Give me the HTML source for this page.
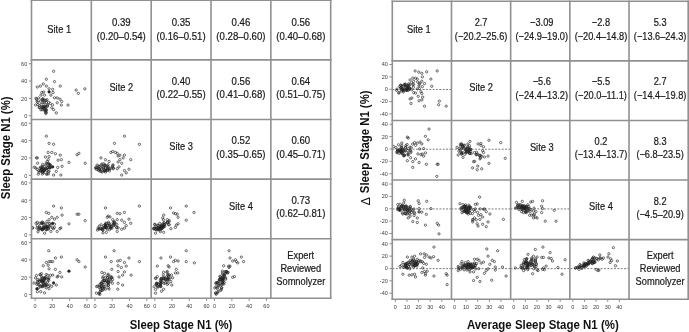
<!DOCTYPE html>
<html><head><meta charset="utf-8"><style>
html,body{margin:0;padding:0;background:#fff;}
svg{display:block;font-family:"Liberation Sans", sans-serif;filter:grayscale(1);}
</style></head><body>
<svg width="689" height="332" viewBox="0 0 689 332">
<rect x="0" y="0" width="689" height="332" fill="#fff"/>
<line x1="28.80" y1="115.70" x2="31.50" y2="115.70" stroke="#3a3a3a" stroke-width="0.6"/>
<text transform="translate(27.20,118.10) scale(1.000,1)" font-size="5.5" text-anchor="end" font-weight="normal" fill="#3a3a3a">0</text>
<line x1="28.80" y1="98.37" x2="31.50" y2="98.37" stroke="#3a3a3a" stroke-width="0.6"/>
<text transform="translate(27.20,100.77) scale(1.000,1)" font-size="5.5" text-anchor="end" font-weight="normal" fill="#3a3a3a">20</text>
<line x1="28.80" y1="81.03" x2="31.50" y2="81.03" stroke="#3a3a3a" stroke-width="0.6"/>
<text transform="translate(27.20,83.43) scale(1.000,1)" font-size="5.5" text-anchor="end" font-weight="normal" fill="#3a3a3a">40</text>
<line x1="28.80" y1="63.70" x2="31.50" y2="63.70" stroke="#3a3a3a" stroke-width="0.6"/>
<text transform="translate(27.20,66.10) scale(1.000,1)" font-size="5.5" text-anchor="end" font-weight="normal" fill="#3a3a3a">60</text>
<line x1="28.80" y1="175.30" x2="31.50" y2="175.30" stroke="#3a3a3a" stroke-width="0.6"/>
<text transform="translate(27.20,177.70) scale(1.000,1)" font-size="5.5" text-anchor="end" font-weight="normal" fill="#3a3a3a">0</text>
<line x1="28.80" y1="157.97" x2="31.50" y2="157.97" stroke="#3a3a3a" stroke-width="0.6"/>
<text transform="translate(27.20,160.37) scale(1.000,1)" font-size="5.5" text-anchor="end" font-weight="normal" fill="#3a3a3a">20</text>
<line x1="28.80" y1="140.63" x2="31.50" y2="140.63" stroke="#3a3a3a" stroke-width="0.6"/>
<text transform="translate(27.20,143.03) scale(1.000,1)" font-size="5.5" text-anchor="end" font-weight="normal" fill="#3a3a3a">40</text>
<line x1="28.80" y1="123.30" x2="31.50" y2="123.30" stroke="#3a3a3a" stroke-width="0.6"/>
<text transform="translate(27.20,125.70) scale(1.000,1)" font-size="5.5" text-anchor="end" font-weight="normal" fill="#3a3a3a">60</text>
<line x1="28.80" y1="234.90" x2="31.50" y2="234.90" stroke="#3a3a3a" stroke-width="0.6"/>
<text transform="translate(27.20,237.30) scale(1.000,1)" font-size="5.5" text-anchor="end" font-weight="normal" fill="#3a3a3a">0</text>
<line x1="28.80" y1="217.57" x2="31.50" y2="217.57" stroke="#3a3a3a" stroke-width="0.6"/>
<text transform="translate(27.20,219.97) scale(1.000,1)" font-size="5.5" text-anchor="end" font-weight="normal" fill="#3a3a3a">20</text>
<line x1="28.80" y1="200.23" x2="31.50" y2="200.23" stroke="#3a3a3a" stroke-width="0.6"/>
<text transform="translate(27.20,202.63) scale(1.000,1)" font-size="5.5" text-anchor="end" font-weight="normal" fill="#3a3a3a">40</text>
<line x1="28.80" y1="182.90" x2="31.50" y2="182.90" stroke="#3a3a3a" stroke-width="0.6"/>
<text transform="translate(27.20,185.30) scale(1.000,1)" font-size="5.5" text-anchor="end" font-weight="normal" fill="#3a3a3a">60</text>
<line x1="28.80" y1="294.50" x2="31.50" y2="294.50" stroke="#3a3a3a" stroke-width="0.6"/>
<text transform="translate(27.20,296.90) scale(1.000,1)" font-size="5.5" text-anchor="end" font-weight="normal" fill="#3a3a3a">0</text>
<line x1="28.80" y1="277.17" x2="31.50" y2="277.17" stroke="#3a3a3a" stroke-width="0.6"/>
<text transform="translate(27.20,279.57) scale(1.000,1)" font-size="5.5" text-anchor="end" font-weight="normal" fill="#3a3a3a">20</text>
<line x1="28.80" y1="259.83" x2="31.50" y2="259.83" stroke="#3a3a3a" stroke-width="0.6"/>
<text transform="translate(27.20,262.23) scale(1.000,1)" font-size="5.5" text-anchor="end" font-weight="normal" fill="#3a3a3a">40</text>
<line x1="28.80" y1="242.50" x2="31.50" y2="242.50" stroke="#3a3a3a" stroke-width="0.6"/>
<text transform="translate(27.20,244.90) scale(1.000,1)" font-size="5.5" text-anchor="end" font-weight="normal" fill="#3a3a3a">60</text>
<line x1="35.10" y1="298.30" x2="35.10" y2="300.90" stroke="#3a3a3a" stroke-width="0.6"/>
<text transform="translate(35.10,308.10) scale(1.000,1)" font-size="5.5" text-anchor="middle" font-weight="normal" fill="#3a3a3a">0</text>
<line x1="52.37" y1="298.30" x2="52.37" y2="300.90" stroke="#3a3a3a" stroke-width="0.6"/>
<text transform="translate(52.37,308.10) scale(1.000,1)" font-size="5.5" text-anchor="middle" font-weight="normal" fill="#3a3a3a">20</text>
<line x1="69.64" y1="298.30" x2="69.64" y2="300.90" stroke="#3a3a3a" stroke-width="0.6"/>
<text transform="translate(69.64,308.10) scale(1.000,1)" font-size="5.5" text-anchor="middle" font-weight="normal" fill="#3a3a3a">40</text>
<line x1="86.91" y1="298.30" x2="86.91" y2="300.90" stroke="#3a3a3a" stroke-width="0.6"/>
<text transform="translate(86.91,308.10) scale(1.000,1)" font-size="5.5" text-anchor="middle" font-weight="normal" fill="#3a3a3a">60</text>
<line x1="94.94" y1="298.30" x2="94.94" y2="300.90" stroke="#3a3a3a" stroke-width="0.6"/>
<text transform="translate(94.94,308.10) scale(1.000,1)" font-size="5.5" text-anchor="middle" font-weight="normal" fill="#3a3a3a">0</text>
<line x1="112.21" y1="298.30" x2="112.21" y2="300.90" stroke="#3a3a3a" stroke-width="0.6"/>
<text transform="translate(112.21,308.10) scale(1.000,1)" font-size="5.5" text-anchor="middle" font-weight="normal" fill="#3a3a3a">20</text>
<line x1="129.48" y1="298.30" x2="129.48" y2="300.90" stroke="#3a3a3a" stroke-width="0.6"/>
<text transform="translate(129.48,308.10) scale(1.000,1)" font-size="5.5" text-anchor="middle" font-weight="normal" fill="#3a3a3a">40</text>
<line x1="146.75" y1="298.30" x2="146.75" y2="300.90" stroke="#3a3a3a" stroke-width="0.6"/>
<text transform="translate(146.75,308.10) scale(1.000,1)" font-size="5.5" text-anchor="middle" font-weight="normal" fill="#3a3a3a">60</text>
<line x1="154.78" y1="298.30" x2="154.78" y2="300.90" stroke="#3a3a3a" stroke-width="0.6"/>
<text transform="translate(154.78,308.10) scale(1.000,1)" font-size="5.5" text-anchor="middle" font-weight="normal" fill="#3a3a3a">0</text>
<line x1="172.05" y1="298.30" x2="172.05" y2="300.90" stroke="#3a3a3a" stroke-width="0.6"/>
<text transform="translate(172.05,308.10) scale(1.000,1)" font-size="5.5" text-anchor="middle" font-weight="normal" fill="#3a3a3a">20</text>
<line x1="189.32" y1="298.30" x2="189.32" y2="300.90" stroke="#3a3a3a" stroke-width="0.6"/>
<text transform="translate(189.32,308.10) scale(1.000,1)" font-size="5.5" text-anchor="middle" font-weight="normal" fill="#3a3a3a">40</text>
<line x1="206.59" y1="298.30" x2="206.59" y2="300.90" stroke="#3a3a3a" stroke-width="0.6"/>
<text transform="translate(206.59,308.10) scale(1.000,1)" font-size="5.5" text-anchor="middle" font-weight="normal" fill="#3a3a3a">60</text>
<line x1="214.62" y1="298.30" x2="214.62" y2="300.90" stroke="#3a3a3a" stroke-width="0.6"/>
<text transform="translate(214.62,308.10) scale(1.000,1)" font-size="5.5" text-anchor="middle" font-weight="normal" fill="#3a3a3a">0</text>
<line x1="231.89" y1="298.30" x2="231.89" y2="300.90" stroke="#3a3a3a" stroke-width="0.6"/>
<text transform="translate(231.89,308.10) scale(1.000,1)" font-size="5.5" text-anchor="middle" font-weight="normal" fill="#3a3a3a">20</text>
<line x1="249.16" y1="298.30" x2="249.16" y2="300.90" stroke="#3a3a3a" stroke-width="0.6"/>
<text transform="translate(249.16,308.10) scale(1.000,1)" font-size="5.5" text-anchor="middle" font-weight="normal" fill="#3a3a3a">40</text>
<line x1="266.43" y1="298.30" x2="266.43" y2="300.90" stroke="#3a3a3a" stroke-width="0.6"/>
<text transform="translate(266.43,308.10) scale(1.000,1)" font-size="5.5" text-anchor="middle" font-weight="normal" fill="#3a3a3a">60</text>
<line x1="389.40" y1="64.53" x2="392.30" y2="64.53" stroke="#3a3a3a" stroke-width="0.6"/>
<text transform="translate(387.80,66.43) scale(1.000,1)" font-size="5.5" text-anchor="end" font-weight="normal" fill="#3a3a3a">40</text>
<line x1="389.40" y1="76.88" x2="392.30" y2="76.88" stroke="#3a3a3a" stroke-width="0.6"/>
<text transform="translate(387.80,78.78) scale(1.000,1)" font-size="5.5" text-anchor="end" font-weight="normal" fill="#3a3a3a">20</text>
<line x1="389.40" y1="89.23" x2="392.30" y2="89.23" stroke="#3a3a3a" stroke-width="0.6"/>
<text transform="translate(387.80,91.13) scale(1.000,1)" font-size="5.5" text-anchor="end" font-weight="normal" fill="#3a3a3a">0</text>
<line x1="389.40" y1="101.58" x2="392.30" y2="101.58" stroke="#3a3a3a" stroke-width="0.6"/>
<text transform="translate(387.80,103.48) scale(1.000,1)" font-size="5.5" text-anchor="end" font-weight="normal" fill="#3a3a3a">-20</text>
<line x1="389.40" y1="113.93" x2="392.30" y2="113.93" stroke="#3a3a3a" stroke-width="0.6"/>
<text transform="translate(387.80,115.83) scale(1.000,1)" font-size="5.5" text-anchor="end" font-weight="normal" fill="#3a3a3a">-40</text>
<line x1="389.40" y1="124.28" x2="392.30" y2="124.28" stroke="#3a3a3a" stroke-width="0.6"/>
<text transform="translate(387.80,126.18) scale(1.000,1)" font-size="5.5" text-anchor="end" font-weight="normal" fill="#3a3a3a">40</text>
<line x1="389.40" y1="136.63" x2="392.30" y2="136.63" stroke="#3a3a3a" stroke-width="0.6"/>
<text transform="translate(387.80,138.53) scale(1.000,1)" font-size="5.5" text-anchor="end" font-weight="normal" fill="#3a3a3a">20</text>
<line x1="389.40" y1="148.98" x2="392.30" y2="148.98" stroke="#3a3a3a" stroke-width="0.6"/>
<text transform="translate(387.80,150.88) scale(1.000,1)" font-size="5.5" text-anchor="end" font-weight="normal" fill="#3a3a3a">0</text>
<line x1="389.40" y1="161.33" x2="392.30" y2="161.33" stroke="#3a3a3a" stroke-width="0.6"/>
<text transform="translate(387.80,163.23) scale(1.000,1)" font-size="5.5" text-anchor="end" font-weight="normal" fill="#3a3a3a">-20</text>
<line x1="389.40" y1="173.68" x2="392.30" y2="173.68" stroke="#3a3a3a" stroke-width="0.6"/>
<text transform="translate(387.80,175.58) scale(1.000,1)" font-size="5.5" text-anchor="end" font-weight="normal" fill="#3a3a3a">-40</text>
<line x1="389.40" y1="184.03" x2="392.30" y2="184.03" stroke="#3a3a3a" stroke-width="0.6"/>
<text transform="translate(387.80,185.93) scale(1.000,1)" font-size="5.5" text-anchor="end" font-weight="normal" fill="#3a3a3a">40</text>
<line x1="389.40" y1="196.38" x2="392.30" y2="196.38" stroke="#3a3a3a" stroke-width="0.6"/>
<text transform="translate(387.80,198.28) scale(1.000,1)" font-size="5.5" text-anchor="end" font-weight="normal" fill="#3a3a3a">20</text>
<line x1="389.40" y1="208.73" x2="392.30" y2="208.73" stroke="#3a3a3a" stroke-width="0.6"/>
<text transform="translate(387.80,210.63) scale(1.000,1)" font-size="5.5" text-anchor="end" font-weight="normal" fill="#3a3a3a">0</text>
<line x1="389.40" y1="221.08" x2="392.30" y2="221.08" stroke="#3a3a3a" stroke-width="0.6"/>
<text transform="translate(387.80,222.98) scale(1.000,1)" font-size="5.5" text-anchor="end" font-weight="normal" fill="#3a3a3a">-20</text>
<line x1="389.40" y1="233.43" x2="392.30" y2="233.43" stroke="#3a3a3a" stroke-width="0.6"/>
<text transform="translate(387.80,235.33) scale(1.000,1)" font-size="5.5" text-anchor="end" font-weight="normal" fill="#3a3a3a">-40</text>
<line x1="389.40" y1="243.78" x2="392.30" y2="243.78" stroke="#3a3a3a" stroke-width="0.6"/>
<text transform="translate(387.80,245.68) scale(1.000,1)" font-size="5.5" text-anchor="end" font-weight="normal" fill="#3a3a3a">40</text>
<line x1="389.40" y1="256.13" x2="392.30" y2="256.13" stroke="#3a3a3a" stroke-width="0.6"/>
<text transform="translate(387.80,258.03) scale(1.000,1)" font-size="5.5" text-anchor="end" font-weight="normal" fill="#3a3a3a">20</text>
<line x1="389.40" y1="268.48" x2="392.30" y2="268.48" stroke="#3a3a3a" stroke-width="0.6"/>
<text transform="translate(387.80,270.38) scale(1.000,1)" font-size="5.5" text-anchor="end" font-weight="normal" fill="#3a3a3a">0</text>
<line x1="389.40" y1="280.83" x2="392.30" y2="280.83" stroke="#3a3a3a" stroke-width="0.6"/>
<text transform="translate(387.80,282.73) scale(1.000,1)" font-size="5.5" text-anchor="end" font-weight="normal" fill="#3a3a3a">-20</text>
<line x1="389.40" y1="293.18" x2="392.30" y2="293.18" stroke="#3a3a3a" stroke-width="0.6"/>
<text transform="translate(387.80,295.08) scale(1.000,1)" font-size="5.5" text-anchor="end" font-weight="normal" fill="#3a3a3a">-40</text>
<line x1="395.30" y1="299.20" x2="395.30" y2="301.80" stroke="#3a3a3a" stroke-width="0.6"/>
<text transform="translate(395.30,308.80) scale(1.000,1)" font-size="5.5" text-anchor="middle" font-weight="normal" fill="#3a3a3a">0</text>
<line x1="406.93" y1="299.20" x2="406.93" y2="301.80" stroke="#3a3a3a" stroke-width="0.6"/>
<text transform="translate(406.93,308.80) scale(1.000,1)" font-size="5.5" text-anchor="middle" font-weight="normal" fill="#3a3a3a">10</text>
<line x1="418.56" y1="299.20" x2="418.56" y2="301.80" stroke="#3a3a3a" stroke-width="0.6"/>
<text transform="translate(418.56,308.80) scale(1.000,1)" font-size="5.5" text-anchor="middle" font-weight="normal" fill="#3a3a3a">20</text>
<line x1="430.19" y1="299.20" x2="430.19" y2="301.80" stroke="#3a3a3a" stroke-width="0.6"/>
<text transform="translate(430.19,308.80) scale(1.000,1)" font-size="5.5" text-anchor="middle" font-weight="normal" fill="#3a3a3a">30</text>
<line x1="441.82" y1="299.20" x2="441.82" y2="301.80" stroke="#3a3a3a" stroke-width="0.6"/>
<text transform="translate(441.82,308.80) scale(1.000,1)" font-size="5.5" text-anchor="middle" font-weight="normal" fill="#3a3a3a">40</text>
<line x1="454.48" y1="299.20" x2="454.48" y2="301.80" stroke="#3a3a3a" stroke-width="0.6"/>
<text transform="translate(454.48,308.80) scale(1.000,1)" font-size="5.5" text-anchor="middle" font-weight="normal" fill="#3a3a3a">0</text>
<line x1="466.11" y1="299.20" x2="466.11" y2="301.80" stroke="#3a3a3a" stroke-width="0.6"/>
<text transform="translate(466.11,308.80) scale(1.000,1)" font-size="5.5" text-anchor="middle" font-weight="normal" fill="#3a3a3a">10</text>
<line x1="477.74" y1="299.20" x2="477.74" y2="301.80" stroke="#3a3a3a" stroke-width="0.6"/>
<text transform="translate(477.74,308.80) scale(1.000,1)" font-size="5.5" text-anchor="middle" font-weight="normal" fill="#3a3a3a">20</text>
<line x1="489.37" y1="299.20" x2="489.37" y2="301.80" stroke="#3a3a3a" stroke-width="0.6"/>
<text transform="translate(489.37,308.80) scale(1.000,1)" font-size="5.5" text-anchor="middle" font-weight="normal" fill="#3a3a3a">30</text>
<line x1="501.00" y1="299.20" x2="501.00" y2="301.80" stroke="#3a3a3a" stroke-width="0.6"/>
<text transform="translate(501.00,308.80) scale(1.000,1)" font-size="5.5" text-anchor="middle" font-weight="normal" fill="#3a3a3a">40</text>
<line x1="513.66" y1="299.20" x2="513.66" y2="301.80" stroke="#3a3a3a" stroke-width="0.6"/>
<text transform="translate(513.66,308.80) scale(1.000,1)" font-size="5.5" text-anchor="middle" font-weight="normal" fill="#3a3a3a">0</text>
<line x1="525.29" y1="299.20" x2="525.29" y2="301.80" stroke="#3a3a3a" stroke-width="0.6"/>
<text transform="translate(525.29,308.80) scale(1.000,1)" font-size="5.5" text-anchor="middle" font-weight="normal" fill="#3a3a3a">10</text>
<line x1="536.92" y1="299.20" x2="536.92" y2="301.80" stroke="#3a3a3a" stroke-width="0.6"/>
<text transform="translate(536.92,308.80) scale(1.000,1)" font-size="5.5" text-anchor="middle" font-weight="normal" fill="#3a3a3a">20</text>
<line x1="548.55" y1="299.20" x2="548.55" y2="301.80" stroke="#3a3a3a" stroke-width="0.6"/>
<text transform="translate(548.55,308.80) scale(1.000,1)" font-size="5.5" text-anchor="middle" font-weight="normal" fill="#3a3a3a">30</text>
<line x1="560.18" y1="299.20" x2="560.18" y2="301.80" stroke="#3a3a3a" stroke-width="0.6"/>
<text transform="translate(560.18,308.80) scale(1.000,1)" font-size="5.5" text-anchor="middle" font-weight="normal" fill="#3a3a3a">40</text>
<line x1="572.84" y1="299.20" x2="572.84" y2="301.80" stroke="#3a3a3a" stroke-width="0.6"/>
<text transform="translate(572.84,308.80) scale(1.000,1)" font-size="5.5" text-anchor="middle" font-weight="normal" fill="#3a3a3a">0</text>
<line x1="584.47" y1="299.20" x2="584.47" y2="301.80" stroke="#3a3a3a" stroke-width="0.6"/>
<text transform="translate(584.47,308.80) scale(1.000,1)" font-size="5.5" text-anchor="middle" font-weight="normal" fill="#3a3a3a">10</text>
<line x1="596.10" y1="299.20" x2="596.10" y2="301.80" stroke="#3a3a3a" stroke-width="0.6"/>
<text transform="translate(596.10,308.80) scale(1.000,1)" font-size="5.5" text-anchor="middle" font-weight="normal" fill="#3a3a3a">20</text>
<line x1="607.73" y1="299.20" x2="607.73" y2="301.80" stroke="#3a3a3a" stroke-width="0.6"/>
<text transform="translate(607.73,308.80) scale(1.000,1)" font-size="5.5" text-anchor="middle" font-weight="normal" fill="#3a3a3a">30</text>
<line x1="619.36" y1="299.20" x2="619.36" y2="301.80" stroke="#3a3a3a" stroke-width="0.6"/>
<text transform="translate(619.36,308.80) scale(1.000,1)" font-size="5.5" text-anchor="middle" font-weight="normal" fill="#3a3a3a">40</text>
<circle cx="53.59" cy="71.29" r="1.15" fill="none" stroke="#222" stroke-width="0.65"/>
<circle cx="46.36" cy="79.24" r="1.15" fill="none" stroke="#222" stroke-width="0.65"/>
<circle cx="54.50" cy="81.59" r="1.15" fill="none" stroke="#222" stroke-width="0.65"/>
<circle cx="60.28" cy="86.11" r="1.15" fill="none" stroke="#222" stroke-width="0.65"/>
<circle cx="43.29" cy="83.94" r="1.15" fill="none" stroke="#222" stroke-width="0.65"/>
<circle cx="40.40" cy="86.11" r="1.15" fill="none" stroke="#222" stroke-width="0.65"/>
<circle cx="37.33" cy="87.01" r="1.15" fill="none" stroke="#222" stroke-width="0.65"/>
<circle cx="46.36" cy="86.11" r="1.15" fill="none" stroke="#222" stroke-width="0.65"/>
<circle cx="76.18" cy="90.09" r="1.15" fill="none" stroke="#222" stroke-width="0.65"/>
<circle cx="84.86" cy="88.82" r="1.15" fill="none" stroke="#222" stroke-width="0.65"/>
<circle cx="78.35" cy="93.34" r="1.15" fill="none" stroke="#222" stroke-width="0.65"/>
<circle cx="56.30" cy="112.86" r="1.15" fill="none" stroke="#222" stroke-width="0.65"/>
<circle cx="68.05" cy="105.09" r="1.15" fill="none" stroke="#222" stroke-width="0.65"/>
<circle cx="61.36" cy="105.09" r="1.15" fill="none" stroke="#222" stroke-width="0.65"/>
<circle cx="61.72" cy="101.47" r="1.15" fill="none" stroke="#222" stroke-width="0.65"/>
<circle cx="59.92" cy="99.12" r="1.15" fill="none" stroke="#222" stroke-width="0.65"/>
<circle cx="57.21" cy="102.74" r="1.15" fill="none" stroke="#222" stroke-width="0.65"/>
<circle cx="57.21" cy="97.86" r="1.15" fill="none" stroke="#222" stroke-width="0.65"/>
<circle cx="54.50" cy="97.86" r="1.15" fill="none" stroke="#222" stroke-width="0.65"/>
<circle cx="52.69" cy="89.36" r="1.15" fill="none" stroke="#222" stroke-width="0.65"/>
<circle cx="53.05" cy="92.44" r="1.15" fill="none" stroke="#222" stroke-width="0.65"/>
<circle cx="49.07" cy="91.89" r="1.15" fill="none" stroke="#222" stroke-width="0.65"/>
<circle cx="49.07" cy="88.82" r="1.15" fill="none" stroke="#222" stroke-width="0.65"/>
<circle cx="43.65" cy="92.07" r="1.15" fill="none" stroke="#222" stroke-width="0.65"/>
<circle cx="41.84" cy="92.44" r="1.15" fill="none" stroke="#222" stroke-width="0.65"/>
<circle cx="40.94" cy="95.15" r="1.15" fill="none" stroke="#222" stroke-width="0.65"/>
<circle cx="44.56" cy="95.15" r="1.15" fill="none" stroke="#222" stroke-width="0.65"/>
<circle cx="50.88" cy="95.15" r="1.15" fill="none" stroke="#222" stroke-width="0.65"/>
<circle cx="53.59" cy="109.61" r="1.15" fill="none" stroke="#222" stroke-width="0.65"/>
<circle cx="51.78" cy="107.80" r="1.15" fill="none" stroke="#222" stroke-width="0.65"/>
<circle cx="41.09" cy="104.38" r="1.15" fill="none" stroke="#222" stroke-width="0.65"/>
<circle cx="44.16" cy="102.80" r="1.15" fill="none" stroke="#222" stroke-width="0.65"/>
<circle cx="41.84" cy="99.62" r="1.15" fill="none" stroke="#222" stroke-width="0.65"/>
<circle cx="45.21" cy="110.78" r="1.15" fill="none" stroke="#222" stroke-width="0.65"/>
<circle cx="45.64" cy="110.06" r="1.15" fill="none" stroke="#222" stroke-width="0.65"/>
<circle cx="44.08" cy="106.83" r="1.15" fill="none" stroke="#222" stroke-width="0.65"/>
<circle cx="35.93" cy="98.30" r="1.15" fill="none" stroke="#222" stroke-width="0.65"/>
<circle cx="43.26" cy="108.02" r="1.15" fill="none" stroke="#222" stroke-width="0.65"/>
<circle cx="42.87" cy="99.28" r="1.15" fill="none" stroke="#222" stroke-width="0.65"/>
<circle cx="44.67" cy="105.92" r="1.15" fill="none" stroke="#222" stroke-width="0.65"/>
<circle cx="47.42" cy="105.71" r="1.15" fill="none" stroke="#222" stroke-width="0.65"/>
<circle cx="43.09" cy="106.85" r="1.15" fill="none" stroke="#222" stroke-width="0.65"/>
<circle cx="35.61" cy="104.94" r="1.15" fill="none" stroke="#222" stroke-width="0.65"/>
<circle cx="40.88" cy="109.72" r="1.15" fill="none" stroke="#222" stroke-width="0.65"/>
<circle cx="44.60" cy="100.02" r="1.15" fill="none" stroke="#222" stroke-width="0.65"/>
<circle cx="43.08" cy="102.67" r="1.15" fill="none" stroke="#222" stroke-width="0.65"/>
<circle cx="44.51" cy="108.11" r="1.15" fill="none" stroke="#222" stroke-width="0.65"/>
<circle cx="45.86" cy="100.39" r="1.15" fill="none" stroke="#222" stroke-width="0.65"/>
<circle cx="37.79" cy="104.58" r="1.15" fill="none" stroke="#222" stroke-width="0.65"/>
<circle cx="40.52" cy="101.16" r="1.15" fill="none" stroke="#222" stroke-width="0.65"/>
<circle cx="50.22" cy="103.49" r="1.15" fill="none" stroke="#222" stroke-width="0.65"/>
<circle cx="39.07" cy="107.50" r="1.15" fill="none" stroke="#222" stroke-width="0.65"/>
<circle cx="46.31" cy="102.33" r="1.15" fill="none" stroke="#222" stroke-width="0.65"/>
<circle cx="45.26" cy="106.81" r="1.15" fill="none" stroke="#222" stroke-width="0.65"/>
<circle cx="36.59" cy="99.22" r="1.15" fill="none" stroke="#222" stroke-width="0.65"/>
<circle cx="42.10" cy="109.74" r="1.15" fill="none" stroke="#222" stroke-width="0.65"/>
<circle cx="46.35" cy="112.24" r="1.15" fill="none" stroke="#222" stroke-width="0.65"/>
<circle cx="48.68" cy="102.41" r="1.15" fill="none" stroke="#222" stroke-width="0.65"/>
<circle cx="47.57" cy="106.23" r="1.15" fill="none" stroke="#222" stroke-width="0.65"/>
<circle cx="46.96" cy="99.73" r="1.15" fill="none" stroke="#222" stroke-width="0.65"/>
<circle cx="42.88" cy="98.78" r="1.15" fill="none" stroke="#222" stroke-width="0.65"/>
<circle cx="38.73" cy="98.02" r="1.15" fill="none" stroke="#222" stroke-width="0.65"/>
<circle cx="45.58" cy="112.70" r="1.15" fill="none" stroke="#222" stroke-width="0.65"/>
<circle cx="47.30" cy="104.73" r="1.15" fill="none" stroke="#222" stroke-width="0.65"/>
<circle cx="37.01" cy="101.19" r="1.15" fill="none" stroke="#222" stroke-width="0.65"/>
<circle cx="46.15" cy="110.18" r="1.15" fill="none" stroke="#222" stroke-width="0.65"/>
<circle cx="42.77" cy="106.63" r="1.15" fill="none" stroke="#222" stroke-width="0.65"/>
<circle cx="45.85" cy="113.51" r="1.15" fill="none" stroke="#222" stroke-width="0.65"/>
<circle cx="43.12" cy="108.18" r="1.15" fill="none" stroke="#222" stroke-width="0.65"/>
<circle cx="44.39" cy="110.25" r="1.15" fill="none" stroke="#222" stroke-width="0.65"/>
<circle cx="52.54" cy="104.82" r="1.15" fill="none" stroke="#222" stroke-width="0.65"/>
<circle cx="39.46" cy="105.78" r="1.15" fill="none" stroke="#222" stroke-width="0.65"/>
<circle cx="45.73" cy="106.89" r="1.15" fill="none" stroke="#222" stroke-width="0.65"/>
<circle cx="42.21" cy="107.46" r="1.15" fill="none" stroke="#222" stroke-width="0.65"/>
<circle cx="39.85" cy="107.51" r="1.15" fill="none" stroke="#222" stroke-width="0.65"/>
<circle cx="43.31" cy="100.49" r="1.15" fill="none" stroke="#222" stroke-width="0.65"/>
<circle cx="46.45" cy="109.62" r="1.15" fill="none" stroke="#222" stroke-width="0.65"/>
<circle cx="37.78" cy="102.28" r="1.15" fill="none" stroke="#222" stroke-width="0.65"/>
<circle cx="49.07" cy="91.89" r="1.3499999999999999" fill="#222"/>
<circle cx="46.36" cy="136.17" r="1.15" fill="none" stroke="#222" stroke-width="0.65"/>
<circle cx="49.07" cy="143.40" r="1.15" fill="none" stroke="#222" stroke-width="0.65"/>
<circle cx="53.59" cy="144.30" r="1.15" fill="none" stroke="#222" stroke-width="0.65"/>
<circle cx="48.17" cy="152.44" r="1.15" fill="none" stroke="#222" stroke-width="0.65"/>
<circle cx="51.78" cy="152.44" r="1.15" fill="none" stroke="#222" stroke-width="0.65"/>
<circle cx="55.40" cy="153.70" r="1.15" fill="none" stroke="#222" stroke-width="0.65"/>
<circle cx="60.28" cy="155.15" r="1.15" fill="none" stroke="#222" stroke-width="0.65"/>
<circle cx="45.46" cy="156.95" r="1.15" fill="none" stroke="#222" stroke-width="0.65"/>
<circle cx="49.07" cy="156.59" r="1.15" fill="none" stroke="#222" stroke-width="0.65"/>
<circle cx="58.11" cy="160.21" r="1.15" fill="none" stroke="#222" stroke-width="0.65"/>
<circle cx="61.36" cy="159.67" r="1.15" fill="none" stroke="#222" stroke-width="0.65"/>
<circle cx="68.95" cy="162.38" r="1.15" fill="none" stroke="#222" stroke-width="0.65"/>
<circle cx="77.09" cy="154.79" r="1.15" fill="none" stroke="#222" stroke-width="0.65"/>
<circle cx="78.89" cy="153.34" r="1.15" fill="none" stroke="#222" stroke-width="0.65"/>
<circle cx="85.22" cy="163.28" r="1.15" fill="none" stroke="#222" stroke-width="0.65"/>
<circle cx="36.42" cy="157.86" r="1.15" fill="none" stroke="#222" stroke-width="0.65"/>
<circle cx="37.33" cy="157.86" r="1.15" fill="none" stroke="#222" stroke-width="0.65"/>
<circle cx="62.09" cy="166.35" r="1.15" fill="none" stroke="#222" stroke-width="0.65"/>
<circle cx="57.75" cy="167.44" r="1.15" fill="none" stroke="#222" stroke-width="0.65"/>
<circle cx="60.82" cy="175.03" r="1.15" fill="none" stroke="#222" stroke-width="0.65"/>
<circle cx="53.59" cy="175.03" r="1.15" fill="none" stroke="#222" stroke-width="0.65"/>
<circle cx="56.30" cy="171.41" r="1.15" fill="none" stroke="#222" stroke-width="0.65"/>
<circle cx="52.69" cy="166.89" r="1.15" fill="none" stroke="#222" stroke-width="0.65"/>
<circle cx="49.98" cy="167.80" r="1.15" fill="none" stroke="#222" stroke-width="0.65"/>
<circle cx="47.27" cy="161.47" r="1.15" fill="none" stroke="#222" stroke-width="0.65"/>
<circle cx="48.17" cy="159.67" r="1.15" fill="none" stroke="#222" stroke-width="0.65"/>
<circle cx="50.08" cy="166.91" r="1.15" fill="none" stroke="#222" stroke-width="0.65"/>
<circle cx="35.84" cy="168.03" r="1.15" fill="none" stroke="#222" stroke-width="0.65"/>
<circle cx="42.00" cy="167.44" r="1.15" fill="none" stroke="#222" stroke-width="0.65"/>
<circle cx="49.78" cy="164.81" r="1.15" fill="none" stroke="#222" stroke-width="0.65"/>
<circle cx="49.06" cy="163.94" r="1.15" fill="none" stroke="#222" stroke-width="0.65"/>
<circle cx="38.81" cy="170.80" r="1.15" fill="none" stroke="#222" stroke-width="0.65"/>
<circle cx="48.40" cy="171.63" r="1.15" fill="none" stroke="#222" stroke-width="0.65"/>
<circle cx="44.48" cy="169.04" r="1.15" fill="none" stroke="#222" stroke-width="0.65"/>
<circle cx="43.51" cy="170.60" r="1.15" fill="none" stroke="#222" stroke-width="0.65"/>
<circle cx="41.87" cy="169.52" r="1.15" fill="none" stroke="#222" stroke-width="0.65"/>
<circle cx="45.61" cy="168.52" r="1.15" fill="none" stroke="#222" stroke-width="0.65"/>
<circle cx="46.57" cy="170.57" r="1.15" fill="none" stroke="#222" stroke-width="0.65"/>
<circle cx="40.61" cy="167.17" r="1.15" fill="none" stroke="#222" stroke-width="0.65"/>
<circle cx="42.68" cy="171.86" r="1.15" fill="none" stroke="#222" stroke-width="0.65"/>
<circle cx="41.06" cy="169.92" r="1.15" fill="none" stroke="#222" stroke-width="0.65"/>
<circle cx="37.12" cy="169.40" r="1.15" fill="none" stroke="#222" stroke-width="0.65"/>
<circle cx="44.74" cy="169.38" r="1.15" fill="none" stroke="#222" stroke-width="0.65"/>
<circle cx="40.59" cy="170.89" r="1.15" fill="none" stroke="#222" stroke-width="0.65"/>
<circle cx="44.16" cy="166.63" r="1.15" fill="none" stroke="#222" stroke-width="0.65"/>
<circle cx="39.97" cy="168.16" r="1.15" fill="none" stroke="#222" stroke-width="0.65"/>
<circle cx="41.62" cy="168.29" r="1.15" fill="none" stroke="#222" stroke-width="0.65"/>
<circle cx="47.80" cy="164.30" r="1.15" fill="none" stroke="#222" stroke-width="0.65"/>
<circle cx="42.41" cy="171.97" r="1.15" fill="none" stroke="#222" stroke-width="0.65"/>
<circle cx="47.03" cy="173.91" r="1.15" fill="none" stroke="#222" stroke-width="0.65"/>
<circle cx="34.23" cy="167.24" r="1.15" fill="none" stroke="#222" stroke-width="0.65"/>
<circle cx="41.04" cy="170.77" r="1.15" fill="none" stroke="#222" stroke-width="0.65"/>
<circle cx="48.20" cy="163.29" r="1.15" fill="none" stroke="#222" stroke-width="0.65"/>
<circle cx="46.17" cy="163.13" r="1.15" fill="none" stroke="#222" stroke-width="0.65"/>
<circle cx="43.63" cy="172.84" r="1.15" fill="none" stroke="#222" stroke-width="0.65"/>
<circle cx="42.00" cy="169.21" r="1.15" fill="none" stroke="#222" stroke-width="0.65"/>
<circle cx="46.74" cy="169.03" r="1.15" fill="none" stroke="#222" stroke-width="0.65"/>
<circle cx="42.30" cy="174.06" r="1.15" fill="none" stroke="#222" stroke-width="0.65"/>
<circle cx="48.00" cy="167.46" r="1.15" fill="none" stroke="#222" stroke-width="0.65"/>
<circle cx="47.33" cy="167.56" r="1.15" fill="none" stroke="#222" stroke-width="0.65"/>
<circle cx="43.41" cy="171.07" r="1.15" fill="none" stroke="#222" stroke-width="0.65"/>
<circle cx="43.86" cy="170.83" r="1.15" fill="none" stroke="#222" stroke-width="0.65"/>
<circle cx="45.83" cy="165.04" r="1.15" fill="none" stroke="#222" stroke-width="0.65"/>
<circle cx="37.61" cy="163.21" r="1.15" fill="none" stroke="#222" stroke-width="0.65"/>
<circle cx="49.09" cy="171.22" r="1.15" fill="none" stroke="#222" stroke-width="0.65"/>
<circle cx="50.12" cy="165.13" r="1.15" fill="none" stroke="#222" stroke-width="0.65"/>
<circle cx="42.75" cy="164.40" r="1.15" fill="none" stroke="#222" stroke-width="0.65"/>
<circle cx="46.58" cy="174.27" r="1.15" fill="none" stroke="#222" stroke-width="0.65"/>
<circle cx="38.29" cy="174.16" r="1.15" fill="none" stroke="#222" stroke-width="0.65"/>
<circle cx="47.69" cy="167.88" r="1.15" fill="none" stroke="#222" stroke-width="0.65"/>
<circle cx="42.27" cy="166.34" r="1.15" fill="none" stroke="#222" stroke-width="0.65"/>
<circle cx="44.75" cy="170.00" r="1.15" fill="none" stroke="#222" stroke-width="0.65"/>
<circle cx="50.25" cy="164.83" r="1.15" fill="none" stroke="#222" stroke-width="0.65"/>
<circle cx="48.43" cy="173.90" r="1.15" fill="none" stroke="#222" stroke-width="0.65"/>
<circle cx="50.02" cy="167.87" r="1.15" fill="none" stroke="#222" stroke-width="0.65"/>
<circle cx="39.02" cy="172.20" r="1.15" fill="none" stroke="#222" stroke-width="0.65"/>
<circle cx="43.32" cy="168.97" r="1.15" fill="none" stroke="#222" stroke-width="0.65"/>
<circle cx="49.88" cy="167.57" r="1.15" fill="none" stroke="#222" stroke-width="0.65"/>
<circle cx="52.69" cy="166.89" r="1.3499999999999999" fill="#222"/>
<circle cx="124.44" cy="136.17" r="1.15" fill="none" stroke="#222" stroke-width="0.65"/>
<circle cx="114.50" cy="143.40" r="1.15" fill="none" stroke="#222" stroke-width="0.65"/>
<circle cx="139.44" cy="144.30" r="1.15" fill="none" stroke="#222" stroke-width="0.65"/>
<circle cx="110.88" cy="152.44" r="1.15" fill="none" stroke="#222" stroke-width="0.65"/>
<circle cx="112.69" cy="151.53" r="1.15" fill="none" stroke="#222" stroke-width="0.65"/>
<circle cx="115.40" cy="152.44" r="1.15" fill="none" stroke="#222" stroke-width="0.65"/>
<circle cx="117.21" cy="153.34" r="1.15" fill="none" stroke="#222" stroke-width="0.65"/>
<circle cx="118.11" cy="156.05" r="1.15" fill="none" stroke="#222" stroke-width="0.65"/>
<circle cx="119.92" cy="155.15" r="1.15" fill="none" stroke="#222" stroke-width="0.65"/>
<circle cx="124.44" cy="155.15" r="1.15" fill="none" stroke="#222" stroke-width="0.65"/>
<circle cx="123.17" cy="157.86" r="1.15" fill="none" stroke="#222" stroke-width="0.65"/>
<circle cx="130.76" cy="159.67" r="1.15" fill="none" stroke="#222" stroke-width="0.65"/>
<circle cx="119.92" cy="159.67" r="1.15" fill="none" stroke="#222" stroke-width="0.65"/>
<circle cx="121.72" cy="163.28" r="1.15" fill="none" stroke="#222" stroke-width="0.65"/>
<circle cx="118.11" cy="162.01" r="1.15" fill="none" stroke="#222" stroke-width="0.65"/>
<circle cx="119.01" cy="166.89" r="1.15" fill="none" stroke="#222" stroke-width="0.65"/>
<circle cx="117.21" cy="168.70" r="1.15" fill="none" stroke="#222" stroke-width="0.65"/>
<circle cx="124.44" cy="170.51" r="1.15" fill="none" stroke="#222" stroke-width="0.65"/>
<circle cx="128.95" cy="169.24" r="1.15" fill="none" stroke="#222" stroke-width="0.65"/>
<circle cx="126.24" cy="172.86" r="1.15" fill="none" stroke="#222" stroke-width="0.65"/>
<circle cx="121.72" cy="175.03" r="1.15" fill="none" stroke="#222" stroke-width="0.65"/>
<circle cx="100.94" cy="157.86" r="1.15" fill="none" stroke="#222" stroke-width="0.65"/>
<circle cx="105.46" cy="159.67" r="1.15" fill="none" stroke="#222" stroke-width="0.65"/>
<circle cx="109.07" cy="161.47" r="1.15" fill="none" stroke="#222" stroke-width="0.65"/>
<circle cx="105.02" cy="165.42" r="1.15" fill="none" stroke="#222" stroke-width="0.65"/>
<circle cx="104.69" cy="170.49" r="1.15" fill="none" stroke="#222" stroke-width="0.65"/>
<circle cx="105.54" cy="171.97" r="1.15" fill="none" stroke="#222" stroke-width="0.65"/>
<circle cx="104.61" cy="171.23" r="1.15" fill="none" stroke="#222" stroke-width="0.65"/>
<circle cx="101.52" cy="171.50" r="1.15" fill="none" stroke="#222" stroke-width="0.65"/>
<circle cx="98.05" cy="169.35" r="1.15" fill="none" stroke="#222" stroke-width="0.65"/>
<circle cx="103.06" cy="167.95" r="1.15" fill="none" stroke="#222" stroke-width="0.65"/>
<circle cx="101.35" cy="169.32" r="1.15" fill="none" stroke="#222" stroke-width="0.65"/>
<circle cx="112.71" cy="165.62" r="1.15" fill="none" stroke="#222" stroke-width="0.65"/>
<circle cx="107.44" cy="170.33" r="1.15" fill="none" stroke="#222" stroke-width="0.65"/>
<circle cx="101.97" cy="163.99" r="1.15" fill="none" stroke="#222" stroke-width="0.65"/>
<circle cx="102.25" cy="171.98" r="1.15" fill="none" stroke="#222" stroke-width="0.65"/>
<circle cx="95.54" cy="168.00" r="1.15" fill="none" stroke="#222" stroke-width="0.65"/>
<circle cx="109.57" cy="169.05" r="1.15" fill="none" stroke="#222" stroke-width="0.65"/>
<circle cx="104.75" cy="170.38" r="1.15" fill="none" stroke="#222" stroke-width="0.65"/>
<circle cx="103.80" cy="163.78" r="1.15" fill="none" stroke="#222" stroke-width="0.65"/>
<circle cx="95.90" cy="167.76" r="1.15" fill="none" stroke="#222" stroke-width="0.65"/>
<circle cx="107.99" cy="164.78" r="1.15" fill="none" stroke="#222" stroke-width="0.65"/>
<circle cx="98.98" cy="166.48" r="1.15" fill="none" stroke="#222" stroke-width="0.65"/>
<circle cx="96.51" cy="169.40" r="1.15" fill="none" stroke="#222" stroke-width="0.65"/>
<circle cx="98.62" cy="170.50" r="1.15" fill="none" stroke="#222" stroke-width="0.65"/>
<circle cx="107.28" cy="165.97" r="1.15" fill="none" stroke="#222" stroke-width="0.65"/>
<circle cx="105.02" cy="165.94" r="1.15" fill="none" stroke="#222" stroke-width="0.65"/>
<circle cx="108.43" cy="169.20" r="1.15" fill="none" stroke="#222" stroke-width="0.65"/>
<circle cx="107.52" cy="167.99" r="1.15" fill="none" stroke="#222" stroke-width="0.65"/>
<circle cx="111.03" cy="168.20" r="1.15" fill="none" stroke="#222" stroke-width="0.65"/>
<circle cx="109.48" cy="170.86" r="1.15" fill="none" stroke="#222" stroke-width="0.65"/>
<circle cx="102.17" cy="166.67" r="1.15" fill="none" stroke="#222" stroke-width="0.65"/>
<circle cx="100.12" cy="171.22" r="1.15" fill="none" stroke="#222" stroke-width="0.65"/>
<circle cx="113.03" cy="164.97" r="1.15" fill="none" stroke="#222" stroke-width="0.65"/>
<circle cx="107.51" cy="169.98" r="1.15" fill="none" stroke="#222" stroke-width="0.65"/>
<circle cx="99.56" cy="168.68" r="1.15" fill="none" stroke="#222" stroke-width="0.65"/>
<circle cx="106.14" cy="170.08" r="1.15" fill="none" stroke="#222" stroke-width="0.65"/>
<circle cx="103.68" cy="167.21" r="1.15" fill="none" stroke="#222" stroke-width="0.65"/>
<circle cx="98.79" cy="167.96" r="1.15" fill="none" stroke="#222" stroke-width="0.65"/>
<circle cx="108.41" cy="166.97" r="1.15" fill="none" stroke="#222" stroke-width="0.65"/>
<circle cx="99.16" cy="166.19" r="1.15" fill="none" stroke="#222" stroke-width="0.65"/>
<circle cx="107.43" cy="168.54" r="1.15" fill="none" stroke="#222" stroke-width="0.65"/>
<circle cx="112.52" cy="167.00" r="1.15" fill="none" stroke="#222" stroke-width="0.65"/>
<circle cx="104.14" cy="169.57" r="1.15" fill="none" stroke="#222" stroke-width="0.65"/>
<circle cx="104.98" cy="165.11" r="1.15" fill="none" stroke="#222" stroke-width="0.65"/>
<circle cx="96.66" cy="167.47" r="1.15" fill="none" stroke="#222" stroke-width="0.65"/>
<circle cx="105.58" cy="168.01" r="1.15" fill="none" stroke="#222" stroke-width="0.65"/>
<circle cx="101.25" cy="165.17" r="1.15" fill="none" stroke="#222" stroke-width="0.65"/>
<circle cx="97.08" cy="165.01" r="1.15" fill="none" stroke="#222" stroke-width="0.65"/>
<circle cx="113.10" cy="168.78" r="1.15" fill="none" stroke="#222" stroke-width="0.65"/>
<circle cx="113.52" cy="168.05" r="1.15" fill="none" stroke="#222" stroke-width="0.65"/>
<circle cx="100.02" cy="169.77" r="1.15" fill="none" stroke="#222" stroke-width="0.65"/>
<circle cx="53.59" cy="206.11" r="1.15" fill="none" stroke="#222" stroke-width="0.65"/>
<circle cx="61.36" cy="207.92" r="1.15" fill="none" stroke="#222" stroke-width="0.65"/>
<circle cx="46.36" cy="212.44" r="1.15" fill="none" stroke="#222" stroke-width="0.65"/>
<circle cx="48.71" cy="213.34" r="1.15" fill="none" stroke="#222" stroke-width="0.65"/>
<circle cx="62.09" cy="215.15" r="1.15" fill="none" stroke="#222" stroke-width="0.65"/>
<circle cx="57.21" cy="217.32" r="1.15" fill="none" stroke="#222" stroke-width="0.65"/>
<circle cx="54.50" cy="219.12" r="1.15" fill="none" stroke="#222" stroke-width="0.65"/>
<circle cx="51.78" cy="217.32" r="1.15" fill="none" stroke="#222" stroke-width="0.65"/>
<circle cx="77.09" cy="214.24" r="1.15" fill="none" stroke="#222" stroke-width="0.65"/>
<circle cx="78.89" cy="214.24" r="1.15" fill="none" stroke="#222" stroke-width="0.65"/>
<circle cx="85.22" cy="220.57" r="1.15" fill="none" stroke="#222" stroke-width="0.65"/>
<circle cx="68.95" cy="223.82" r="1.15" fill="none" stroke="#222" stroke-width="0.65"/>
<circle cx="60.82" cy="227.80" r="1.15" fill="none" stroke="#222" stroke-width="0.65"/>
<circle cx="59.92" cy="228.70" r="1.15" fill="none" stroke="#222" stroke-width="0.65"/>
<circle cx="57.21" cy="231.41" r="1.15" fill="none" stroke="#222" stroke-width="0.65"/>
<circle cx="50.88" cy="231.41" r="1.15" fill="none" stroke="#222" stroke-width="0.65"/>
<circle cx="44.56" cy="233.22" r="1.15" fill="none" stroke="#222" stroke-width="0.65"/>
<circle cx="49.07" cy="219.67" r="1.15" fill="none" stroke="#222" stroke-width="0.65"/>
<circle cx="37.33" cy="222.38" r="1.15" fill="none" stroke="#222" stroke-width="0.65"/>
<circle cx="36.06" cy="223.28" r="1.15" fill="none" stroke="#222" stroke-width="0.65"/>
<circle cx="52.69" cy="223.28" r="1.15" fill="none" stroke="#222" stroke-width="0.65"/>
<circle cx="54.50" cy="224.18" r="1.15" fill="none" stroke="#222" stroke-width="0.65"/>
<circle cx="43.44" cy="228.37" r="1.15" fill="none" stroke="#222" stroke-width="0.65"/>
<circle cx="39.39" cy="226.92" r="1.15" fill="none" stroke="#222" stroke-width="0.65"/>
<circle cx="46.41" cy="227.70" r="1.15" fill="none" stroke="#222" stroke-width="0.65"/>
<circle cx="47.41" cy="227.15" r="1.15" fill="none" stroke="#222" stroke-width="0.65"/>
<circle cx="41.96" cy="229.25" r="1.15" fill="none" stroke="#222" stroke-width="0.65"/>
<circle cx="43.74" cy="224.58" r="1.15" fill="none" stroke="#222" stroke-width="0.65"/>
<circle cx="40.01" cy="227.21" r="1.15" fill="none" stroke="#222" stroke-width="0.65"/>
<circle cx="43.05" cy="227.39" r="1.15" fill="none" stroke="#222" stroke-width="0.65"/>
<circle cx="43.69" cy="227.38" r="1.15" fill="none" stroke="#222" stroke-width="0.65"/>
<circle cx="42.57" cy="223.48" r="1.15" fill="none" stroke="#222" stroke-width="0.65"/>
<circle cx="46.36" cy="229.60" r="1.15" fill="none" stroke="#222" stroke-width="0.65"/>
<circle cx="46.13" cy="226.15" r="1.15" fill="none" stroke="#222" stroke-width="0.65"/>
<circle cx="46.01" cy="223.99" r="1.15" fill="none" stroke="#222" stroke-width="0.65"/>
<circle cx="32.64" cy="228.02" r="1.15" fill="none" stroke="#222" stroke-width="0.65"/>
<circle cx="38.42" cy="229.42" r="1.15" fill="none" stroke="#222" stroke-width="0.65"/>
<circle cx="37.99" cy="231.79" r="1.15" fill="none" stroke="#222" stroke-width="0.65"/>
<circle cx="41.10" cy="223.30" r="1.15" fill="none" stroke="#222" stroke-width="0.65"/>
<circle cx="39.34" cy="228.73" r="1.15" fill="none" stroke="#222" stroke-width="0.65"/>
<circle cx="46.58" cy="227.13" r="1.15" fill="none" stroke="#222" stroke-width="0.65"/>
<circle cx="52.45" cy="228.10" r="1.15" fill="none" stroke="#222" stroke-width="0.65"/>
<circle cx="43.67" cy="228.56" r="1.15" fill="none" stroke="#222" stroke-width="0.65"/>
<circle cx="53.51" cy="228.74" r="1.15" fill="none" stroke="#222" stroke-width="0.65"/>
<circle cx="49.34" cy="223.37" r="1.15" fill="none" stroke="#222" stroke-width="0.65"/>
<circle cx="42.96" cy="228.99" r="1.15" fill="none" stroke="#222" stroke-width="0.65"/>
<circle cx="42.19" cy="230.01" r="1.15" fill="none" stroke="#222" stroke-width="0.65"/>
<circle cx="47.34" cy="229.11" r="1.15" fill="none" stroke="#222" stroke-width="0.65"/>
<circle cx="50.81" cy="225.67" r="1.15" fill="none" stroke="#222" stroke-width="0.65"/>
<circle cx="41.87" cy="229.49" r="1.15" fill="none" stroke="#222" stroke-width="0.65"/>
<circle cx="49.36" cy="226.41" r="1.15" fill="none" stroke="#222" stroke-width="0.65"/>
<circle cx="36.91" cy="228.01" r="1.15" fill="none" stroke="#222" stroke-width="0.65"/>
<circle cx="46.02" cy="229.84" r="1.15" fill="none" stroke="#222" stroke-width="0.65"/>
<circle cx="48.21" cy="226.56" r="1.15" fill="none" stroke="#222" stroke-width="0.65"/>
<circle cx="48.75" cy="227.96" r="1.15" fill="none" stroke="#222" stroke-width="0.65"/>
<circle cx="44.86" cy="226.94" r="1.15" fill="none" stroke="#222" stroke-width="0.65"/>
<circle cx="42.40" cy="228.92" r="1.15" fill="none" stroke="#222" stroke-width="0.65"/>
<circle cx="37.37" cy="225.69" r="1.15" fill="none" stroke="#222" stroke-width="0.65"/>
<circle cx="43.33" cy="222.84" r="1.15" fill="none" stroke="#222" stroke-width="0.65"/>
<circle cx="39.82" cy="228.82" r="1.15" fill="none" stroke="#222" stroke-width="0.65"/>
<circle cx="46.93" cy="226.46" r="1.15" fill="none" stroke="#222" stroke-width="0.65"/>
<circle cx="41.96" cy="223.09" r="1.15" fill="none" stroke="#222" stroke-width="0.65"/>
<circle cx="54.41" cy="227.39" r="1.15" fill="none" stroke="#222" stroke-width="0.65"/>
<circle cx="49.80" cy="223.89" r="1.15" fill="none" stroke="#222" stroke-width="0.65"/>
<circle cx="42.13" cy="221.95" r="1.15" fill="none" stroke="#222" stroke-width="0.65"/>
<circle cx="48.42" cy="229.09" r="1.15" fill="none" stroke="#222" stroke-width="0.65"/>
<circle cx="32.60" cy="227.72" r="1.15" fill="none" stroke="#222" stroke-width="0.65"/>
<circle cx="46.89" cy="221.69" r="1.15" fill="none" stroke="#222" stroke-width="0.65"/>
<circle cx="39.65" cy="223.33" r="1.15" fill="none" stroke="#222" stroke-width="0.65"/>
<circle cx="43.90" cy="227.57" r="1.15" fill="none" stroke="#222" stroke-width="0.65"/>
<circle cx="52.69" cy="223.28" r="1.3499999999999999" fill="#222"/>
<circle cx="105.46" cy="207.92" r="1.15" fill="none" stroke="#222" stroke-width="0.65"/>
<circle cx="139.44" cy="206.11" r="1.15" fill="none" stroke="#222" stroke-width="0.65"/>
<circle cx="124.44" cy="212.44" r="1.15" fill="none" stroke="#222" stroke-width="0.65"/>
<circle cx="117.21" cy="213.34" r="1.15" fill="none" stroke="#222" stroke-width="0.65"/>
<circle cx="119.92" cy="213.70" r="1.15" fill="none" stroke="#222" stroke-width="0.65"/>
<circle cx="108.17" cy="216.05" r="1.15" fill="none" stroke="#222" stroke-width="0.65"/>
<circle cx="109.98" cy="216.95" r="1.15" fill="none" stroke="#222" stroke-width="0.65"/>
<circle cx="107.27" cy="217.32" r="1.15" fill="none" stroke="#222" stroke-width="0.65"/>
<circle cx="117.21" cy="219.67" r="1.15" fill="none" stroke="#222" stroke-width="0.65"/>
<circle cx="121.72" cy="220.21" r="1.15" fill="none" stroke="#222" stroke-width="0.65"/>
<circle cx="128.95" cy="219.12" r="1.15" fill="none" stroke="#222" stroke-width="0.65"/>
<circle cx="130.76" cy="223.28" r="1.15" fill="none" stroke="#222" stroke-width="0.65"/>
<circle cx="124.44" cy="222.38" r="1.15" fill="none" stroke="#222" stroke-width="0.65"/>
<circle cx="126.24" cy="225.63" r="1.15" fill="none" stroke="#222" stroke-width="0.65"/>
<circle cx="124.44" cy="228.16" r="1.15" fill="none" stroke="#222" stroke-width="0.65"/>
<circle cx="121.72" cy="229.24" r="1.15" fill="none" stroke="#222" stroke-width="0.65"/>
<circle cx="118.11" cy="227.80" r="1.15" fill="none" stroke="#222" stroke-width="0.65"/>
<circle cx="117.21" cy="231.41" r="1.15" fill="none" stroke="#222" stroke-width="0.65"/>
<circle cx="106.36" cy="232.32" r="1.15" fill="none" stroke="#222" stroke-width="0.65"/>
<circle cx="112.69" cy="219.67" r="1.15" fill="none" stroke="#222" stroke-width="0.65"/>
<circle cx="114.50" cy="222.38" r="1.15" fill="none" stroke="#222" stroke-width="0.65"/>
<circle cx="110.94" cy="227.82" r="1.15" fill="none" stroke="#222" stroke-width="0.65"/>
<circle cx="116.62" cy="227.56" r="1.15" fill="none" stroke="#222" stroke-width="0.65"/>
<circle cx="98.09" cy="227.96" r="1.15" fill="none" stroke="#222" stroke-width="0.65"/>
<circle cx="99.26" cy="226.08" r="1.15" fill="none" stroke="#222" stroke-width="0.65"/>
<circle cx="106.04" cy="227.22" r="1.15" fill="none" stroke="#222" stroke-width="0.65"/>
<circle cx="108.49" cy="222.21" r="1.15" fill="none" stroke="#222" stroke-width="0.65"/>
<circle cx="98.88" cy="229.06" r="1.15" fill="none" stroke="#222" stroke-width="0.65"/>
<circle cx="105.10" cy="226.61" r="1.15" fill="none" stroke="#222" stroke-width="0.65"/>
<circle cx="105.63" cy="225.24" r="1.15" fill="none" stroke="#222" stroke-width="0.65"/>
<circle cx="111.12" cy="226.82" r="1.15" fill="none" stroke="#222" stroke-width="0.65"/>
<circle cx="105.54" cy="225.51" r="1.15" fill="none" stroke="#222" stroke-width="0.65"/>
<circle cx="100.51" cy="228.79" r="1.15" fill="none" stroke="#222" stroke-width="0.65"/>
<circle cx="97.39" cy="230.07" r="1.15" fill="none" stroke="#222" stroke-width="0.65"/>
<circle cx="106.51" cy="223.32" r="1.15" fill="none" stroke="#222" stroke-width="0.65"/>
<circle cx="104.78" cy="226.69" r="1.15" fill="none" stroke="#222" stroke-width="0.65"/>
<circle cx="109.80" cy="227.88" r="1.15" fill="none" stroke="#222" stroke-width="0.65"/>
<circle cx="105.74" cy="224.96" r="1.15" fill="none" stroke="#222" stroke-width="0.65"/>
<circle cx="105.61" cy="227.15" r="1.15" fill="none" stroke="#222" stroke-width="0.65"/>
<circle cx="111.28" cy="226.61" r="1.15" fill="none" stroke="#222" stroke-width="0.65"/>
<circle cx="101.15" cy="224.82" r="1.15" fill="none" stroke="#222" stroke-width="0.65"/>
<circle cx="103.73" cy="225.80" r="1.15" fill="none" stroke="#222" stroke-width="0.65"/>
<circle cx="99.60" cy="228.62" r="1.15" fill="none" stroke="#222" stroke-width="0.65"/>
<circle cx="103.58" cy="228.16" r="1.15" fill="none" stroke="#222" stroke-width="0.65"/>
<circle cx="109.49" cy="225.16" r="1.15" fill="none" stroke="#222" stroke-width="0.65"/>
<circle cx="113.43" cy="225.56" r="1.15" fill="none" stroke="#222" stroke-width="0.65"/>
<circle cx="102.07" cy="228.95" r="1.15" fill="none" stroke="#222" stroke-width="0.65"/>
<circle cx="109.41" cy="229.81" r="1.15" fill="none" stroke="#222" stroke-width="0.65"/>
<circle cx="111.93" cy="228.22" r="1.15" fill="none" stroke="#222" stroke-width="0.65"/>
<circle cx="109.59" cy="225.83" r="1.15" fill="none" stroke="#222" stroke-width="0.65"/>
<circle cx="108.95" cy="223.48" r="1.15" fill="none" stroke="#222" stroke-width="0.65"/>
<circle cx="113.15" cy="222.52" r="1.15" fill="none" stroke="#222" stroke-width="0.65"/>
<circle cx="105.18" cy="227.49" r="1.15" fill="none" stroke="#222" stroke-width="0.65"/>
<circle cx="113.75" cy="225.22" r="1.15" fill="none" stroke="#222" stroke-width="0.65"/>
<circle cx="101.73" cy="229.07" r="1.15" fill="none" stroke="#222" stroke-width="0.65"/>
<circle cx="110.62" cy="227.92" r="1.15" fill="none" stroke="#222" stroke-width="0.65"/>
<circle cx="102.97" cy="232.83" r="1.15" fill="none" stroke="#222" stroke-width="0.65"/>
<circle cx="116.85" cy="224.36" r="1.15" fill="none" stroke="#222" stroke-width="0.65"/>
<circle cx="107.91" cy="225.54" r="1.15" fill="none" stroke="#222" stroke-width="0.65"/>
<circle cx="114.80" cy="222.94" r="1.15" fill="none" stroke="#222" stroke-width="0.65"/>
<circle cx="110.38" cy="224.74" r="1.15" fill="none" stroke="#222" stroke-width="0.65"/>
<circle cx="102.75" cy="230.06" r="1.15" fill="none" stroke="#222" stroke-width="0.65"/>
<circle cx="114.78" cy="224.84" r="1.15" fill="none" stroke="#222" stroke-width="0.65"/>
<circle cx="102.91" cy="230.27" r="1.15" fill="none" stroke="#222" stroke-width="0.65"/>
<circle cx="106.45" cy="227.95" r="1.15" fill="none" stroke="#222" stroke-width="0.65"/>
<circle cx="116.72" cy="227.44" r="1.15" fill="none" stroke="#222" stroke-width="0.65"/>
<circle cx="107.10" cy="229.08" r="1.15" fill="none" stroke="#222" stroke-width="0.65"/>
<circle cx="102.51" cy="228.03" r="1.15" fill="none" stroke="#222" stroke-width="0.65"/>
<circle cx="114.15" cy="221.71" r="1.15" fill="none" stroke="#222" stroke-width="0.65"/>
<circle cx="113.49" cy="223.96" r="1.15" fill="none" stroke="#222" stroke-width="0.65"/>
<circle cx="105.96" cy="226.38" r="1.15" fill="none" stroke="#222" stroke-width="0.65"/>
<circle cx="105.05" cy="224.50" r="1.15" fill="none" stroke="#222" stroke-width="0.65"/>
<circle cx="105.71" cy="223.37" r="1.15" fill="none" stroke="#222" stroke-width="0.65"/>
<circle cx="170.52" cy="207.92" r="1.15" fill="none" stroke="#222" stroke-width="0.65"/>
<circle cx="186.24" cy="206.11" r="1.15" fill="none" stroke="#222" stroke-width="0.65"/>
<circle cx="194.01" cy="212.44" r="1.15" fill="none" stroke="#222" stroke-width="0.65"/>
<circle cx="173.59" cy="212.98" r="1.15" fill="none" stroke="#222" stroke-width="0.65"/>
<circle cx="175.40" cy="213.70" r="1.15" fill="none" stroke="#222" stroke-width="0.65"/>
<circle cx="177.21" cy="214.24" r="1.15" fill="none" stroke="#222" stroke-width="0.65"/>
<circle cx="178.11" cy="217.32" r="1.15" fill="none" stroke="#222" stroke-width="0.65"/>
<circle cx="186.24" cy="220.21" r="1.15" fill="none" stroke="#222" stroke-width="0.65"/>
<circle cx="163.65" cy="215.15" r="1.15" fill="none" stroke="#222" stroke-width="0.65"/>
<circle cx="162.75" cy="217.86" r="1.15" fill="none" stroke="#222" stroke-width="0.65"/>
<circle cx="167.27" cy="219.67" r="1.15" fill="none" stroke="#222" stroke-width="0.65"/>
<circle cx="169.07" cy="220.57" r="1.15" fill="none" stroke="#222" stroke-width="0.65"/>
<circle cx="178.11" cy="223.82" r="1.15" fill="none" stroke="#222" stroke-width="0.65"/>
<circle cx="176.30" cy="225.09" r="1.15" fill="none" stroke="#222" stroke-width="0.65"/>
<circle cx="175.40" cy="227.44" r="1.15" fill="none" stroke="#222" stroke-width="0.65"/>
<circle cx="170.88" cy="228.70" r="1.15" fill="none" stroke="#222" stroke-width="0.65"/>
<circle cx="163.65" cy="232.32" r="1.15" fill="none" stroke="#222" stroke-width="0.65"/>
<circle cx="155.52" cy="233.22" r="1.15" fill="none" stroke="#222" stroke-width="0.65"/>
<circle cx="160.93" cy="227.36" r="1.15" fill="none" stroke="#222" stroke-width="0.65"/>
<circle cx="162.90" cy="224.89" r="1.15" fill="none" stroke="#222" stroke-width="0.65"/>
<circle cx="156.86" cy="228.36" r="1.15" fill="none" stroke="#222" stroke-width="0.65"/>
<circle cx="160.30" cy="231.68" r="1.15" fill="none" stroke="#222" stroke-width="0.65"/>
<circle cx="164.43" cy="224.71" r="1.15" fill="none" stroke="#222" stroke-width="0.65"/>
<circle cx="157.99" cy="225.14" r="1.15" fill="none" stroke="#222" stroke-width="0.65"/>
<circle cx="156.16" cy="226.94" r="1.15" fill="none" stroke="#222" stroke-width="0.65"/>
<circle cx="162.87" cy="227.33" r="1.15" fill="none" stroke="#222" stroke-width="0.65"/>
<circle cx="157.64" cy="227.60" r="1.15" fill="none" stroke="#222" stroke-width="0.65"/>
<circle cx="158.67" cy="227.73" r="1.15" fill="none" stroke="#222" stroke-width="0.65"/>
<circle cx="162.09" cy="227.26" r="1.15" fill="none" stroke="#222" stroke-width="0.65"/>
<circle cx="160.20" cy="227.81" r="1.15" fill="none" stroke="#222" stroke-width="0.65"/>
<circle cx="162.00" cy="228.48" r="1.15" fill="none" stroke="#222" stroke-width="0.65"/>
<circle cx="159.85" cy="223.39" r="1.15" fill="none" stroke="#222" stroke-width="0.65"/>
<circle cx="156.68" cy="229.94" r="1.15" fill="none" stroke="#222" stroke-width="0.65"/>
<circle cx="158.55" cy="229.29" r="1.15" fill="none" stroke="#222" stroke-width="0.65"/>
<circle cx="164.77" cy="225.96" r="1.15" fill="none" stroke="#222" stroke-width="0.65"/>
<circle cx="163.22" cy="225.18" r="1.15" fill="none" stroke="#222" stroke-width="0.65"/>
<circle cx="154.28" cy="228.68" r="1.15" fill="none" stroke="#222" stroke-width="0.65"/>
<circle cx="162.52" cy="224.05" r="1.15" fill="none" stroke="#222" stroke-width="0.65"/>
<circle cx="161.26" cy="228.68" r="1.15" fill="none" stroke="#222" stroke-width="0.65"/>
<circle cx="157.48" cy="229.69" r="1.15" fill="none" stroke="#222" stroke-width="0.65"/>
<circle cx="169.12" cy="221.57" r="1.15" fill="none" stroke="#222" stroke-width="0.65"/>
<circle cx="161.47" cy="225.67" r="1.15" fill="none" stroke="#222" stroke-width="0.65"/>
<circle cx="168.52" cy="224.63" r="1.15" fill="none" stroke="#222" stroke-width="0.65"/>
<circle cx="164.44" cy="222.83" r="1.15" fill="none" stroke="#222" stroke-width="0.65"/>
<circle cx="160.85" cy="226.35" r="1.15" fill="none" stroke="#222" stroke-width="0.65"/>
<circle cx="163.34" cy="219.79" r="1.15" fill="none" stroke="#222" stroke-width="0.65"/>
<circle cx="164.30" cy="224.70" r="1.15" fill="none" stroke="#222" stroke-width="0.65"/>
<circle cx="163.43" cy="226.64" r="1.15" fill="none" stroke="#222" stroke-width="0.65"/>
<circle cx="153.67" cy="228.31" r="1.15" fill="none" stroke="#222" stroke-width="0.65"/>
<circle cx="167.36" cy="222.14" r="1.15" fill="none" stroke="#222" stroke-width="0.65"/>
<circle cx="154.71" cy="224.20" r="1.15" fill="none" stroke="#222" stroke-width="0.65"/>
<circle cx="155.55" cy="229.41" r="1.15" fill="none" stroke="#222" stroke-width="0.65"/>
<circle cx="169.35" cy="224.69" r="1.15" fill="none" stroke="#222" stroke-width="0.65"/>
<circle cx="157.79" cy="225.30" r="1.15" fill="none" stroke="#222" stroke-width="0.65"/>
<circle cx="164.00" cy="227.02" r="1.15" fill="none" stroke="#222" stroke-width="0.65"/>
<circle cx="154.94" cy="224.73" r="1.15" fill="none" stroke="#222" stroke-width="0.65"/>
<circle cx="162.57" cy="226.57" r="1.15" fill="none" stroke="#222" stroke-width="0.65"/>
<circle cx="154.58" cy="228.01" r="1.15" fill="none" stroke="#222" stroke-width="0.65"/>
<circle cx="158.87" cy="228.60" r="1.15" fill="none" stroke="#222" stroke-width="0.65"/>
<circle cx="160.30" cy="226.30" r="1.15" fill="none" stroke="#222" stroke-width="0.65"/>
<circle cx="160.38" cy="229.99" r="1.15" fill="none" stroke="#222" stroke-width="0.65"/>
<circle cx="167.10" cy="222.92" r="1.15" fill="none" stroke="#222" stroke-width="0.65"/>
<circle cx="164.13" cy="222.73" r="1.15" fill="none" stroke="#222" stroke-width="0.65"/>
<circle cx="162.06" cy="228.38" r="1.15" fill="none" stroke="#222" stroke-width="0.65"/>
<circle cx="167.66" cy="222.66" r="1.15" fill="none" stroke="#222" stroke-width="0.65"/>
<circle cx="160.80" cy="227.04" r="1.15" fill="none" stroke="#222" stroke-width="0.65"/>
<circle cx="153.91" cy="228.96" r="1.15" fill="none" stroke="#222" stroke-width="0.65"/>
<circle cx="158.15" cy="228.58" r="1.15" fill="none" stroke="#222" stroke-width="0.65"/>
<circle cx="161.39" cy="227.04" r="1.15" fill="none" stroke="#222" stroke-width="0.65"/>
<circle cx="159.29" cy="229.85" r="1.15" fill="none" stroke="#222" stroke-width="0.65"/>
<circle cx="48.71" cy="250.75" r="1.15" fill="none" stroke="#222" stroke-width="0.65"/>
<circle cx="55.40" cy="257.98" r="1.15" fill="none" stroke="#222" stroke-width="0.65"/>
<circle cx="61.36" cy="257.07" r="1.15" fill="none" stroke="#222" stroke-width="0.65"/>
<circle cx="52.69" cy="261.59" r="1.15" fill="none" stroke="#222" stroke-width="0.65"/>
<circle cx="50.88" cy="261.59" r="1.15" fill="none" stroke="#222" stroke-width="0.65"/>
<circle cx="49.07" cy="261.59" r="1.15" fill="none" stroke="#222" stroke-width="0.65"/>
<circle cx="46.36" cy="262.50" r="1.15" fill="none" stroke="#222" stroke-width="0.65"/>
<circle cx="48.17" cy="265.21" r="1.15" fill="none" stroke="#222" stroke-width="0.65"/>
<circle cx="43.29" cy="265.75" r="1.15" fill="none" stroke="#222" stroke-width="0.65"/>
<circle cx="77.09" cy="259.78" r="1.15" fill="none" stroke="#222" stroke-width="0.65"/>
<circle cx="78.89" cy="261.59" r="1.15" fill="none" stroke="#222" stroke-width="0.65"/>
<circle cx="85.22" cy="267.01" r="1.15" fill="none" stroke="#222" stroke-width="0.65"/>
<circle cx="68.95" cy="271.17" r="1.15" fill="none" stroke="#222" stroke-width="0.65"/>
<circle cx="55.40" cy="269.36" r="1.15" fill="none" stroke="#222" stroke-width="0.65"/>
<circle cx="59.92" cy="272.44" r="1.15" fill="none" stroke="#222" stroke-width="0.65"/>
<circle cx="58.11" cy="276.05" r="1.15" fill="none" stroke="#222" stroke-width="0.65"/>
<circle cx="61.72" cy="276.95" r="1.15" fill="none" stroke="#222" stroke-width="0.65"/>
<circle cx="57.21" cy="276.95" r="1.15" fill="none" stroke="#222" stroke-width="0.65"/>
<circle cx="52.69" cy="275.15" r="1.15" fill="none" stroke="#222" stroke-width="0.65"/>
<circle cx="35.52" cy="277.86" r="1.15" fill="none" stroke="#222" stroke-width="0.65"/>
<circle cx="49.07" cy="268.82" r="1.15" fill="none" stroke="#222" stroke-width="0.65"/>
<circle cx="56.30" cy="285.09" r="1.15" fill="none" stroke="#222" stroke-width="0.65"/>
<circle cx="53.59" cy="283.28" r="1.15" fill="none" stroke="#222" stroke-width="0.65"/>
<circle cx="51.78" cy="286.35" r="1.15" fill="none" stroke="#222" stroke-width="0.65"/>
<circle cx="49.07" cy="288.70" r="1.15" fill="none" stroke="#222" stroke-width="0.65"/>
<circle cx="44.56" cy="292.86" r="1.15" fill="none" stroke="#222" stroke-width="0.65"/>
<circle cx="37.33" cy="288.70" r="1.15" fill="none" stroke="#222" stroke-width="0.65"/>
<circle cx="39.14" cy="281.07" r="1.15" fill="none" stroke="#222" stroke-width="0.65"/>
<circle cx="40.06" cy="274.71" r="1.15" fill="none" stroke="#222" stroke-width="0.65"/>
<circle cx="38.83" cy="284.73" r="1.15" fill="none" stroke="#222" stroke-width="0.65"/>
<circle cx="45.90" cy="277.97" r="1.15" fill="none" stroke="#222" stroke-width="0.65"/>
<circle cx="41.84" cy="278.51" r="1.15" fill="none" stroke="#222" stroke-width="0.65"/>
<circle cx="48.44" cy="286.44" r="1.15" fill="none" stroke="#222" stroke-width="0.65"/>
<circle cx="39.10" cy="284.72" r="1.15" fill="none" stroke="#222" stroke-width="0.65"/>
<circle cx="45.98" cy="284.79" r="1.15" fill="none" stroke="#222" stroke-width="0.65"/>
<circle cx="47.45" cy="282.23" r="1.15" fill="none" stroke="#222" stroke-width="0.65"/>
<circle cx="43.94" cy="282.04" r="1.15" fill="none" stroke="#222" stroke-width="0.65"/>
<circle cx="47.81" cy="279.45" r="1.15" fill="none" stroke="#222" stroke-width="0.65"/>
<circle cx="45.12" cy="277.41" r="1.15" fill="none" stroke="#222" stroke-width="0.65"/>
<circle cx="41.45" cy="281.17" r="1.15" fill="none" stroke="#222" stroke-width="0.65"/>
<circle cx="37.36" cy="281.21" r="1.15" fill="none" stroke="#222" stroke-width="0.65"/>
<circle cx="40.95" cy="286.78" r="1.15" fill="none" stroke="#222" stroke-width="0.65"/>
<circle cx="42.58" cy="282.09" r="1.15" fill="none" stroke="#222" stroke-width="0.65"/>
<circle cx="43.97" cy="285.84" r="1.15" fill="none" stroke="#222" stroke-width="0.65"/>
<circle cx="44.22" cy="279.50" r="1.15" fill="none" stroke="#222" stroke-width="0.65"/>
<circle cx="45.03" cy="278.76" r="1.15" fill="none" stroke="#222" stroke-width="0.65"/>
<circle cx="40.72" cy="291.71" r="1.15" fill="none" stroke="#222" stroke-width="0.65"/>
<circle cx="41.75" cy="276.84" r="1.15" fill="none" stroke="#222" stroke-width="0.65"/>
<circle cx="48.48" cy="278.76" r="1.15" fill="none" stroke="#222" stroke-width="0.65"/>
<circle cx="46.39" cy="283.68" r="1.15" fill="none" stroke="#222" stroke-width="0.65"/>
<circle cx="42.75" cy="280.69" r="1.15" fill="none" stroke="#222" stroke-width="0.65"/>
<circle cx="37.40" cy="291.69" r="1.15" fill="none" stroke="#222" stroke-width="0.65"/>
<circle cx="41.53" cy="280.91" r="1.15" fill="none" stroke="#222" stroke-width="0.65"/>
<circle cx="44.15" cy="280.84" r="1.15" fill="none" stroke="#222" stroke-width="0.65"/>
<circle cx="44.45" cy="277.97" r="1.15" fill="none" stroke="#222" stroke-width="0.65"/>
<circle cx="42.06" cy="286.06" r="1.15" fill="none" stroke="#222" stroke-width="0.65"/>
<circle cx="47.71" cy="275.28" r="1.15" fill="none" stroke="#222" stroke-width="0.65"/>
<circle cx="46.14" cy="287.91" r="1.15" fill="none" stroke="#222" stroke-width="0.65"/>
<circle cx="42.71" cy="285.86" r="1.15" fill="none" stroke="#222" stroke-width="0.65"/>
<circle cx="50.54" cy="275.25" r="1.15" fill="none" stroke="#222" stroke-width="0.65"/>
<circle cx="46.18" cy="274.55" r="1.15" fill="none" stroke="#222" stroke-width="0.65"/>
<circle cx="43.00" cy="280.90" r="1.15" fill="none" stroke="#222" stroke-width="0.65"/>
<circle cx="46.00" cy="285.39" r="1.15" fill="none" stroke="#222" stroke-width="0.65"/>
<circle cx="40.81" cy="286.07" r="1.15" fill="none" stroke="#222" stroke-width="0.65"/>
<circle cx="38.46" cy="288.05" r="1.15" fill="none" stroke="#222" stroke-width="0.65"/>
<circle cx="44.21" cy="278.72" r="1.15" fill="none" stroke="#222" stroke-width="0.65"/>
<circle cx="40.38" cy="274.55" r="1.15" fill="none" stroke="#222" stroke-width="0.65"/>
<circle cx="41.51" cy="273.63" r="1.15" fill="none" stroke="#222" stroke-width="0.65"/>
<circle cx="37.20" cy="282.98" r="1.15" fill="none" stroke="#222" stroke-width="0.65"/>
<circle cx="42.70" cy="286.59" r="1.15" fill="none" stroke="#222" stroke-width="0.65"/>
<circle cx="41.47" cy="280.32" r="1.15" fill="none" stroke="#222" stroke-width="0.65"/>
<circle cx="49.39" cy="285.17" r="1.15" fill="none" stroke="#222" stroke-width="0.65"/>
<circle cx="43.28" cy="283.24" r="1.15" fill="none" stroke="#222" stroke-width="0.65"/>
<circle cx="49.04" cy="277.83" r="1.15" fill="none" stroke="#222" stroke-width="0.65"/>
<circle cx="43.21" cy="283.60" r="1.15" fill="none" stroke="#222" stroke-width="0.65"/>
<circle cx="48.85" cy="280.32" r="1.15" fill="none" stroke="#222" stroke-width="0.65"/>
<circle cx="37.86" cy="279.54" r="1.15" fill="none" stroke="#222" stroke-width="0.65"/>
<circle cx="45.67" cy="285.11" r="1.15" fill="none" stroke="#222" stroke-width="0.65"/>
<circle cx="33.93" cy="282.99" r="1.15" fill="none" stroke="#222" stroke-width="0.65"/>
<circle cx="36.54" cy="275.51" r="1.15" fill="none" stroke="#222" stroke-width="0.65"/>
<circle cx="39.68" cy="281.60" r="1.15" fill="none" stroke="#222" stroke-width="0.65"/>
<circle cx="42.41" cy="277.77" r="1.15" fill="none" stroke="#222" stroke-width="0.65"/>
<circle cx="36.76" cy="284.30" r="1.15" fill="none" stroke="#222" stroke-width="0.65"/>
<circle cx="40.06" cy="279.95" r="1.15" fill="none" stroke="#222" stroke-width="0.65"/>
<circle cx="44.41" cy="284.52" r="1.15" fill="none" stroke="#222" stroke-width="0.65"/>
<circle cx="36.78" cy="288.88" r="1.3499999999999999" fill="#222"/>
<circle cx="53.59" cy="282.74" r="1.3499999999999999" fill="#222"/>
<circle cx="68.95" cy="271.17" r="1.3499999999999999" fill="#222"/>
<circle cx="114.13" cy="250.75" r="1.15" fill="none" stroke="#222" stroke-width="0.65"/>
<circle cx="105.46" cy="257.07" r="1.15" fill="none" stroke="#222" stroke-width="0.65"/>
<circle cx="128.95" cy="257.98" r="1.15" fill="none" stroke="#222" stroke-width="0.65"/>
<circle cx="139.44" cy="261.59" r="1.15" fill="none" stroke="#222" stroke-width="0.65"/>
<circle cx="111.24" cy="261.59" r="1.15" fill="none" stroke="#222" stroke-width="0.65"/>
<circle cx="117.75" cy="261.05" r="1.15" fill="none" stroke="#222" stroke-width="0.65"/>
<circle cx="120.28" cy="260.33" r="1.15" fill="none" stroke="#222" stroke-width="0.65"/>
<circle cx="124.44" cy="262.50" r="1.15" fill="none" stroke="#222" stroke-width="0.65"/>
<circle cx="118.11" cy="265.75" r="1.15" fill="none" stroke="#222" stroke-width="0.65"/>
<circle cx="121.36" cy="267.56" r="1.15" fill="none" stroke="#222" stroke-width="0.65"/>
<circle cx="126.24" cy="266.11" r="1.15" fill="none" stroke="#222" stroke-width="0.65"/>
<circle cx="111.78" cy="269.36" r="1.15" fill="none" stroke="#222" stroke-width="0.65"/>
<circle cx="118.11" cy="271.53" r="1.15" fill="none" stroke="#222" stroke-width="0.65"/>
<circle cx="124.44" cy="271.89" r="1.15" fill="none" stroke="#222" stroke-width="0.65"/>
<circle cx="131.12" cy="275.15" r="1.15" fill="none" stroke="#222" stroke-width="0.65"/>
<circle cx="122.63" cy="275.15" r="1.15" fill="none" stroke="#222" stroke-width="0.65"/>
<circle cx="119.01" cy="276.95" r="1.15" fill="none" stroke="#222" stroke-width="0.65"/>
<circle cx="118.11" cy="283.28" r="1.15" fill="none" stroke="#222" stroke-width="0.65"/>
<circle cx="122.63" cy="285.09" r="1.15" fill="none" stroke="#222" stroke-width="0.65"/>
<circle cx="117.75" cy="289.24" r="1.15" fill="none" stroke="#222" stroke-width="0.65"/>
<circle cx="99.13" cy="293.22" r="1.15" fill="none" stroke="#222" stroke-width="0.65"/>
<circle cx="101.84" cy="272.44" r="1.15" fill="none" stroke="#222" stroke-width="0.65"/>
<circle cx="104.56" cy="273.34" r="1.15" fill="none" stroke="#222" stroke-width="0.65"/>
<circle cx="108.17" cy="274.24" r="1.15" fill="none" stroke="#222" stroke-width="0.65"/>
<circle cx="99.47" cy="285.89" r="1.15" fill="none" stroke="#222" stroke-width="0.65"/>
<circle cx="100.89" cy="286.74" r="1.15" fill="none" stroke="#222" stroke-width="0.65"/>
<circle cx="103.12" cy="276.70" r="1.15" fill="none" stroke="#222" stroke-width="0.65"/>
<circle cx="106.76" cy="280.92" r="1.15" fill="none" stroke="#222" stroke-width="0.65"/>
<circle cx="96.44" cy="293.12" r="1.15" fill="none" stroke="#222" stroke-width="0.65"/>
<circle cx="109.14" cy="279.93" r="1.15" fill="none" stroke="#222" stroke-width="0.65"/>
<circle cx="108.19" cy="282.25" r="1.15" fill="none" stroke="#222" stroke-width="0.65"/>
<circle cx="110.30" cy="276.21" r="1.15" fill="none" stroke="#222" stroke-width="0.65"/>
<circle cx="107.64" cy="277.78" r="1.15" fill="none" stroke="#222" stroke-width="0.65"/>
<circle cx="105.73" cy="277.30" r="1.15" fill="none" stroke="#222" stroke-width="0.65"/>
<circle cx="109.13" cy="288.92" r="1.15" fill="none" stroke="#222" stroke-width="0.65"/>
<circle cx="106.28" cy="280.62" r="1.15" fill="none" stroke="#222" stroke-width="0.65"/>
<circle cx="96.60" cy="286.58" r="1.15" fill="none" stroke="#222" stroke-width="0.65"/>
<circle cx="108.28" cy="285.10" r="1.15" fill="none" stroke="#222" stroke-width="0.65"/>
<circle cx="108.20" cy="282.73" r="1.15" fill="none" stroke="#222" stroke-width="0.65"/>
<circle cx="108.34" cy="287.47" r="1.15" fill="none" stroke="#222" stroke-width="0.65"/>
<circle cx="101.01" cy="283.58" r="1.15" fill="none" stroke="#222" stroke-width="0.65"/>
<circle cx="109.11" cy="279.10" r="1.15" fill="none" stroke="#222" stroke-width="0.65"/>
<circle cx="101.49" cy="282.95" r="1.15" fill="none" stroke="#222" stroke-width="0.65"/>
<circle cx="105.13" cy="286.38" r="1.15" fill="none" stroke="#222" stroke-width="0.65"/>
<circle cx="102.73" cy="277.97" r="1.15" fill="none" stroke="#222" stroke-width="0.65"/>
<circle cx="107.18" cy="281.71" r="1.15" fill="none" stroke="#222" stroke-width="0.65"/>
<circle cx="101.92" cy="290.48" r="1.15" fill="none" stroke="#222" stroke-width="0.65"/>
<circle cx="102.19" cy="283.67" r="1.15" fill="none" stroke="#222" stroke-width="0.65"/>
<circle cx="112.36" cy="283.26" r="1.15" fill="none" stroke="#222" stroke-width="0.65"/>
<circle cx="102.46" cy="287.96" r="1.15" fill="none" stroke="#222" stroke-width="0.65"/>
<circle cx="105.65" cy="289.23" r="1.15" fill="none" stroke="#222" stroke-width="0.65"/>
<circle cx="103.77" cy="288.85" r="1.15" fill="none" stroke="#222" stroke-width="0.65"/>
<circle cx="103.90" cy="286.89" r="1.15" fill="none" stroke="#222" stroke-width="0.65"/>
<circle cx="102.13" cy="281.76" r="1.15" fill="none" stroke="#222" stroke-width="0.65"/>
<circle cx="98.99" cy="293.88" r="1.15" fill="none" stroke="#222" stroke-width="0.65"/>
<circle cx="102.14" cy="286.55" r="1.15" fill="none" stroke="#222" stroke-width="0.65"/>
<circle cx="111.10" cy="277.43" r="1.15" fill="none" stroke="#222" stroke-width="0.65"/>
<circle cx="112.55" cy="279.65" r="1.15" fill="none" stroke="#222" stroke-width="0.65"/>
<circle cx="103.08" cy="289.82" r="1.15" fill="none" stroke="#222" stroke-width="0.65"/>
<circle cx="108.91" cy="282.75" r="1.15" fill="none" stroke="#222" stroke-width="0.65"/>
<circle cx="111.14" cy="281.02" r="1.15" fill="none" stroke="#222" stroke-width="0.65"/>
<circle cx="106.84" cy="283.90" r="1.15" fill="none" stroke="#222" stroke-width="0.65"/>
<circle cx="103.04" cy="285.00" r="1.15" fill="none" stroke="#222" stroke-width="0.65"/>
<circle cx="107.60" cy="277.62" r="1.15" fill="none" stroke="#222" stroke-width="0.65"/>
<circle cx="107.87" cy="275.32" r="1.15" fill="none" stroke="#222" stroke-width="0.65"/>
<circle cx="104.31" cy="280.41" r="1.15" fill="none" stroke="#222" stroke-width="0.65"/>
<circle cx="103.30" cy="280.46" r="1.15" fill="none" stroke="#222" stroke-width="0.65"/>
<circle cx="99.93" cy="294.35" r="1.15" fill="none" stroke="#222" stroke-width="0.65"/>
<circle cx="104.40" cy="280.14" r="1.15" fill="none" stroke="#222" stroke-width="0.65"/>
<circle cx="108.46" cy="285.21" r="1.15" fill="none" stroke="#222" stroke-width="0.65"/>
<circle cx="99.42" cy="287.76" r="1.15" fill="none" stroke="#222" stroke-width="0.65"/>
<circle cx="108.76" cy="282.18" r="1.15" fill="none" stroke="#222" stroke-width="0.65"/>
<circle cx="111.63" cy="278.14" r="1.15" fill="none" stroke="#222" stroke-width="0.65"/>
<circle cx="103.80" cy="282.39" r="1.15" fill="none" stroke="#222" stroke-width="0.65"/>
<circle cx="104.59" cy="280.73" r="1.15" fill="none" stroke="#222" stroke-width="0.65"/>
<circle cx="97.34" cy="286.13" r="1.15" fill="none" stroke="#222" stroke-width="0.65"/>
<circle cx="99.82" cy="284.41" r="1.15" fill="none" stroke="#222" stroke-width="0.65"/>
<circle cx="100.74" cy="290.85" r="1.15" fill="none" stroke="#222" stroke-width="0.65"/>
<circle cx="100.06" cy="291.66" r="1.15" fill="none" stroke="#222" stroke-width="0.65"/>
<circle cx="100.61" cy="289.31" r="1.15" fill="none" stroke="#222" stroke-width="0.65"/>
<circle cx="111.91" cy="277.13" r="1.15" fill="none" stroke="#222" stroke-width="0.65"/>
<circle cx="101.11" cy="287.01" r="1.15" fill="none" stroke="#222" stroke-width="0.65"/>
<circle cx="186.24" cy="250.75" r="1.15" fill="none" stroke="#222" stroke-width="0.65"/>
<circle cx="160.94" cy="257.98" r="1.15" fill="none" stroke="#222" stroke-width="0.65"/>
<circle cx="170.52" cy="257.07" r="1.15" fill="none" stroke="#222" stroke-width="0.65"/>
<circle cx="173.59" cy="261.59" r="1.15" fill="none" stroke="#222" stroke-width="0.65"/>
<circle cx="175.40" cy="260.33" r="1.15" fill="none" stroke="#222" stroke-width="0.65"/>
<circle cx="178.11" cy="261.05" r="1.15" fill="none" stroke="#222" stroke-width="0.65"/>
<circle cx="186.24" cy="261.59" r="1.15" fill="none" stroke="#222" stroke-width="0.65"/>
<circle cx="194.38" cy="262.86" r="1.15" fill="none" stroke="#222" stroke-width="0.65"/>
<circle cx="157.33" cy="266.11" r="1.15" fill="none" stroke="#222" stroke-width="0.65"/>
<circle cx="168.17" cy="265.75" r="1.15" fill="none" stroke="#222" stroke-width="0.65"/>
<circle cx="169.07" cy="267.01" r="1.15" fill="none" stroke="#222" stroke-width="0.65"/>
<circle cx="176.30" cy="269.36" r="1.15" fill="none" stroke="#222" stroke-width="0.65"/>
<circle cx="175.40" cy="272.98" r="1.15" fill="none" stroke="#222" stroke-width="0.65"/>
<circle cx="177.75" cy="272.98" r="1.15" fill="none" stroke="#222" stroke-width="0.65"/>
<circle cx="172.69" cy="277.86" r="1.15" fill="none" stroke="#222" stroke-width="0.65"/>
<circle cx="171.78" cy="285.09" r="1.15" fill="none" stroke="#222" stroke-width="0.65"/>
<circle cx="163.65" cy="289.24" r="1.15" fill="none" stroke="#222" stroke-width="0.65"/>
<circle cx="155.52" cy="293.22" r="1.15" fill="none" stroke="#222" stroke-width="0.65"/>
<circle cx="167.27" cy="271.53" r="1.15" fill="none" stroke="#222" stroke-width="0.65"/>
<circle cx="157.33" cy="276.58" r="1.15" fill="none" stroke="#222" stroke-width="0.65"/>
<circle cx="160.01" cy="285.69" r="1.15" fill="none" stroke="#222" stroke-width="0.65"/>
<circle cx="160.36" cy="284.73" r="1.15" fill="none" stroke="#222" stroke-width="0.65"/>
<circle cx="167.93" cy="280.16" r="1.15" fill="none" stroke="#222" stroke-width="0.65"/>
<circle cx="168.13" cy="278.77" r="1.15" fill="none" stroke="#222" stroke-width="0.65"/>
<circle cx="160.86" cy="283.50" r="1.15" fill="none" stroke="#222" stroke-width="0.65"/>
<circle cx="159.99" cy="282.62" r="1.15" fill="none" stroke="#222" stroke-width="0.65"/>
<circle cx="155.89" cy="278.35" r="1.15" fill="none" stroke="#222" stroke-width="0.65"/>
<circle cx="160.64" cy="283.72" r="1.15" fill="none" stroke="#222" stroke-width="0.65"/>
<circle cx="157.78" cy="287.14" r="1.15" fill="none" stroke="#222" stroke-width="0.65"/>
<circle cx="163.98" cy="278.83" r="1.15" fill="none" stroke="#222" stroke-width="0.65"/>
<circle cx="155.45" cy="278.22" r="1.15" fill="none" stroke="#222" stroke-width="0.65"/>
<circle cx="163.56" cy="278.44" r="1.15" fill="none" stroke="#222" stroke-width="0.65"/>
<circle cx="167.20" cy="278.47" r="1.15" fill="none" stroke="#222" stroke-width="0.65"/>
<circle cx="160.43" cy="280.32" r="1.15" fill="none" stroke="#222" stroke-width="0.65"/>
<circle cx="163.51" cy="277.31" r="1.15" fill="none" stroke="#222" stroke-width="0.65"/>
<circle cx="161.57" cy="279.46" r="1.15" fill="none" stroke="#222" stroke-width="0.65"/>
<circle cx="165.52" cy="282.96" r="1.15" fill="none" stroke="#222" stroke-width="0.65"/>
<circle cx="158.19" cy="286.59" r="1.15" fill="none" stroke="#222" stroke-width="0.65"/>
<circle cx="165.43" cy="279.12" r="1.15" fill="none" stroke="#222" stroke-width="0.65"/>
<circle cx="170.92" cy="281.55" r="1.15" fill="none" stroke="#222" stroke-width="0.65"/>
<circle cx="168.93" cy="279.29" r="1.15" fill="none" stroke="#222" stroke-width="0.65"/>
<circle cx="157.16" cy="283.40" r="1.15" fill="none" stroke="#222" stroke-width="0.65"/>
<circle cx="163.26" cy="274.84" r="1.15" fill="none" stroke="#222" stroke-width="0.65"/>
<circle cx="156.81" cy="283.72" r="1.15" fill="none" stroke="#222" stroke-width="0.65"/>
<circle cx="160.85" cy="278.77" r="1.15" fill="none" stroke="#222" stroke-width="0.65"/>
<circle cx="167.81" cy="274.83" r="1.15" fill="none" stroke="#222" stroke-width="0.65"/>
<circle cx="161.53" cy="291.31" r="1.15" fill="none" stroke="#222" stroke-width="0.65"/>
<circle cx="160.31" cy="285.71" r="1.15" fill="none" stroke="#222" stroke-width="0.65"/>
<circle cx="161.14" cy="281.24" r="1.15" fill="none" stroke="#222" stroke-width="0.65"/>
<circle cx="161.44" cy="278.43" r="1.15" fill="none" stroke="#222" stroke-width="0.65"/>
<circle cx="154.12" cy="286.73" r="1.15" fill="none" stroke="#222" stroke-width="0.65"/>
<circle cx="162.28" cy="282.29" r="1.15" fill="none" stroke="#222" stroke-width="0.65"/>
<circle cx="165.07" cy="279.38" r="1.15" fill="none" stroke="#222" stroke-width="0.65"/>
<circle cx="156.40" cy="284.34" r="1.15" fill="none" stroke="#222" stroke-width="0.65"/>
<circle cx="166.06" cy="280.85" r="1.15" fill="none" stroke="#222" stroke-width="0.65"/>
<circle cx="161.11" cy="282.19" r="1.15" fill="none" stroke="#222" stroke-width="0.65"/>
<circle cx="166.44" cy="277.07" r="1.15" fill="none" stroke="#222" stroke-width="0.65"/>
<circle cx="167.36" cy="279.65" r="1.15" fill="none" stroke="#222" stroke-width="0.65"/>
<circle cx="167.33" cy="284.38" r="1.15" fill="none" stroke="#222" stroke-width="0.65"/>
<circle cx="158.50" cy="284.10" r="1.15" fill="none" stroke="#222" stroke-width="0.65"/>
<circle cx="156.05" cy="284.18" r="1.15" fill="none" stroke="#222" stroke-width="0.65"/>
<circle cx="164.12" cy="283.42" r="1.15" fill="none" stroke="#222" stroke-width="0.65"/>
<circle cx="170.04" cy="277.92" r="1.15" fill="none" stroke="#222" stroke-width="0.65"/>
<circle cx="163.56" cy="272.21" r="1.15" fill="none" stroke="#222" stroke-width="0.65"/>
<circle cx="160.79" cy="286.63" r="1.15" fill="none" stroke="#222" stroke-width="0.65"/>
<circle cx="168.95" cy="274.65" r="1.15" fill="none" stroke="#222" stroke-width="0.65"/>
<circle cx="157.24" cy="285.64" r="1.15" fill="none" stroke="#222" stroke-width="0.65"/>
<circle cx="156.51" cy="283.23" r="1.15" fill="none" stroke="#222" stroke-width="0.65"/>
<circle cx="166.91" cy="272.34" r="1.15" fill="none" stroke="#222" stroke-width="0.65"/>
<circle cx="168.57" cy="276.61" r="1.15" fill="none" stroke="#222" stroke-width="0.65"/>
<circle cx="160.78" cy="286.37" r="1.15" fill="none" stroke="#222" stroke-width="0.65"/>
<circle cx="171.44" cy="275.05" r="1.15" fill="none" stroke="#222" stroke-width="0.65"/>
<circle cx="168.16" cy="275.56" r="1.15" fill="none" stroke="#222" stroke-width="0.65"/>
<circle cx="163.87" cy="278.73" r="1.15" fill="none" stroke="#222" stroke-width="0.65"/>
<circle cx="168.27" cy="283.23" r="1.15" fill="none" stroke="#222" stroke-width="0.65"/>
<circle cx="155.61" cy="289.47" r="1.15" fill="none" stroke="#222" stroke-width="0.65"/>
<circle cx="161.45" cy="279.20" r="1.15" fill="none" stroke="#222" stroke-width="0.65"/>
<circle cx="229.07" cy="250.75" r="1.15" fill="none" stroke="#222" stroke-width="0.65"/>
<circle cx="229.98" cy="257.98" r="1.15" fill="none" stroke="#222" stroke-width="0.65"/>
<circle cx="232.69" cy="261.05" r="1.15" fill="none" stroke="#222" stroke-width="0.65"/>
<circle cx="235.40" cy="259.78" r="1.15" fill="none" stroke="#222" stroke-width="0.65"/>
<circle cx="236.30" cy="261.59" r="1.15" fill="none" stroke="#222" stroke-width="0.65"/>
<circle cx="237.75" cy="262.86" r="1.15" fill="none" stroke="#222" stroke-width="0.65"/>
<circle cx="241.36" cy="257.07" r="1.15" fill="none" stroke="#222" stroke-width="0.65"/>
<circle cx="243.53" cy="261.59" r="1.15" fill="none" stroke="#222" stroke-width="0.65"/>
<circle cx="223.65" cy="265.75" r="1.15" fill="none" stroke="#222" stroke-width="0.65"/>
<circle cx="229.98" cy="266.11" r="1.15" fill="none" stroke="#222" stroke-width="0.65"/>
<circle cx="229.07" cy="267.56" r="1.15" fill="none" stroke="#222" stroke-width="0.65"/>
<circle cx="226.36" cy="271.53" r="1.15" fill="none" stroke="#222" stroke-width="0.65"/>
<circle cx="228.17" cy="272.44" r="1.15" fill="none" stroke="#222" stroke-width="0.65"/>
<circle cx="232.69" cy="277.32" r="1.15" fill="none" stroke="#222" stroke-width="0.65"/>
<circle cx="234.50" cy="276.59" r="1.15" fill="none" stroke="#222" stroke-width="0.65"/>
<circle cx="215.52" cy="292.86" r="1.15" fill="none" stroke="#222" stroke-width="0.65"/>
<circle cx="217.33" cy="288.70" r="1.15" fill="none" stroke="#222" stroke-width="0.65"/>
<circle cx="222.38" cy="283.20" r="1.15" fill="none" stroke="#222" stroke-width="0.65"/>
<circle cx="219.83" cy="276.37" r="1.15" fill="none" stroke="#222" stroke-width="0.65"/>
<circle cx="228.57" cy="266.19" r="1.15" fill="none" stroke="#222" stroke-width="0.65"/>
<circle cx="219.47" cy="279.40" r="1.15" fill="none" stroke="#222" stroke-width="0.65"/>
<circle cx="219.44" cy="279.59" r="1.15" fill="none" stroke="#222" stroke-width="0.65"/>
<circle cx="223.03" cy="280.13" r="1.15" fill="none" stroke="#222" stroke-width="0.65"/>
<circle cx="222.51" cy="280.24" r="1.15" fill="none" stroke="#222" stroke-width="0.65"/>
<circle cx="221.82" cy="287.78" r="1.15" fill="none" stroke="#222" stroke-width="0.65"/>
<circle cx="215.95" cy="283.27" r="1.15" fill="none" stroke="#222" stroke-width="0.65"/>
<circle cx="219.67" cy="280.86" r="1.15" fill="none" stroke="#222" stroke-width="0.65"/>
<circle cx="217.69" cy="287.25" r="1.15" fill="none" stroke="#222" stroke-width="0.65"/>
<circle cx="220.45" cy="276.97" r="1.15" fill="none" stroke="#222" stroke-width="0.65"/>
<circle cx="224.25" cy="282.55" r="1.15" fill="none" stroke="#222" stroke-width="0.65"/>
<circle cx="223.86" cy="275.07" r="1.15" fill="none" stroke="#222" stroke-width="0.65"/>
<circle cx="222.04" cy="279.16" r="1.15" fill="none" stroke="#222" stroke-width="0.65"/>
<circle cx="223.16" cy="281.24" r="1.15" fill="none" stroke="#222" stroke-width="0.65"/>
<circle cx="219.98" cy="279.53" r="1.15" fill="none" stroke="#222" stroke-width="0.65"/>
<circle cx="222.83" cy="274.87" r="1.15" fill="none" stroke="#222" stroke-width="0.65"/>
<circle cx="216.01" cy="286.80" r="1.15" fill="none" stroke="#222" stroke-width="0.65"/>
<circle cx="216.18" cy="294.28" r="1.15" fill="none" stroke="#222" stroke-width="0.65"/>
<circle cx="215.90" cy="283.11" r="1.15" fill="none" stroke="#222" stroke-width="0.65"/>
<circle cx="218.04" cy="291.62" r="1.15" fill="none" stroke="#222" stroke-width="0.65"/>
<circle cx="218.46" cy="285.53" r="1.15" fill="none" stroke="#222" stroke-width="0.65"/>
<circle cx="225.70" cy="279.07" r="1.15" fill="none" stroke="#222" stroke-width="0.65"/>
<circle cx="222.70" cy="279.33" r="1.15" fill="none" stroke="#222" stroke-width="0.65"/>
<circle cx="221.71" cy="282.91" r="1.15" fill="none" stroke="#222" stroke-width="0.65"/>
<circle cx="222.93" cy="278.16" r="1.15" fill="none" stroke="#222" stroke-width="0.65"/>
<circle cx="217.47" cy="282.61" r="1.15" fill="none" stroke="#222" stroke-width="0.65"/>
<circle cx="216.91" cy="282.66" r="1.15" fill="none" stroke="#222" stroke-width="0.65"/>
<circle cx="227.10" cy="271.77" r="1.15" fill="none" stroke="#222" stroke-width="0.65"/>
<circle cx="220.55" cy="290.33" r="1.15" fill="none" stroke="#222" stroke-width="0.65"/>
<circle cx="224.51" cy="276.73" r="1.15" fill="none" stroke="#222" stroke-width="0.65"/>
<circle cx="222.88" cy="278.89" r="1.15" fill="none" stroke="#222" stroke-width="0.65"/>
<circle cx="222.42" cy="271.10" r="1.15" fill="none" stroke="#222" stroke-width="0.65"/>
<circle cx="214.80" cy="287.97" r="1.15" fill="none" stroke="#222" stroke-width="0.65"/>
<circle cx="218.72" cy="283.71" r="1.15" fill="none" stroke="#222" stroke-width="0.65"/>
<circle cx="223.63" cy="277.77" r="1.15" fill="none" stroke="#222" stroke-width="0.65"/>
<circle cx="220.59" cy="279.34" r="1.15" fill="none" stroke="#222" stroke-width="0.65"/>
<circle cx="222.26" cy="284.33" r="1.15" fill="none" stroke="#222" stroke-width="0.65"/>
<circle cx="224.65" cy="274.72" r="1.15" fill="none" stroke="#222" stroke-width="0.65"/>
<circle cx="223.88" cy="284.02" r="1.15" fill="none" stroke="#222" stroke-width="0.65"/>
<circle cx="221.13" cy="285.16" r="1.15" fill="none" stroke="#222" stroke-width="0.65"/>
<circle cx="225.24" cy="271.53" r="1.15" fill="none" stroke="#222" stroke-width="0.65"/>
<circle cx="222.41" cy="273.13" r="1.15" fill="none" stroke="#222" stroke-width="0.65"/>
<circle cx="225.70" cy="272.99" r="1.15" fill="none" stroke="#222" stroke-width="0.65"/>
<circle cx="217.79" cy="292.43" r="1.15" fill="none" stroke="#222" stroke-width="0.65"/>
<circle cx="221.39" cy="287.93" r="1.15" fill="none" stroke="#222" stroke-width="0.65"/>
<circle cx="219.20" cy="285.01" r="1.15" fill="none" stroke="#222" stroke-width="0.65"/>
<circle cx="222.14" cy="277.83" r="1.15" fill="none" stroke="#222" stroke-width="0.65"/>
<circle cx="221.61" cy="277.79" r="1.15" fill="none" stroke="#222" stroke-width="0.65"/>
<circle cx="224.14" cy="275.30" r="1.15" fill="none" stroke="#222" stroke-width="0.65"/>
<circle cx="225.87" cy="271.75" r="1.15" fill="none" stroke="#222" stroke-width="0.65"/>
<circle cx="215.96" cy="293.32" r="1.15" fill="none" stroke="#222" stroke-width="0.65"/>
<circle cx="225.59" cy="277.80" r="1.15" fill="none" stroke="#222" stroke-width="0.65"/>
<circle cx="221.27" cy="289.57" r="1.15" fill="none" stroke="#222" stroke-width="0.65"/>
<circle cx="222.72" cy="281.92" r="1.15" fill="none" stroke="#222" stroke-width="0.65"/>
<circle cx="218.35" cy="281.84" r="1.15" fill="none" stroke="#222" stroke-width="0.65"/>
<circle cx="227.41" cy="273.04" r="1.15" fill="none" stroke="#222" stroke-width="0.65"/>
<line x1="392.50" y1="89.53" x2="451.00" y2="89.53" stroke="#555" stroke-width="0.8" stroke-dasharray="1.9 1.45"/>
<circle cx="415.13" cy="70.94" r="1.15" fill="none" stroke="#222" stroke-width="0.65"/>
<circle cx="418.75" cy="72.21" r="1.15" fill="none" stroke="#222" stroke-width="0.65"/>
<circle cx="421.82" cy="73.29" r="1.15" fill="none" stroke="#222" stroke-width="0.65"/>
<circle cx="426.70" cy="71.84" r="1.15" fill="none" stroke="#222" stroke-width="0.65"/>
<circle cx="437.18" cy="70.94" r="1.15" fill="none" stroke="#222" stroke-width="0.65"/>
<circle cx="422.36" cy="76.90" r="1.15" fill="none" stroke="#222" stroke-width="0.65"/>
<circle cx="430.86" cy="79.07" r="1.15" fill="none" stroke="#222" stroke-width="0.65"/>
<circle cx="415.50" cy="78.17" r="1.15" fill="none" stroke="#222" stroke-width="0.65"/>
<circle cx="412.78" cy="78.17" r="1.15" fill="none" stroke="#222" stroke-width="0.65"/>
<circle cx="410.07" cy="79.98" r="1.15" fill="none" stroke="#222" stroke-width="0.65"/>
<circle cx="417.30" cy="79.07" r="1.15" fill="none" stroke="#222" stroke-width="0.65"/>
<circle cx="424.53" cy="83.59" r="1.15" fill="none" stroke="#222" stroke-width="0.65"/>
<circle cx="421.82" cy="81.24" r="1.15" fill="none" stroke="#222" stroke-width="0.65"/>
<circle cx="431.76" cy="86.30" r="1.15" fill="none" stroke="#222" stroke-width="0.65"/>
<circle cx="420.01" cy="83.05" r="1.15" fill="none" stroke="#222" stroke-width="0.65"/>
<circle cx="422.36" cy="86.66" r="1.15" fill="none" stroke="#222" stroke-width="0.65"/>
<circle cx="420.92" cy="91.72" r="1.15" fill="none" stroke="#222" stroke-width="0.65"/>
<circle cx="421.82" cy="93.53" r="1.15" fill="none" stroke="#222" stroke-width="0.65"/>
<circle cx="418.21" cy="96.24" r="1.15" fill="none" stroke="#222" stroke-width="0.65"/>
<circle cx="422.72" cy="97.15" r="1.15" fill="none" stroke="#222" stroke-width="0.65"/>
<circle cx="421.82" cy="99.86" r="1.15" fill="none" stroke="#222" stroke-width="0.65"/>
<circle cx="419.11" cy="100.76" r="1.15" fill="none" stroke="#222" stroke-width="0.65"/>
<circle cx="410.98" cy="103.47" r="1.15" fill="none" stroke="#222" stroke-width="0.65"/>
<circle cx="424.53" cy="106.18" r="1.15" fill="none" stroke="#222" stroke-width="0.65"/>
<circle cx="439.35" cy="101.12" r="1.15" fill="none" stroke="#222" stroke-width="0.65"/>
<circle cx="438.63" cy="104.74" r="1.15" fill="none" stroke="#222" stroke-width="0.65"/>
<circle cx="446.22" cy="106.18" r="1.15" fill="none" stroke="#222" stroke-width="0.65"/>
<circle cx="411.88" cy="98.05" r="1.15" fill="none" stroke="#222" stroke-width="0.65"/>
<circle cx="410.07" cy="98.95" r="1.15" fill="none" stroke="#222" stroke-width="0.65"/>
<circle cx="413.69" cy="92.63" r="1.15" fill="none" stroke="#222" stroke-width="0.65"/>
<circle cx="415.50" cy="93.17" r="1.15" fill="none" stroke="#222" stroke-width="0.65"/>
<circle cx="413.34" cy="87.23" r="1.15" fill="none" stroke="#222" stroke-width="0.65"/>
<circle cx="400.82" cy="85.45" r="1.15" fill="none" stroke="#222" stroke-width="0.65"/>
<circle cx="401.24" cy="87.79" r="1.15" fill="none" stroke="#222" stroke-width="0.65"/>
<circle cx="401.44" cy="90.88" r="1.15" fill="none" stroke="#222" stroke-width="0.65"/>
<circle cx="406.42" cy="86.92" r="1.15" fill="none" stroke="#222" stroke-width="0.65"/>
<circle cx="405.75" cy="87.47" r="1.15" fill="none" stroke="#222" stroke-width="0.65"/>
<circle cx="406.68" cy="89.40" r="1.15" fill="none" stroke="#222" stroke-width="0.65"/>
<circle cx="409.22" cy="84.85" r="1.15" fill="none" stroke="#222" stroke-width="0.65"/>
<circle cx="406.48" cy="90.36" r="1.15" fill="none" stroke="#222" stroke-width="0.65"/>
<circle cx="396.59" cy="90.35" r="1.15" fill="none" stroke="#222" stroke-width="0.65"/>
<circle cx="403.98" cy="84.86" r="1.15" fill="none" stroke="#222" stroke-width="0.65"/>
<circle cx="403.04" cy="90.65" r="1.15" fill="none" stroke="#222" stroke-width="0.65"/>
<circle cx="411.66" cy="89.70" r="1.15" fill="none" stroke="#222" stroke-width="0.65"/>
<circle cx="399.59" cy="86.56" r="1.15" fill="none" stroke="#222" stroke-width="0.65"/>
<circle cx="408.36" cy="89.26" r="1.15" fill="none" stroke="#222" stroke-width="0.65"/>
<circle cx="404.92" cy="84.87" r="1.15" fill="none" stroke="#222" stroke-width="0.65"/>
<circle cx="409.54" cy="88.46" r="1.15" fill="none" stroke="#222" stroke-width="0.65"/>
<circle cx="407.37" cy="86.03" r="1.15" fill="none" stroke="#222" stroke-width="0.65"/>
<circle cx="407.16" cy="89.32" r="1.15" fill="none" stroke="#222" stroke-width="0.65"/>
<circle cx="400.75" cy="85.02" r="1.15" fill="none" stroke="#222" stroke-width="0.65"/>
<circle cx="407.03" cy="88.58" r="1.15" fill="none" stroke="#222" stroke-width="0.65"/>
<circle cx="405.80" cy="90.06" r="1.15" fill="none" stroke="#222" stroke-width="0.65"/>
<circle cx="402.03" cy="88.99" r="1.15" fill="none" stroke="#222" stroke-width="0.65"/>
<circle cx="403.96" cy="89.93" r="1.15" fill="none" stroke="#222" stroke-width="0.65"/>
<circle cx="412.73" cy="84.67" r="1.15" fill="none" stroke="#222" stroke-width="0.65"/>
<circle cx="409.41" cy="87.99" r="1.15" fill="none" stroke="#222" stroke-width="0.65"/>
<circle cx="413.66" cy="84.51" r="1.15" fill="none" stroke="#222" stroke-width="0.65"/>
<circle cx="403.60" cy="85.95" r="1.15" fill="none" stroke="#222" stroke-width="0.65"/>
<circle cx="408.45" cy="90.24" r="1.15" fill="none" stroke="#222" stroke-width="0.65"/>
<circle cx="408.00" cy="88.09" r="1.15" fill="none" stroke="#222" stroke-width="0.65"/>
<circle cx="404.15" cy="88.85" r="1.15" fill="none" stroke="#222" stroke-width="0.65"/>
<circle cx="398.79" cy="93.01" r="1.15" fill="none" stroke="#222" stroke-width="0.65"/>
<circle cx="402.08" cy="86.40" r="1.15" fill="none" stroke="#222" stroke-width="0.65"/>
<circle cx="400.62" cy="87.64" r="1.15" fill="none" stroke="#222" stroke-width="0.65"/>
<circle cx="410.11" cy="88.91" r="1.15" fill="none" stroke="#222" stroke-width="0.65"/>
<circle cx="399.02" cy="92.62" r="1.15" fill="none" stroke="#222" stroke-width="0.65"/>
<circle cx="408.95" cy="85.22" r="1.15" fill="none" stroke="#222" stroke-width="0.65"/>
<circle cx="397.03" cy="89.14" r="1.15" fill="none" stroke="#222" stroke-width="0.65"/>
<circle cx="402.14" cy="90.02" r="1.15" fill="none" stroke="#222" stroke-width="0.65"/>
<circle cx="404.93" cy="84.28" r="1.15" fill="none" stroke="#222" stroke-width="0.65"/>
<circle cx="408.53" cy="83.79" r="1.15" fill="none" stroke="#222" stroke-width="0.65"/>
<circle cx="400.88" cy="87.46" r="1.15" fill="none" stroke="#222" stroke-width="0.65"/>
<circle cx="403.37" cy="91.97" r="1.15" fill="none" stroke="#222" stroke-width="0.65"/>
<circle cx="409.73" cy="87.91" r="1.15" fill="none" stroke="#222" stroke-width="0.65"/>
<circle cx="405.35" cy="84.10" r="1.15" fill="none" stroke="#222" stroke-width="0.65"/>
<circle cx="408.12" cy="85.94" r="1.15" fill="none" stroke="#222" stroke-width="0.65"/>
<circle cx="407.09" cy="90.49" r="1.15" fill="none" stroke="#222" stroke-width="0.65"/>
<circle cx="406.64" cy="86.03" r="1.15" fill="none" stroke="#222" stroke-width="0.65"/>
<circle cx="417.21" cy="88.92" r="1.15" fill="none" stroke="#222" stroke-width="0.65"/>
<circle cx="411.44" cy="82.76" r="1.15" fill="none" stroke="#222" stroke-width="0.65"/>
<circle cx="419.21" cy="84.02" r="1.15" fill="none" stroke="#222" stroke-width="0.65"/>
<circle cx="419.31" cy="88.51" r="1.15" fill="none" stroke="#222" stroke-width="0.65"/>
<circle cx="417.62" cy="81.93" r="1.15" fill="none" stroke="#222" stroke-width="0.65"/>
<circle cx="418.99" cy="85.96" r="1.15" fill="none" stroke="#222" stroke-width="0.65"/>
<circle cx="402.57" cy="89.09" r="1.15" fill="none" stroke="#222" stroke-width="0.65"/>
<circle cx="403.65" cy="89.72" r="1.15" fill="none" stroke="#222" stroke-width="0.65"/>
<circle cx="413.59" cy="81.41" r="1.15" fill="none" stroke="#222" stroke-width="0.65"/>
<line x1="392.50" y1="149.23" x2="451.00" y2="149.23" stroke="#555" stroke-width="0.8" stroke-dasharray="1.9 1.45"/>
<circle cx="429.05" cy="129.04" r="1.15" fill="none" stroke="#222" stroke-width="0.65"/>
<circle cx="425.44" cy="136.27" r="1.15" fill="none" stroke="#222" stroke-width="0.65"/>
<circle cx="428.15" cy="139.88" r="1.15" fill="none" stroke="#222" stroke-width="0.65"/>
<circle cx="407.36" cy="137.17" r="1.15" fill="none" stroke="#222" stroke-width="0.65"/>
<circle cx="408.27" cy="138.07" r="1.15" fill="none" stroke="#222" stroke-width="0.65"/>
<circle cx="414.59" cy="142.59" r="1.15" fill="none" stroke="#222" stroke-width="0.65"/>
<circle cx="417.30" cy="143.13" r="1.15" fill="none" stroke="#222" stroke-width="0.65"/>
<circle cx="420.01" cy="142.05" r="1.15" fill="none" stroke="#222" stroke-width="0.65"/>
<circle cx="421.82" cy="143.86" r="1.15" fill="none" stroke="#222" stroke-width="0.65"/>
<circle cx="415.50" cy="145.30" r="1.15" fill="none" stroke="#222" stroke-width="0.65"/>
<circle cx="423.63" cy="148.56" r="1.15" fill="none" stroke="#222" stroke-width="0.65"/>
<circle cx="425.44" cy="152.89" r="1.15" fill="none" stroke="#222" stroke-width="0.65"/>
<circle cx="420.92" cy="154.70" r="1.15" fill="none" stroke="#222" stroke-width="0.65"/>
<circle cx="423.63" cy="156.15" r="1.15" fill="none" stroke="#222" stroke-width="0.65"/>
<circle cx="426.34" cy="164.28" r="1.15" fill="none" stroke="#222" stroke-width="0.65"/>
<circle cx="419.11" cy="162.47" r="1.15" fill="none" stroke="#222" stroke-width="0.65"/>
<circle cx="415.50" cy="158.86" r="1.15" fill="none" stroke="#222" stroke-width="0.65"/>
<circle cx="412.78" cy="161.57" r="1.15" fill="none" stroke="#222" stroke-width="0.65"/>
<circle cx="407.36" cy="160.67" r="1.15" fill="none" stroke="#222" stroke-width="0.65"/>
<circle cx="412.78" cy="167.35" r="1.15" fill="none" stroke="#222" stroke-width="0.65"/>
<circle cx="436.82" cy="176.39" r="1.15" fill="none" stroke="#222" stroke-width="0.65"/>
<circle cx="438.09" cy="164.28" r="1.15" fill="none" stroke="#222" stroke-width="0.65"/>
<circle cx="437.18" cy="164.28" r="1.15" fill="none" stroke="#222" stroke-width="0.65"/>
<circle cx="404.45" cy="154.86" r="1.15" fill="none" stroke="#222" stroke-width="0.65"/>
<circle cx="397.03" cy="152.83" r="1.15" fill="none" stroke="#222" stroke-width="0.65"/>
<circle cx="402.20" cy="150.63" r="1.15" fill="none" stroke="#222" stroke-width="0.65"/>
<circle cx="402.23" cy="153.08" r="1.15" fill="none" stroke="#222" stroke-width="0.65"/>
<circle cx="407.78" cy="150.51" r="1.15" fill="none" stroke="#222" stroke-width="0.65"/>
<circle cx="396.97" cy="151.76" r="1.15" fill="none" stroke="#222" stroke-width="0.65"/>
<circle cx="400.94" cy="151.73" r="1.15" fill="none" stroke="#222" stroke-width="0.65"/>
<circle cx="403.90" cy="155.32" r="1.15" fill="none" stroke="#222" stroke-width="0.65"/>
<circle cx="408.38" cy="148.76" r="1.15" fill="none" stroke="#222" stroke-width="0.65"/>
<circle cx="404.24" cy="155.82" r="1.15" fill="none" stroke="#222" stroke-width="0.65"/>
<circle cx="400.70" cy="151.05" r="1.15" fill="none" stroke="#222" stroke-width="0.65"/>
<circle cx="408.12" cy="154.46" r="1.15" fill="none" stroke="#222" stroke-width="0.65"/>
<circle cx="405.89" cy="145.63" r="1.15" fill="none" stroke="#222" stroke-width="0.65"/>
<circle cx="397.54" cy="150.15" r="1.15" fill="none" stroke="#222" stroke-width="0.65"/>
<circle cx="399.06" cy="153.27" r="1.15" fill="none" stroke="#222" stroke-width="0.65"/>
<circle cx="407.11" cy="144.56" r="1.15" fill="none" stroke="#222" stroke-width="0.65"/>
<circle cx="399.53" cy="150.06" r="1.15" fill="none" stroke="#222" stroke-width="0.65"/>
<circle cx="401.06" cy="149.12" r="1.15" fill="none" stroke="#222" stroke-width="0.65"/>
<circle cx="405.52" cy="147.31" r="1.15" fill="none" stroke="#222" stroke-width="0.65"/>
<circle cx="405.46" cy="147.89" r="1.15" fill="none" stroke="#222" stroke-width="0.65"/>
<circle cx="400.64" cy="151.39" r="1.15" fill="none" stroke="#222" stroke-width="0.65"/>
<circle cx="400.58" cy="150.55" r="1.15" fill="none" stroke="#222" stroke-width="0.65"/>
<circle cx="410.29" cy="150.53" r="1.15" fill="none" stroke="#222" stroke-width="0.65"/>
<circle cx="402.34" cy="152.21" r="1.15" fill="none" stroke="#222" stroke-width="0.65"/>
<circle cx="401.27" cy="153.28" r="1.15" fill="none" stroke="#222" stroke-width="0.65"/>
<circle cx="397.34" cy="151.38" r="1.15" fill="none" stroke="#222" stroke-width="0.65"/>
<circle cx="401.17" cy="146.97" r="1.15" fill="none" stroke="#222" stroke-width="0.65"/>
<circle cx="411.30" cy="147.68" r="1.15" fill="none" stroke="#222" stroke-width="0.65"/>
<circle cx="410.80" cy="152.69" r="1.15" fill="none" stroke="#222" stroke-width="0.65"/>
<circle cx="409.93" cy="147.14" r="1.15" fill="none" stroke="#222" stroke-width="0.65"/>
<circle cx="408.10" cy="155.13" r="1.15" fill="none" stroke="#222" stroke-width="0.65"/>
<circle cx="402.73" cy="149.35" r="1.15" fill="none" stroke="#222" stroke-width="0.65"/>
<circle cx="401.52" cy="147.56" r="1.15" fill="none" stroke="#222" stroke-width="0.65"/>
<circle cx="405.09" cy="151.09" r="1.15" fill="none" stroke="#222" stroke-width="0.65"/>
<circle cx="403.49" cy="155.61" r="1.15" fill="none" stroke="#222" stroke-width="0.65"/>
<circle cx="401.61" cy="151.27" r="1.15" fill="none" stroke="#222" stroke-width="0.65"/>
<circle cx="419.62" cy="148.90" r="1.15" fill="none" stroke="#222" stroke-width="0.65"/>
<circle cx="398.50" cy="144.78" r="1.15" fill="none" stroke="#222" stroke-width="0.65"/>
<circle cx="412.66" cy="144.06" r="1.15" fill="none" stroke="#222" stroke-width="0.65"/>
<circle cx="410.61" cy="157.72" r="1.15" fill="none" stroke="#222" stroke-width="0.65"/>
<circle cx="395.97" cy="147.64" r="1.15" fill="none" stroke="#222" stroke-width="0.65"/>
<circle cx="402.54" cy="149.02" r="1.15" fill="none" stroke="#222" stroke-width="0.65"/>
<circle cx="407.92" cy="153.40" r="1.15" fill="none" stroke="#222" stroke-width="0.65"/>
<circle cx="405.28" cy="150.69" r="1.15" fill="none" stroke="#222" stroke-width="0.65"/>
<circle cx="403.71" cy="150.83" r="1.15" fill="none" stroke="#222" stroke-width="0.65"/>
<circle cx="399.03" cy="149.79" r="1.15" fill="none" stroke="#222" stroke-width="0.65"/>
<circle cx="393.71" cy="146.51" r="1.15" fill="none" stroke="#222" stroke-width="0.65"/>
<circle cx="422.27" cy="153.96" r="1.15" fill="none" stroke="#222" stroke-width="0.65"/>
<circle cx="398.23" cy="150.47" r="1.15" fill="none" stroke="#222" stroke-width="0.65"/>
<circle cx="401.78" cy="143.01" r="1.15" fill="none" stroke="#222" stroke-width="0.65"/>
<circle cx="401.83" cy="153.13" r="1.15" fill="none" stroke="#222" stroke-width="0.65"/>
<circle cx="410.87" cy="151.20" r="1.15" fill="none" stroke="#222" stroke-width="0.65"/>
<circle cx="401.71" cy="145.43" r="1.15" fill="none" stroke="#222" stroke-width="0.65"/>
<circle cx="417.89" cy="153.88" r="1.15" fill="none" stroke="#222" stroke-width="0.65"/>
<line x1="451.50" y1="149.23" x2="510.00" y2="149.23" stroke="#555" stroke-width="0.8" stroke-dasharray="1.9 1.45"/>
<circle cx="469.98" cy="141.33" r="1.15" fill="none" stroke="#222" stroke-width="0.65"/>
<circle cx="488.95" cy="140.24" r="1.15" fill="none" stroke="#222" stroke-width="0.65"/>
<circle cx="500.70" cy="142.59" r="1.15" fill="none" stroke="#222" stroke-width="0.65"/>
<circle cx="478.11" cy="143.86" r="1.15" fill="none" stroke="#222" stroke-width="0.65"/>
<circle cx="480.82" cy="143.50" r="1.15" fill="none" stroke="#222" stroke-width="0.65"/>
<circle cx="483.53" cy="146.75" r="1.15" fill="none" stroke="#222" stroke-width="0.65"/>
<circle cx="480.82" cy="145.30" r="1.15" fill="none" stroke="#222" stroke-width="0.65"/>
<circle cx="482.63" cy="150.72" r="1.15" fill="none" stroke="#222" stroke-width="0.65"/>
<circle cx="483.53" cy="152.53" r="1.15" fill="none" stroke="#222" stroke-width="0.65"/>
<circle cx="479.92" cy="155.24" r="1.15" fill="none" stroke="#222" stroke-width="0.65"/>
<circle cx="481.72" cy="156.15" r="1.15" fill="none" stroke="#222" stroke-width="0.65"/>
<circle cx="484.44" cy="157.05" r="1.15" fill="none" stroke="#222" stroke-width="0.65"/>
<circle cx="488.05" cy="156.15" r="1.15" fill="none" stroke="#222" stroke-width="0.65"/>
<circle cx="479.92" cy="158.86" r="1.15" fill="none" stroke="#222" stroke-width="0.65"/>
<circle cx="488.95" cy="163.38" r="1.15" fill="none" stroke="#222" stroke-width="0.65"/>
<circle cx="473.59" cy="161.57" r="1.15" fill="none" stroke="#222" stroke-width="0.65"/>
<circle cx="477.75" cy="166.09" r="1.15" fill="none" stroke="#222" stroke-width="0.65"/>
<circle cx="472.69" cy="167.89" r="1.15" fill="none" stroke="#222" stroke-width="0.65"/>
<circle cx="477.21" cy="169.70" r="1.15" fill="none" stroke="#222" stroke-width="0.65"/>
<circle cx="481.72" cy="168.80" r="1.15" fill="none" stroke="#222" stroke-width="0.65"/>
<circle cx="505.22" cy="158.32" r="1.15" fill="none" stroke="#222" stroke-width="0.65"/>
<circle cx="474.50" cy="152.53" r="1.15" fill="none" stroke="#222" stroke-width="0.65"/>
<circle cx="476.30" cy="154.34" r="1.15" fill="none" stroke="#222" stroke-width="0.65"/>
<circle cx="459.38" cy="148.69" r="1.15" fill="none" stroke="#222" stroke-width="0.65"/>
<circle cx="465.66" cy="150.07" r="1.15" fill="none" stroke="#222" stroke-width="0.65"/>
<circle cx="464.57" cy="145.23" r="1.15" fill="none" stroke="#222" stroke-width="0.65"/>
<circle cx="458.18" cy="154.97" r="1.15" fill="none" stroke="#222" stroke-width="0.65"/>
<circle cx="460.31" cy="152.39" r="1.15" fill="none" stroke="#222" stroke-width="0.65"/>
<circle cx="457.08" cy="147.33" r="1.15" fill="none" stroke="#222" stroke-width="0.65"/>
<circle cx="464.78" cy="154.30" r="1.15" fill="none" stroke="#222" stroke-width="0.65"/>
<circle cx="458.87" cy="151.07" r="1.15" fill="none" stroke="#222" stroke-width="0.65"/>
<circle cx="467.01" cy="148.26" r="1.15" fill="none" stroke="#222" stroke-width="0.65"/>
<circle cx="467.57" cy="147.81" r="1.15" fill="none" stroke="#222" stroke-width="0.65"/>
<circle cx="460.94" cy="149.32" r="1.15" fill="none" stroke="#222" stroke-width="0.65"/>
<circle cx="461.36" cy="144.03" r="1.15" fill="none" stroke="#222" stroke-width="0.65"/>
<circle cx="461.90" cy="152.51" r="1.15" fill="none" stroke="#222" stroke-width="0.65"/>
<circle cx="461.52" cy="154.29" r="1.15" fill="none" stroke="#222" stroke-width="0.65"/>
<circle cx="460.49" cy="144.36" r="1.15" fill="none" stroke="#222" stroke-width="0.65"/>
<circle cx="471.26" cy="153.65" r="1.15" fill="none" stroke="#222" stroke-width="0.65"/>
<circle cx="469.64" cy="148.63" r="1.15" fill="none" stroke="#222" stroke-width="0.65"/>
<circle cx="467.98" cy="152.25" r="1.15" fill="none" stroke="#222" stroke-width="0.65"/>
<circle cx="467.49" cy="151.25" r="1.15" fill="none" stroke="#222" stroke-width="0.65"/>
<circle cx="470.67" cy="149.57" r="1.15" fill="none" stroke="#222" stroke-width="0.65"/>
<circle cx="461.54" cy="144.03" r="1.15" fill="none" stroke="#222" stroke-width="0.65"/>
<circle cx="470.54" cy="149.21" r="1.15" fill="none" stroke="#222" stroke-width="0.65"/>
<circle cx="460.67" cy="145.81" r="1.15" fill="none" stroke="#222" stroke-width="0.65"/>
<circle cx="463.71" cy="145.38" r="1.15" fill="none" stroke="#222" stroke-width="0.65"/>
<circle cx="463.82" cy="147.82" r="1.15" fill="none" stroke="#222" stroke-width="0.65"/>
<circle cx="462.94" cy="146.34" r="1.15" fill="none" stroke="#222" stroke-width="0.65"/>
<circle cx="465.15" cy="148.80" r="1.15" fill="none" stroke="#222" stroke-width="0.65"/>
<circle cx="464.85" cy="151.37" r="1.15" fill="none" stroke="#222" stroke-width="0.65"/>
<circle cx="462.85" cy="146.93" r="1.15" fill="none" stroke="#222" stroke-width="0.65"/>
<circle cx="469.57" cy="145.80" r="1.15" fill="none" stroke="#222" stroke-width="0.65"/>
<circle cx="461.57" cy="148.46" r="1.15" fill="none" stroke="#222" stroke-width="0.65"/>
<circle cx="462.09" cy="153.41" r="1.15" fill="none" stroke="#222" stroke-width="0.65"/>
<circle cx="461.63" cy="153.19" r="1.15" fill="none" stroke="#222" stroke-width="0.65"/>
<circle cx="469.71" cy="153.38" r="1.15" fill="none" stroke="#222" stroke-width="0.65"/>
<circle cx="466.67" cy="151.39" r="1.15" fill="none" stroke="#222" stroke-width="0.65"/>
<circle cx="467.90" cy="146.71" r="1.15" fill="none" stroke="#222" stroke-width="0.65"/>
<circle cx="476.65" cy="152.27" r="1.15" fill="none" stroke="#222" stroke-width="0.65"/>
<circle cx="476.26" cy="154.84" r="1.15" fill="none" stroke="#222" stroke-width="0.65"/>
<circle cx="477.55" cy="154.21" r="1.15" fill="none" stroke="#222" stroke-width="0.65"/>
<circle cx="465.89" cy="152.73" r="1.15" fill="none" stroke="#222" stroke-width="0.65"/>
<circle cx="466.52" cy="149.50" r="1.15" fill="none" stroke="#222" stroke-width="0.65"/>
<circle cx="469.67" cy="153.32" r="1.15" fill="none" stroke="#222" stroke-width="0.65"/>
<circle cx="480.23" cy="155.72" r="1.15" fill="none" stroke="#222" stroke-width="0.65"/>
<circle cx="469.89" cy="153.34" r="1.15" fill="none" stroke="#222" stroke-width="0.65"/>
<circle cx="468.81" cy="149.30" r="1.15" fill="none" stroke="#222" stroke-width="0.65"/>
<circle cx="469.27" cy="149.82" r="1.15" fill="none" stroke="#222" stroke-width="0.65"/>
<circle cx="480.61" cy="157.93" r="1.15" fill="none" stroke="#222" stroke-width="0.65"/>
<circle cx="467.84" cy="143.93" r="1.15" fill="none" stroke="#222" stroke-width="0.65"/>
<circle cx="469.13" cy="150.75" r="1.15" fill="none" stroke="#222" stroke-width="0.65"/>
<circle cx="462.28" cy="145.80" r="1.15" fill="none" stroke="#222" stroke-width="0.65"/>
<circle cx="469.00" cy="151.87" r="1.15" fill="none" stroke="#222" stroke-width="0.65"/>
<circle cx="479.60" cy="155.93" r="1.15" fill="none" stroke="#222" stroke-width="0.65"/>
<circle cx="470.71" cy="151.37" r="1.15" fill="none" stroke="#222" stroke-width="0.65"/>
<circle cx="462.98" cy="157.37" r="1.15" fill="none" stroke="#222" stroke-width="0.65"/>
<circle cx="474.61" cy="161.43" r="1.15" fill="none" stroke="#222" stroke-width="0.65"/>
<circle cx="466.46" cy="151.96" r="1.15" fill="none" stroke="#222" stroke-width="0.65"/>
<line x1="392.50" y1="208.93" x2="451.00" y2="208.93" stroke="#555" stroke-width="0.8" stroke-dasharray="1.9 1.45"/>
<circle cx="404.29" cy="200.24" r="1.15" fill="none" stroke="#222" stroke-width="0.65"/>
<circle cx="418.21" cy="200.78" r="1.15" fill="none" stroke="#222" stroke-width="0.65"/>
<circle cx="419.11" cy="203.50" r="1.15" fill="none" stroke="#222" stroke-width="0.65"/>
<circle cx="426.70" cy="201.33" r="1.15" fill="none" stroke="#222" stroke-width="0.65"/>
<circle cx="430.86" cy="208.56" r="1.15" fill="none" stroke="#222" stroke-width="0.65"/>
<circle cx="419.11" cy="208.56" r="1.15" fill="none" stroke="#222" stroke-width="0.65"/>
<circle cx="421.82" cy="212.17" r="1.15" fill="none" stroke="#222" stroke-width="0.65"/>
<circle cx="426.34" cy="214.34" r="1.15" fill="none" stroke="#222" stroke-width="0.65"/>
<circle cx="419.11" cy="211.63" r="1.15" fill="none" stroke="#222" stroke-width="0.65"/>
<circle cx="417.30" cy="217.95" r="1.15" fill="none" stroke="#222" stroke-width="0.65"/>
<circle cx="412.78" cy="221.57" r="1.15" fill="none" stroke="#222" stroke-width="0.65"/>
<circle cx="417.30" cy="222.47" r="1.15" fill="none" stroke="#222" stroke-width="0.65"/>
<circle cx="425.44" cy="225.18" r="1.15" fill="none" stroke="#222" stroke-width="0.65"/>
<circle cx="437.18" cy="223.38" r="1.15" fill="none" stroke="#222" stroke-width="0.65"/>
<circle cx="438.63" cy="225.18" r="1.15" fill="none" stroke="#222" stroke-width="0.65"/>
<circle cx="438.99" cy="233.86" r="1.15" fill="none" stroke="#222" stroke-width="0.65"/>
<circle cx="402.84" cy="213.98" r="1.15" fill="none" stroke="#222" stroke-width="0.65"/>
<circle cx="408.27" cy="217.95" r="1.15" fill="none" stroke="#222" stroke-width="0.65"/>
<circle cx="410.07" cy="216.15" r="1.15" fill="none" stroke="#222" stroke-width="0.65"/>
<circle cx="414.59" cy="213.44" r="1.15" fill="none" stroke="#222" stroke-width="0.65"/>
<circle cx="399.69" cy="209.74" r="1.15" fill="none" stroke="#222" stroke-width="0.65"/>
<circle cx="397.93" cy="207.91" r="1.15" fill="none" stroke="#222" stroke-width="0.65"/>
<circle cx="407.53" cy="213.91" r="1.15" fill="none" stroke="#222" stroke-width="0.65"/>
<circle cx="399.32" cy="209.97" r="1.15" fill="none" stroke="#222" stroke-width="0.65"/>
<circle cx="402.03" cy="205.49" r="1.15" fill="none" stroke="#222" stroke-width="0.65"/>
<circle cx="397.66" cy="209.56" r="1.15" fill="none" stroke="#222" stroke-width="0.65"/>
<circle cx="411.75" cy="209.51" r="1.15" fill="none" stroke="#222" stroke-width="0.65"/>
<circle cx="401.44" cy="206.51" r="1.15" fill="none" stroke="#222" stroke-width="0.65"/>
<circle cx="403.73" cy="203.04" r="1.15" fill="none" stroke="#222" stroke-width="0.65"/>
<circle cx="400.35" cy="210.63" r="1.15" fill="none" stroke="#222" stroke-width="0.65"/>
<circle cx="412.35" cy="210.70" r="1.15" fill="none" stroke="#222" stroke-width="0.65"/>
<circle cx="401.88" cy="206.17" r="1.15" fill="none" stroke="#222" stroke-width="0.65"/>
<circle cx="398.74" cy="209.68" r="1.15" fill="none" stroke="#222" stroke-width="0.65"/>
<circle cx="406.22" cy="207.00" r="1.15" fill="none" stroke="#222" stroke-width="0.65"/>
<circle cx="407.55" cy="209.77" r="1.15" fill="none" stroke="#222" stroke-width="0.65"/>
<circle cx="398.79" cy="208.39" r="1.15" fill="none" stroke="#222" stroke-width="0.65"/>
<circle cx="411.45" cy="212.63" r="1.15" fill="none" stroke="#222" stroke-width="0.65"/>
<circle cx="401.61" cy="206.55" r="1.15" fill="none" stroke="#222" stroke-width="0.65"/>
<circle cx="410.18" cy="206.38" r="1.15" fill="none" stroke="#222" stroke-width="0.65"/>
<circle cx="402.95" cy="209.09" r="1.15" fill="none" stroke="#222" stroke-width="0.65"/>
<circle cx="397.80" cy="204.45" r="1.15" fill="none" stroke="#222" stroke-width="0.65"/>
<circle cx="404.92" cy="213.47" r="1.15" fill="none" stroke="#222" stroke-width="0.65"/>
<circle cx="407.35" cy="208.77" r="1.15" fill="none" stroke="#222" stroke-width="0.65"/>
<circle cx="400.26" cy="204.32" r="1.15" fill="none" stroke="#222" stroke-width="0.65"/>
<circle cx="401.37" cy="207.93" r="1.15" fill="none" stroke="#222" stroke-width="0.65"/>
<circle cx="402.50" cy="212.84" r="1.15" fill="none" stroke="#222" stroke-width="0.65"/>
<circle cx="406.51" cy="206.19" r="1.15" fill="none" stroke="#222" stroke-width="0.65"/>
<circle cx="409.84" cy="213.39" r="1.15" fill="none" stroke="#222" stroke-width="0.65"/>
<circle cx="405.40" cy="206.83" r="1.15" fill="none" stroke="#222" stroke-width="0.65"/>
<circle cx="408.86" cy="207.85" r="1.15" fill="none" stroke="#222" stroke-width="0.65"/>
<circle cx="398.59" cy="207.06" r="1.15" fill="none" stroke="#222" stroke-width="0.65"/>
<circle cx="404.73" cy="210.51" r="1.15" fill="none" stroke="#222" stroke-width="0.65"/>
<circle cx="405.69" cy="213.23" r="1.15" fill="none" stroke="#222" stroke-width="0.65"/>
<circle cx="399.85" cy="209.84" r="1.15" fill="none" stroke="#222" stroke-width="0.65"/>
<circle cx="399.50" cy="208.87" r="1.15" fill="none" stroke="#222" stroke-width="0.65"/>
<circle cx="404.81" cy="209.46" r="1.15" fill="none" stroke="#222" stroke-width="0.65"/>
<circle cx="414.25" cy="212.25" r="1.15" fill="none" stroke="#222" stroke-width="0.65"/>
<circle cx="414.13" cy="215.51" r="1.15" fill="none" stroke="#222" stroke-width="0.65"/>
<circle cx="409.46" cy="208.47" r="1.15" fill="none" stroke="#222" stroke-width="0.65"/>
<circle cx="403.61" cy="206.49" r="1.15" fill="none" stroke="#222" stroke-width="0.65"/>
<circle cx="406.61" cy="209.44" r="1.15" fill="none" stroke="#222" stroke-width="0.65"/>
<circle cx="413.95" cy="209.02" r="1.15" fill="none" stroke="#222" stroke-width="0.65"/>
<circle cx="403.64" cy="207.27" r="1.15" fill="none" stroke="#222" stroke-width="0.65"/>
<circle cx="410.39" cy="207.08" r="1.15" fill="none" stroke="#222" stroke-width="0.65"/>
<circle cx="419.10" cy="211.99" r="1.15" fill="none" stroke="#222" stroke-width="0.65"/>
<circle cx="407.53" cy="210.89" r="1.15" fill="none" stroke="#222" stroke-width="0.65"/>
<circle cx="408.44" cy="212.42" r="1.15" fill="none" stroke="#222" stroke-width="0.65"/>
<circle cx="409.54" cy="211.20" r="1.15" fill="none" stroke="#222" stroke-width="0.65"/>
<circle cx="410.15" cy="210.09" r="1.15" fill="none" stroke="#222" stroke-width="0.65"/>
<circle cx="403.23" cy="206.15" r="1.15" fill="none" stroke="#222" stroke-width="0.65"/>
<circle cx="405.99" cy="214.07" r="1.15" fill="none" stroke="#222" stroke-width="0.65"/>
<circle cx="405.79" cy="206.00" r="1.15" fill="none" stroke="#222" stroke-width="0.65"/>
<circle cx="404.03" cy="209.29" r="1.15" fill="none" stroke="#222" stroke-width="0.65"/>
<circle cx="407.90" cy="211.02" r="1.15" fill="none" stroke="#222" stroke-width="0.65"/>
<line x1="451.50" y1="208.93" x2="510.00" y2="208.93" stroke="#555" stroke-width="0.8" stroke-dasharray="1.9 1.45"/>
<circle cx="479.56" cy="197.17" r="1.15" fill="none" stroke="#222" stroke-width="0.65"/>
<circle cx="475.40" cy="204.40" r="1.15" fill="none" stroke="#222" stroke-width="0.65"/>
<circle cx="477.21" cy="203.86" r="1.15" fill="none" stroke="#222" stroke-width="0.65"/>
<circle cx="483.53" cy="209.28" r="1.15" fill="none" stroke="#222" stroke-width="0.65"/>
<circle cx="484.44" cy="208.92" r="1.15" fill="none" stroke="#222" stroke-width="0.65"/>
<circle cx="486.24" cy="211.63" r="1.15" fill="none" stroke="#222" stroke-width="0.65"/>
<circle cx="489.86" cy="213.98" r="1.15" fill="none" stroke="#222" stroke-width="0.65"/>
<circle cx="480.82" cy="214.70" r="1.15" fill="none" stroke="#222" stroke-width="0.65"/>
<circle cx="482.63" cy="217.05" r="1.15" fill="none" stroke="#222" stroke-width="0.65"/>
<circle cx="479.92" cy="219.40" r="1.15" fill="none" stroke="#222" stroke-width="0.65"/>
<circle cx="476.30" cy="219.76" r="1.15" fill="none" stroke="#222" stroke-width="0.65"/>
<circle cx="472.69" cy="221.93" r="1.15" fill="none" stroke="#222" stroke-width="0.65"/>
<circle cx="477.21" cy="223.74" r="1.15" fill="none" stroke="#222" stroke-width="0.65"/>
<circle cx="478.11" cy="226.09" r="1.15" fill="none" stroke="#222" stroke-width="0.65"/>
<circle cx="482.63" cy="224.28" r="1.15" fill="none" stroke="#222" stroke-width="0.65"/>
<circle cx="486.24" cy="226.63" r="1.15" fill="none" stroke="#222" stroke-width="0.65"/>
<circle cx="488.05" cy="221.93" r="1.15" fill="none" stroke="#222" stroke-width="0.65"/>
<circle cx="503.41" cy="219.40" r="1.15" fill="none" stroke="#222" stroke-width="0.65"/>
<circle cx="474.50" cy="217.95" r="1.15" fill="none" stroke="#222" stroke-width="0.65"/>
<circle cx="464.23" cy="211.49" r="1.15" fill="none" stroke="#222" stroke-width="0.65"/>
<circle cx="466.51" cy="208.47" r="1.15" fill="none" stroke="#222" stroke-width="0.65"/>
<circle cx="468.87" cy="205.24" r="1.15" fill="none" stroke="#222" stroke-width="0.65"/>
<circle cx="467.68" cy="210.45" r="1.15" fill="none" stroke="#222" stroke-width="0.65"/>
<circle cx="464.59" cy="206.08" r="1.15" fill="none" stroke="#222" stroke-width="0.65"/>
<circle cx="459.95" cy="203.67" r="1.15" fill="none" stroke="#222" stroke-width="0.65"/>
<circle cx="468.07" cy="211.77" r="1.15" fill="none" stroke="#222" stroke-width="0.65"/>
<circle cx="464.76" cy="210.33" r="1.15" fill="none" stroke="#222" stroke-width="0.65"/>
<circle cx="462.58" cy="207.99" r="1.15" fill="none" stroke="#222" stroke-width="0.65"/>
<circle cx="465.01" cy="210.57" r="1.15" fill="none" stroke="#222" stroke-width="0.65"/>
<circle cx="465.30" cy="208.38" r="1.15" fill="none" stroke="#222" stroke-width="0.65"/>
<circle cx="465.57" cy="206.84" r="1.15" fill="none" stroke="#222" stroke-width="0.65"/>
<circle cx="467.73" cy="212.60" r="1.15" fill="none" stroke="#222" stroke-width="0.65"/>
<circle cx="470.38" cy="207.02" r="1.15" fill="none" stroke="#222" stroke-width="0.65"/>
<circle cx="461.11" cy="208.05" r="1.15" fill="none" stroke="#222" stroke-width="0.65"/>
<circle cx="468.97" cy="206.97" r="1.15" fill="none" stroke="#222" stroke-width="0.65"/>
<circle cx="464.13" cy="207.06" r="1.15" fill="none" stroke="#222" stroke-width="0.65"/>
<circle cx="465.35" cy="209.98" r="1.15" fill="none" stroke="#222" stroke-width="0.65"/>
<circle cx="465.54" cy="204.87" r="1.15" fill="none" stroke="#222" stroke-width="0.65"/>
<circle cx="463.79" cy="211.62" r="1.15" fill="none" stroke="#222" stroke-width="0.65"/>
<circle cx="466.76" cy="211.62" r="1.15" fill="none" stroke="#222" stroke-width="0.65"/>
<circle cx="468.57" cy="207.66" r="1.15" fill="none" stroke="#222" stroke-width="0.65"/>
<circle cx="466.96" cy="212.86" r="1.15" fill="none" stroke="#222" stroke-width="0.65"/>
<circle cx="464.58" cy="206.58" r="1.15" fill="none" stroke="#222" stroke-width="0.65"/>
<circle cx="461.55" cy="207.72" r="1.15" fill="none" stroke="#222" stroke-width="0.65"/>
<circle cx="464.54" cy="210.76" r="1.15" fill="none" stroke="#222" stroke-width="0.65"/>
<circle cx="468.05" cy="211.53" r="1.15" fill="none" stroke="#222" stroke-width="0.65"/>
<circle cx="466.97" cy="208.84" r="1.15" fill="none" stroke="#222" stroke-width="0.65"/>
<circle cx="465.83" cy="206.35" r="1.15" fill="none" stroke="#222" stroke-width="0.65"/>
<circle cx="466.31" cy="209.18" r="1.15" fill="none" stroke="#222" stroke-width="0.65"/>
<circle cx="467.92" cy="207.09" r="1.15" fill="none" stroke="#222" stroke-width="0.65"/>
<circle cx="465.59" cy="209.13" r="1.15" fill="none" stroke="#222" stroke-width="0.65"/>
<circle cx="469.48" cy="207.03" r="1.15" fill="none" stroke="#222" stroke-width="0.65"/>
<circle cx="466.28" cy="212.49" r="1.15" fill="none" stroke="#222" stroke-width="0.65"/>
<circle cx="468.65" cy="208.99" r="1.15" fill="none" stroke="#222" stroke-width="0.65"/>
<circle cx="463.45" cy="207.33" r="1.15" fill="none" stroke="#222" stroke-width="0.65"/>
<circle cx="472.88" cy="219.50" r="1.15" fill="none" stroke="#222" stroke-width="0.65"/>
<circle cx="469.79" cy="209.04" r="1.15" fill="none" stroke="#222" stroke-width="0.65"/>
<circle cx="472.34" cy="213.62" r="1.15" fill="none" stroke="#222" stroke-width="0.65"/>
<circle cx="464.61" cy="206.55" r="1.15" fill="none" stroke="#222" stroke-width="0.65"/>
<circle cx="468.28" cy="213.94" r="1.15" fill="none" stroke="#222" stroke-width="0.65"/>
<circle cx="463.00" cy="204.72" r="1.15" fill="none" stroke="#222" stroke-width="0.65"/>
<circle cx="475.30" cy="208.82" r="1.15" fill="none" stroke="#222" stroke-width="0.65"/>
<circle cx="470.24" cy="213.39" r="1.15" fill="none" stroke="#222" stroke-width="0.65"/>
<circle cx="470.67" cy="207.82" r="1.15" fill="none" stroke="#222" stroke-width="0.65"/>
<circle cx="470.04" cy="210.44" r="1.15" fill="none" stroke="#222" stroke-width="0.65"/>
<circle cx="473.58" cy="209.74" r="1.15" fill="none" stroke="#222" stroke-width="0.65"/>
<circle cx="480.16" cy="208.89" r="1.15" fill="none" stroke="#222" stroke-width="0.65"/>
<circle cx="468.72" cy="211.33" r="1.15" fill="none" stroke="#222" stroke-width="0.65"/>
<circle cx="477.68" cy="212.37" r="1.15" fill="none" stroke="#222" stroke-width="0.65"/>
<circle cx="474.67" cy="211.33" r="1.15" fill="none" stroke="#222" stroke-width="0.65"/>
<circle cx="472.68" cy="220.19" r="1.15" fill="none" stroke="#222" stroke-width="0.65"/>
<circle cx="466.49" cy="212.26" r="1.15" fill="none" stroke="#222" stroke-width="0.65"/>
<circle cx="461.98" cy="212.67" r="1.15" fill="none" stroke="#222" stroke-width="0.65"/>
<circle cx="478.51" cy="215.40" r="1.15" fill="none" stroke="#222" stroke-width="0.65"/>
<circle cx="461.34" cy="210.01" r="1.15" fill="none" stroke="#222" stroke-width="0.65"/>
<line x1="510.50" y1="208.93" x2="569.00" y2="208.93" stroke="#555" stroke-width="0.8" stroke-dasharray="1.9 1.45"/>
<circle cx="542.53" cy="200.78" r="1.15" fill="none" stroke="#222" stroke-width="0.65"/>
<circle cx="532.59" cy="201.33" r="1.15" fill="none" stroke="#222" stroke-width="0.65"/>
<circle cx="530.78" cy="202.05" r="1.15" fill="none" stroke="#222" stroke-width="0.65"/>
<circle cx="541.63" cy="206.21" r="1.15" fill="none" stroke="#222" stroke-width="0.65"/>
<circle cx="542.53" cy="208.56" r="1.15" fill="none" stroke="#222" stroke-width="0.65"/>
<circle cx="541.63" cy="212.53" r="1.15" fill="none" stroke="#222" stroke-width="0.65"/>
<circle cx="554.28" cy="210.36" r="1.15" fill="none" stroke="#222" stroke-width="0.65"/>
<circle cx="545.24" cy="221.21" r="1.15" fill="none" stroke="#222" stroke-width="0.65"/>
<circle cx="556.09" cy="221.21" r="1.15" fill="none" stroke="#222" stroke-width="0.65"/>
<circle cx="537.11" cy="217.95" r="1.15" fill="none" stroke="#222" stroke-width="0.65"/>
<circle cx="535.30" cy="217.05" r="1.15" fill="none" stroke="#222" stroke-width="0.65"/>
<circle cx="533.50" cy="217.95" r="1.15" fill="none" stroke="#222" stroke-width="0.65"/>
<circle cx="531.69" cy="215.24" r="1.15" fill="none" stroke="#222" stroke-width="0.65"/>
<circle cx="522.29" cy="201.33" r="1.15" fill="none" stroke="#222" stroke-width="0.65"/>
<circle cx="515.42" cy="208.01" r="1.15" fill="none" stroke="#222" stroke-width="0.65"/>
<circle cx="527.24" cy="211.75" r="1.15" fill="none" stroke="#222" stroke-width="0.65"/>
<circle cx="518.84" cy="209.53" r="1.15" fill="none" stroke="#222" stroke-width="0.65"/>
<circle cx="516.65" cy="208.00" r="1.15" fill="none" stroke="#222" stroke-width="0.65"/>
<circle cx="528.26" cy="208.54" r="1.15" fill="none" stroke="#222" stroke-width="0.65"/>
<circle cx="517.65" cy="205.26" r="1.15" fill="none" stroke="#222" stroke-width="0.65"/>
<circle cx="522.17" cy="207.04" r="1.15" fill="none" stroke="#222" stroke-width="0.65"/>
<circle cx="526.22" cy="208.28" r="1.15" fill="none" stroke="#222" stroke-width="0.65"/>
<circle cx="523.52" cy="208.72" r="1.15" fill="none" stroke="#222" stroke-width="0.65"/>
<circle cx="521.50" cy="211.56" r="1.15" fill="none" stroke="#222" stroke-width="0.65"/>
<circle cx="524.91" cy="208.37" r="1.15" fill="none" stroke="#222" stroke-width="0.65"/>
<circle cx="522.60" cy="205.75" r="1.15" fill="none" stroke="#222" stroke-width="0.65"/>
<circle cx="528.86" cy="209.98" r="1.15" fill="none" stroke="#222" stroke-width="0.65"/>
<circle cx="518.68" cy="204.48" r="1.15" fill="none" stroke="#222" stroke-width="0.65"/>
<circle cx="522.77" cy="206.26" r="1.15" fill="none" stroke="#222" stroke-width="0.65"/>
<circle cx="528.77" cy="206.64" r="1.15" fill="none" stroke="#222" stroke-width="0.65"/>
<circle cx="525.08" cy="208.59" r="1.15" fill="none" stroke="#222" stroke-width="0.65"/>
<circle cx="517.74" cy="205.67" r="1.15" fill="none" stroke="#222" stroke-width="0.65"/>
<circle cx="522.19" cy="208.43" r="1.15" fill="none" stroke="#222" stroke-width="0.65"/>
<circle cx="520.77" cy="207.42" r="1.15" fill="none" stroke="#222" stroke-width="0.65"/>
<circle cx="516.49" cy="202.37" r="1.15" fill="none" stroke="#222" stroke-width="0.65"/>
<circle cx="525.66" cy="211.05" r="1.15" fill="none" stroke="#222" stroke-width="0.65"/>
<circle cx="523.44" cy="206.12" r="1.15" fill="none" stroke="#222" stroke-width="0.65"/>
<circle cx="518.92" cy="207.67" r="1.15" fill="none" stroke="#222" stroke-width="0.65"/>
<circle cx="526.75" cy="206.23" r="1.15" fill="none" stroke="#222" stroke-width="0.65"/>
<circle cx="524.42" cy="205.73" r="1.15" fill="none" stroke="#222" stroke-width="0.65"/>
<circle cx="522.53" cy="209.56" r="1.15" fill="none" stroke="#222" stroke-width="0.65"/>
<circle cx="527.88" cy="204.76" r="1.15" fill="none" stroke="#222" stroke-width="0.65"/>
<circle cx="527.75" cy="210.20" r="1.15" fill="none" stroke="#222" stroke-width="0.65"/>
<circle cx="522.19" cy="209.81" r="1.15" fill="none" stroke="#222" stroke-width="0.65"/>
<circle cx="520.74" cy="204.87" r="1.15" fill="none" stroke="#222" stroke-width="0.65"/>
<circle cx="521.42" cy="206.71" r="1.15" fill="none" stroke="#222" stroke-width="0.65"/>
<circle cx="517.81" cy="206.80" r="1.15" fill="none" stroke="#222" stroke-width="0.65"/>
<circle cx="525.37" cy="208.51" r="1.15" fill="none" stroke="#222" stroke-width="0.65"/>
<circle cx="530.83" cy="209.49" r="1.15" fill="none" stroke="#222" stroke-width="0.65"/>
<circle cx="529.26" cy="208.37" r="1.15" fill="none" stroke="#222" stroke-width="0.65"/>
<circle cx="524.03" cy="207.40" r="1.15" fill="none" stroke="#222" stroke-width="0.65"/>
<circle cx="525.48" cy="206.89" r="1.15" fill="none" stroke="#222" stroke-width="0.65"/>
<circle cx="526.56" cy="206.93" r="1.15" fill="none" stroke="#222" stroke-width="0.65"/>
<circle cx="525.03" cy="207.01" r="1.15" fill="none" stroke="#222" stroke-width="0.65"/>
<circle cx="521.31" cy="206.92" r="1.15" fill="none" stroke="#222" stroke-width="0.65"/>
<circle cx="533.46" cy="210.97" r="1.15" fill="none" stroke="#222" stroke-width="0.65"/>
<circle cx="523.43" cy="212.55" r="1.15" fill="none" stroke="#222" stroke-width="0.65"/>
<circle cx="533.49" cy="214.79" r="1.15" fill="none" stroke="#222" stroke-width="0.65"/>
<circle cx="535.96" cy="211.63" r="1.15" fill="none" stroke="#222" stroke-width="0.65"/>
<circle cx="526.06" cy="212.71" r="1.15" fill="none" stroke="#222" stroke-width="0.65"/>
<circle cx="524.58" cy="208.16" r="1.15" fill="none" stroke="#222" stroke-width="0.65"/>
<circle cx="530.15" cy="211.79" r="1.15" fill="none" stroke="#222" stroke-width="0.65"/>
<circle cx="525.24" cy="211.99" r="1.15" fill="none" stroke="#222" stroke-width="0.65"/>
<circle cx="526.15" cy="211.48" r="1.15" fill="none" stroke="#222" stroke-width="0.65"/>
<circle cx="534.38" cy="214.26" r="1.15" fill="none" stroke="#222" stroke-width="0.65"/>
<circle cx="534.08" cy="208.23" r="1.15" fill="none" stroke="#222" stroke-width="0.65"/>
<circle cx="520.16" cy="204.93" r="1.15" fill="none" stroke="#222" stroke-width="0.65"/>
<circle cx="529.61" cy="215.26" r="1.15" fill="none" stroke="#222" stroke-width="0.65"/>
<circle cx="519.77" cy="207.80" r="1.15" fill="none" stroke="#222" stroke-width="0.65"/>
<line x1="392.50" y1="268.63" x2="451.00" y2="268.63" stroke="#555" stroke-width="0.8" stroke-dasharray="1.9 1.45"/>
<circle cx="433.93" cy="247.13" r="1.15" fill="none" stroke="#222" stroke-width="0.65"/>
<circle cx="420.56" cy="253.82" r="1.15" fill="none" stroke="#222" stroke-width="0.65"/>
<circle cx="424.17" cy="253.82" r="1.15" fill="none" stroke="#222" stroke-width="0.65"/>
<circle cx="426.34" cy="254.90" r="1.15" fill="none" stroke="#222" stroke-width="0.65"/>
<circle cx="429.05" cy="257.07" r="1.15" fill="none" stroke="#222" stroke-width="0.65"/>
<circle cx="430.86" cy="257.98" r="1.15" fill="none" stroke="#222" stroke-width="0.65"/>
<circle cx="433.57" cy="256.71" r="1.15" fill="none" stroke="#222" stroke-width="0.65"/>
<circle cx="438.09" cy="260.33" r="1.15" fill="none" stroke="#222" stroke-width="0.65"/>
<circle cx="424.53" cy="257.43" r="1.15" fill="none" stroke="#222" stroke-width="0.65"/>
<circle cx="423.63" cy="263.40" r="1.15" fill="none" stroke="#222" stroke-width="0.65"/>
<circle cx="426.34" cy="264.30" r="1.15" fill="none" stroke="#222" stroke-width="0.65"/>
<circle cx="422.72" cy="267.92" r="1.15" fill="none" stroke="#222" stroke-width="0.65"/>
<circle cx="424.53" cy="271.53" r="1.15" fill="none" stroke="#222" stroke-width="0.65"/>
<circle cx="427.24" cy="271.17" r="1.15" fill="none" stroke="#222" stroke-width="0.65"/>
<circle cx="425.44" cy="273.34" r="1.15" fill="none" stroke="#222" stroke-width="0.65"/>
<circle cx="425.44" cy="275.15" r="1.15" fill="none" stroke="#222" stroke-width="0.65"/>
<circle cx="421.82" cy="272.44" r="1.15" fill="none" stroke="#222" stroke-width="0.65"/>
<circle cx="433.93" cy="276.05" r="1.15" fill="none" stroke="#222" stroke-width="0.65"/>
<circle cx="446.22" cy="273.70" r="1.15" fill="none" stroke="#222" stroke-width="0.65"/>
<circle cx="447.12" cy="275.15" r="1.15" fill="none" stroke="#222" stroke-width="0.65"/>
<circle cx="447.12" cy="284.54" r="1.15" fill="none" stroke="#222" stroke-width="0.65"/>
<circle cx="414.59" cy="274.24" r="1.15" fill="none" stroke="#222" stroke-width="0.65"/>
<circle cx="415.50" cy="276.95" r="1.15" fill="none" stroke="#222" stroke-width="0.65"/>
<circle cx="411.88" cy="274.79" r="1.15" fill="none" stroke="#222" stroke-width="0.65"/>
<circle cx="409.17" cy="275.15" r="1.15" fill="none" stroke="#222" stroke-width="0.65"/>
<circle cx="402.84" cy="274.24" r="1.15" fill="none" stroke="#222" stroke-width="0.65"/>
<circle cx="400.13" cy="266.47" r="1.15" fill="none" stroke="#222" stroke-width="0.65"/>
<circle cx="407.36" cy="257.07" r="1.15" fill="none" stroke="#222" stroke-width="0.65"/>
<circle cx="411.88" cy="257.07" r="1.15" fill="none" stroke="#222" stroke-width="0.65"/>
<circle cx="414.59" cy="256.17" r="1.15" fill="none" stroke="#222" stroke-width="0.65"/>
<circle cx="406.65" cy="263.36" r="1.15" fill="none" stroke="#222" stroke-width="0.65"/>
<circle cx="410.59" cy="266.29" r="1.15" fill="none" stroke="#222" stroke-width="0.65"/>
<circle cx="413.62" cy="266.99" r="1.15" fill="none" stroke="#222" stroke-width="0.65"/>
<circle cx="406.60" cy="267.49" r="1.15" fill="none" stroke="#222" stroke-width="0.65"/>
<circle cx="417.26" cy="263.53" r="1.15" fill="none" stroke="#222" stroke-width="0.65"/>
<circle cx="414.38" cy="262.43" r="1.15" fill="none" stroke="#222" stroke-width="0.65"/>
<circle cx="405.44" cy="264.41" r="1.15" fill="none" stroke="#222" stroke-width="0.65"/>
<circle cx="409.81" cy="268.86" r="1.15" fill="none" stroke="#222" stroke-width="0.65"/>
<circle cx="413.18" cy="264.87" r="1.15" fill="none" stroke="#222" stroke-width="0.65"/>
<circle cx="415.82" cy="261.63" r="1.15" fill="none" stroke="#222" stroke-width="0.65"/>
<circle cx="417.31" cy="264.30" r="1.15" fill="none" stroke="#222" stroke-width="0.65"/>
<circle cx="403.43" cy="267.32" r="1.15" fill="none" stroke="#222" stroke-width="0.65"/>
<circle cx="415.25" cy="264.86" r="1.15" fill="none" stroke="#222" stroke-width="0.65"/>
<circle cx="420.81" cy="261.67" r="1.15" fill="none" stroke="#222" stroke-width="0.65"/>
<circle cx="415.15" cy="265.63" r="1.15" fill="none" stroke="#222" stroke-width="0.65"/>
<circle cx="407.23" cy="268.17" r="1.15" fill="none" stroke="#222" stroke-width="0.65"/>
<circle cx="402.97" cy="262.57" r="1.15" fill="none" stroke="#222" stroke-width="0.65"/>
<circle cx="414.41" cy="261.09" r="1.15" fill="none" stroke="#222" stroke-width="0.65"/>
<circle cx="410.50" cy="260.37" r="1.15" fill="none" stroke="#222" stroke-width="0.65"/>
<circle cx="411.79" cy="261.44" r="1.15" fill="none" stroke="#222" stroke-width="0.65"/>
<circle cx="413.18" cy="260.18" r="1.15" fill="none" stroke="#222" stroke-width="0.65"/>
<circle cx="414.34" cy="263.19" r="1.15" fill="none" stroke="#222" stroke-width="0.65"/>
<circle cx="412.22" cy="264.07" r="1.15" fill="none" stroke="#222" stroke-width="0.65"/>
<circle cx="412.06" cy="260.91" r="1.15" fill="none" stroke="#222" stroke-width="0.65"/>
<circle cx="406.30" cy="264.13" r="1.15" fill="none" stroke="#222" stroke-width="0.65"/>
<circle cx="407.23" cy="263.57" r="1.15" fill="none" stroke="#222" stroke-width="0.65"/>
<circle cx="405.94" cy="266.18" r="1.15" fill="none" stroke="#222" stroke-width="0.65"/>
<circle cx="410.72" cy="262.42" r="1.15" fill="none" stroke="#222" stroke-width="0.65"/>
<circle cx="406.57" cy="267.29" r="1.15" fill="none" stroke="#222" stroke-width="0.65"/>
<circle cx="408.34" cy="266.41" r="1.15" fill="none" stroke="#222" stroke-width="0.65"/>
<circle cx="413.64" cy="259.18" r="1.15" fill="none" stroke="#222" stroke-width="0.65"/>
<circle cx="405.65" cy="265.41" r="1.15" fill="none" stroke="#222" stroke-width="0.65"/>
<circle cx="414.19" cy="265.88" r="1.15" fill="none" stroke="#222" stroke-width="0.65"/>
<circle cx="416.94" cy="266.04" r="1.15" fill="none" stroke="#222" stroke-width="0.65"/>
<circle cx="409.64" cy="264.16" r="1.15" fill="none" stroke="#222" stroke-width="0.65"/>
<circle cx="416.16" cy="262.47" r="1.15" fill="none" stroke="#222" stroke-width="0.65"/>
<circle cx="417.27" cy="259.31" r="1.15" fill="none" stroke="#222" stroke-width="0.65"/>
<circle cx="415.56" cy="263.21" r="1.15" fill="none" stroke="#222" stroke-width="0.65"/>
<circle cx="413.68" cy="264.04" r="1.15" fill="none" stroke="#222" stroke-width="0.65"/>
<circle cx="405.49" cy="264.25" r="1.15" fill="none" stroke="#222" stroke-width="0.65"/>
<circle cx="420.21" cy="260.73" r="1.15" fill="none" stroke="#222" stroke-width="0.65"/>
<circle cx="404.92" cy="265.19" r="1.15" fill="none" stroke="#222" stroke-width="0.65"/>
<circle cx="409.22" cy="262.45" r="1.15" fill="none" stroke="#222" stroke-width="0.65"/>
<circle cx="407.50" cy="267.74" r="1.15" fill="none" stroke="#222" stroke-width="0.65"/>
<circle cx="408.28" cy="262.16" r="1.15" fill="none" stroke="#222" stroke-width="0.65"/>
<circle cx="416.65" cy="264.89" r="1.15" fill="none" stroke="#222" stroke-width="0.65"/>
<circle cx="406.21" cy="267.21" r="1.15" fill="none" stroke="#222" stroke-width="0.65"/>
<circle cx="418.25" cy="262.53" r="1.15" fill="none" stroke="#222" stroke-width="0.65"/>
<circle cx="404.62" cy="266.89" r="1.15" fill="none" stroke="#222" stroke-width="0.65"/>
<circle cx="417.14" cy="263.32" r="1.15" fill="none" stroke="#222" stroke-width="0.65"/>
<circle cx="401.34" cy="265.28" r="1.15" fill="none" stroke="#222" stroke-width="0.65"/>
<circle cx="414.62" cy="265.77" r="1.15" fill="none" stroke="#222" stroke-width="0.65"/>
<circle cx="422.43" cy="261.80" r="1.15" fill="none" stroke="#222" stroke-width="0.65"/>
<circle cx="409.09" cy="264.70" r="1.15" fill="none" stroke="#222" stroke-width="0.65"/>
<circle cx="418.41" cy="260.76" r="1.15" fill="none" stroke="#222" stroke-width="0.65"/>
<line x1="451.50" y1="268.63" x2="510.00" y2="268.63" stroke="#555" stroke-width="0.8" stroke-dasharray="1.9 1.45"/>
<circle cx="486.79" cy="248.94" r="1.15" fill="none" stroke="#222" stroke-width="0.65"/>
<circle cx="497.63" cy="250.75" r="1.15" fill="none" stroke="#222" stroke-width="0.65"/>
<circle cx="488.05" cy="256.17" r="1.15" fill="none" stroke="#222" stroke-width="0.65"/>
<circle cx="483.53" cy="262.13" r="1.15" fill="none" stroke="#222" stroke-width="0.65"/>
<circle cx="489.86" cy="264.30" r="1.15" fill="none" stroke="#222" stroke-width="0.65"/>
<circle cx="492.21" cy="260.33" r="1.15" fill="none" stroke="#222" stroke-width="0.65"/>
<circle cx="494.38" cy="261.59" r="1.15" fill="none" stroke="#222" stroke-width="0.65"/>
<circle cx="495.28" cy="267.01" r="1.15" fill="none" stroke="#222" stroke-width="0.65"/>
<circle cx="495.28" cy="270.09" r="1.15" fill="none" stroke="#222" stroke-width="0.65"/>
<circle cx="502.51" cy="267.01" r="1.15" fill="none" stroke="#222" stroke-width="0.65"/>
<circle cx="506.12" cy="276.05" r="1.15" fill="none" stroke="#222" stroke-width="0.65"/>
<circle cx="491.67" cy="280.21" r="1.15" fill="none" stroke="#222" stroke-width="0.65"/>
<circle cx="479.92" cy="281.47" r="1.15" fill="none" stroke="#222" stroke-width="0.65"/>
<circle cx="473.59" cy="280.57" r="1.15" fill="none" stroke="#222" stroke-width="0.65"/>
<circle cx="477.21" cy="277.32" r="1.15" fill="none" stroke="#222" stroke-width="0.65"/>
<circle cx="484.44" cy="273.34" r="1.15" fill="none" stroke="#222" stroke-width="0.65"/>
<circle cx="488.05" cy="268.82" r="1.15" fill="none" stroke="#222" stroke-width="0.65"/>
<circle cx="486.24" cy="270.63" r="1.15" fill="none" stroke="#222" stroke-width="0.65"/>
<circle cx="474.50" cy="259.24" r="1.15" fill="none" stroke="#222" stroke-width="0.65"/>
<circle cx="477.21" cy="259.24" r="1.15" fill="none" stroke="#222" stroke-width="0.65"/>
<circle cx="479.01" cy="260.33" r="1.15" fill="none" stroke="#222" stroke-width="0.65"/>
<circle cx="458.23" cy="270.63" r="1.15" fill="none" stroke="#222" stroke-width="0.65"/>
<circle cx="461.84" cy="261.59" r="1.15" fill="none" stroke="#222" stroke-width="0.65"/>
<circle cx="465.46" cy="262.50" r="1.15" fill="none" stroke="#222" stroke-width="0.65"/>
<circle cx="468.17" cy="261.59" r="1.15" fill="none" stroke="#222" stroke-width="0.65"/>
<circle cx="469.98" cy="271.89" r="1.15" fill="none" stroke="#222" stroke-width="0.65"/>
<circle cx="473.59" cy="271.89" r="1.15" fill="none" stroke="#222" stroke-width="0.65"/>
<circle cx="474.91" cy="263.98" r="1.15" fill="none" stroke="#222" stroke-width="0.65"/>
<circle cx="473.05" cy="267.57" r="1.15" fill="none" stroke="#222" stroke-width="0.65"/>
<circle cx="462.42" cy="266.55" r="1.15" fill="none" stroke="#222" stroke-width="0.65"/>
<circle cx="471.64" cy="267.44" r="1.15" fill="none" stroke="#222" stroke-width="0.65"/>
<circle cx="463.84" cy="264.16" r="1.15" fill="none" stroke="#222" stroke-width="0.65"/>
<circle cx="468.70" cy="265.66" r="1.15" fill="none" stroke="#222" stroke-width="0.65"/>
<circle cx="460.66" cy="269.26" r="1.15" fill="none" stroke="#222" stroke-width="0.65"/>
<circle cx="466.88" cy="269.99" r="1.15" fill="none" stroke="#222" stroke-width="0.65"/>
<circle cx="475.41" cy="265.69" r="1.15" fill="none" stroke="#222" stroke-width="0.65"/>
<circle cx="474.37" cy="262.93" r="1.15" fill="none" stroke="#222" stroke-width="0.65"/>
<circle cx="467.78" cy="264.86" r="1.15" fill="none" stroke="#222" stroke-width="0.65"/>
<circle cx="461.89" cy="266.86" r="1.15" fill="none" stroke="#222" stroke-width="0.65"/>
<circle cx="469.37" cy="269.77" r="1.15" fill="none" stroke="#222" stroke-width="0.65"/>
<circle cx="464.02" cy="265.46" r="1.15" fill="none" stroke="#222" stroke-width="0.65"/>
<circle cx="472.75" cy="266.88" r="1.15" fill="none" stroke="#222" stroke-width="0.65"/>
<circle cx="470.05" cy="264.91" r="1.15" fill="none" stroke="#222" stroke-width="0.65"/>
<circle cx="473.21" cy="266.73" r="1.15" fill="none" stroke="#222" stroke-width="0.65"/>
<circle cx="458.18" cy="266.48" r="1.15" fill="none" stroke="#222" stroke-width="0.65"/>
<circle cx="460.96" cy="263.93" r="1.15" fill="none" stroke="#222" stroke-width="0.65"/>
<circle cx="470.92" cy="266.18" r="1.15" fill="none" stroke="#222" stroke-width="0.65"/>
<circle cx="470.51" cy="263.86" r="1.15" fill="none" stroke="#222" stroke-width="0.65"/>
<circle cx="468.50" cy="263.95" r="1.15" fill="none" stroke="#222" stroke-width="0.65"/>
<circle cx="472.56" cy="267.61" r="1.15" fill="none" stroke="#222" stroke-width="0.65"/>
<circle cx="464.75" cy="265.42" r="1.15" fill="none" stroke="#222" stroke-width="0.65"/>
<circle cx="464.06" cy="267.40" r="1.15" fill="none" stroke="#222" stroke-width="0.65"/>
<circle cx="461.85" cy="268.11" r="1.15" fill="none" stroke="#222" stroke-width="0.65"/>
<circle cx="470.05" cy="266.86" r="1.15" fill="none" stroke="#222" stroke-width="0.65"/>
<circle cx="481.15" cy="263.06" r="1.15" fill="none" stroke="#222" stroke-width="0.65"/>
<circle cx="471.99" cy="263.98" r="1.15" fill="none" stroke="#222" stroke-width="0.65"/>
<circle cx="470.47" cy="268.56" r="1.15" fill="none" stroke="#222" stroke-width="0.65"/>
<circle cx="468.94" cy="264.46" r="1.15" fill="none" stroke="#222" stroke-width="0.65"/>
<circle cx="458.77" cy="267.53" r="1.15" fill="none" stroke="#222" stroke-width="0.65"/>
<circle cx="470.27" cy="267.63" r="1.15" fill="none" stroke="#222" stroke-width="0.65"/>
<circle cx="467.51" cy="267.58" r="1.15" fill="none" stroke="#222" stroke-width="0.65"/>
<circle cx="475.14" cy="265.29" r="1.15" fill="none" stroke="#222" stroke-width="0.65"/>
<circle cx="467.02" cy="265.90" r="1.15" fill="none" stroke="#222" stroke-width="0.65"/>
<circle cx="463.78" cy="266.13" r="1.15" fill="none" stroke="#222" stroke-width="0.65"/>
<circle cx="468.10" cy="266.80" r="1.15" fill="none" stroke="#222" stroke-width="0.65"/>
<circle cx="478.77" cy="268.63" r="1.15" fill="none" stroke="#222" stroke-width="0.65"/>
<circle cx="467.27" cy="267.86" r="1.15" fill="none" stroke="#222" stroke-width="0.65"/>
<circle cx="472.02" cy="267.84" r="1.15" fill="none" stroke="#222" stroke-width="0.65"/>
<circle cx="470.17" cy="266.76" r="1.15" fill="none" stroke="#222" stroke-width="0.65"/>
<circle cx="466.82" cy="264.42" r="1.15" fill="none" stroke="#222" stroke-width="0.65"/>
<circle cx="475.82" cy="268.86" r="1.15" fill="none" stroke="#222" stroke-width="0.65"/>
<circle cx="474.29" cy="266.83" r="1.15" fill="none" stroke="#222" stroke-width="0.65"/>
<circle cx="471.57" cy="264.84" r="1.15" fill="none" stroke="#222" stroke-width="0.65"/>
<circle cx="458.76" cy="268.76" r="1.15" fill="none" stroke="#222" stroke-width="0.65"/>
<circle cx="471.13" cy="264.62" r="1.15" fill="none" stroke="#222" stroke-width="0.65"/>
<circle cx="464.11" cy="269.83" r="1.15" fill="none" stroke="#222" stroke-width="0.65"/>
<circle cx="465.40" cy="266.46" r="1.15" fill="none" stroke="#222" stroke-width="0.65"/>
<circle cx="466.78" cy="266.78" r="1.15" fill="none" stroke="#222" stroke-width="0.65"/>
<circle cx="468.48" cy="264.36" r="1.15" fill="none" stroke="#222" stroke-width="0.65"/>
<circle cx="476.65" cy="263.55" r="1.15" fill="none" stroke="#222" stroke-width="0.65"/>
<circle cx="466.86" cy="267.78" r="1.15" fill="none" stroke="#222" stroke-width="0.65"/>
<circle cx="466.46" cy="265.33" r="1.15" fill="none" stroke="#222" stroke-width="0.65"/>
<line x1="510.50" y1="268.63" x2="569.00" y2="268.63" stroke="#555" stroke-width="0.8" stroke-dasharray="1.9 1.45"/>
<circle cx="535.30" cy="249.48" r="1.15" fill="none" stroke="#222" stroke-width="0.65"/>
<circle cx="542.89" cy="247.13" r="1.15" fill="none" stroke="#222" stroke-width="0.65"/>
<circle cx="550.12" cy="252.56" r="1.15" fill="none" stroke="#222" stroke-width="0.65"/>
<circle cx="548.86" cy="257.98" r="1.15" fill="none" stroke="#222" stroke-width="0.65"/>
<circle cx="551.21" cy="258.52" r="1.15" fill="none" stroke="#222" stroke-width="0.65"/>
<circle cx="552.47" cy="261.05" r="1.15" fill="none" stroke="#222" stroke-width="0.65"/>
<circle cx="565.12" cy="259.78" r="1.15" fill="none" stroke="#222" stroke-width="0.65"/>
<circle cx="541.63" cy="257.43" r="1.15" fill="none" stroke="#222" stroke-width="0.65"/>
<circle cx="543.44" cy="257.43" r="1.15" fill="none" stroke="#222" stroke-width="0.65"/>
<circle cx="537.11" cy="257.07" r="1.15" fill="none" stroke="#222" stroke-width="0.65"/>
<circle cx="528.07" cy="254.36" r="1.15" fill="none" stroke="#222" stroke-width="0.65"/>
<circle cx="533.50" cy="256.17" r="1.15" fill="none" stroke="#222" stroke-width="0.65"/>
<circle cx="531.69" cy="257.98" r="1.15" fill="none" stroke="#222" stroke-width="0.65"/>
<circle cx="546.15" cy="266.11" r="1.15" fill="none" stroke="#222" stroke-width="0.65"/>
<circle cx="543.44" cy="267.92" r="1.15" fill="none" stroke="#222" stroke-width="0.65"/>
<circle cx="542.53" cy="269.36" r="1.15" fill="none" stroke="#222" stroke-width="0.65"/>
<circle cx="544.34" cy="269.72" r="1.15" fill="none" stroke="#222" stroke-width="0.65"/>
<circle cx="557.89" cy="267.56" r="1.15" fill="none" stroke="#222" stroke-width="0.65"/>
<circle cx="562.05" cy="274.24" r="1.15" fill="none" stroke="#222" stroke-width="0.65"/>
<circle cx="532.59" cy="273.70" r="1.15" fill="none" stroke="#222" stroke-width="0.65"/>
<circle cx="537.11" cy="269.72" r="1.15" fill="none" stroke="#222" stroke-width="0.65"/>
<circle cx="538.01" cy="270.63" r="1.15" fill="none" stroke="#222" stroke-width="0.65"/>
<circle cx="515.42" cy="267.92" r="1.15" fill="none" stroke="#222" stroke-width="0.65"/>
<circle cx="523.56" cy="270.63" r="1.15" fill="none" stroke="#222" stroke-width="0.65"/>
<circle cx="529.83" cy="262.85" r="1.15" fill="none" stroke="#222" stroke-width="0.65"/>
<circle cx="521.19" cy="265.20" r="1.15" fill="none" stroke="#222" stroke-width="0.65"/>
<circle cx="527.77" cy="269.65" r="1.15" fill="none" stroke="#222" stroke-width="0.65"/>
<circle cx="522.58" cy="268.28" r="1.15" fill="none" stroke="#222" stroke-width="0.65"/>
<circle cx="523.58" cy="263.99" r="1.15" fill="none" stroke="#222" stroke-width="0.65"/>
<circle cx="526.43" cy="265.43" r="1.15" fill="none" stroke="#222" stroke-width="0.65"/>
<circle cx="533.73" cy="268.74" r="1.15" fill="none" stroke="#222" stroke-width="0.65"/>
<circle cx="525.29" cy="268.92" r="1.15" fill="none" stroke="#222" stroke-width="0.65"/>
<circle cx="533.96" cy="265.79" r="1.15" fill="none" stroke="#222" stroke-width="0.65"/>
<circle cx="524.39" cy="267.75" r="1.15" fill="none" stroke="#222" stroke-width="0.65"/>
<circle cx="527.67" cy="265.47" r="1.15" fill="none" stroke="#222" stroke-width="0.65"/>
<circle cx="526.95" cy="266.56" r="1.15" fill="none" stroke="#222" stroke-width="0.65"/>
<circle cx="534.78" cy="266.63" r="1.15" fill="none" stroke="#222" stroke-width="0.65"/>
<circle cx="527.48" cy="267.50" r="1.15" fill="none" stroke="#222" stroke-width="0.65"/>
<circle cx="535.53" cy="260.08" r="1.15" fill="none" stroke="#222" stroke-width="0.65"/>
<circle cx="535.43" cy="258.86" r="1.15" fill="none" stroke="#222" stroke-width="0.65"/>
<circle cx="531.36" cy="265.57" r="1.15" fill="none" stroke="#222" stroke-width="0.65"/>
<circle cx="536.34" cy="263.71" r="1.15" fill="none" stroke="#222" stroke-width="0.65"/>
<circle cx="525.02" cy="262.37" r="1.15" fill="none" stroke="#222" stroke-width="0.65"/>
<circle cx="521.63" cy="267.82" r="1.15" fill="none" stroke="#222" stroke-width="0.65"/>
<circle cx="526.39" cy="262.37" r="1.15" fill="none" stroke="#222" stroke-width="0.65"/>
<circle cx="530.58" cy="261.49" r="1.15" fill="none" stroke="#222" stroke-width="0.65"/>
<circle cx="525.44" cy="263.34" r="1.15" fill="none" stroke="#222" stroke-width="0.65"/>
<circle cx="526.37" cy="259.72" r="1.15" fill="none" stroke="#222" stroke-width="0.65"/>
<circle cx="529.63" cy="264.25" r="1.15" fill="none" stroke="#222" stroke-width="0.65"/>
<circle cx="530.28" cy="265.67" r="1.15" fill="none" stroke="#222" stroke-width="0.65"/>
<circle cx="526.81" cy="267.40" r="1.15" fill="none" stroke="#222" stroke-width="0.65"/>
<circle cx="532.77" cy="264.13" r="1.15" fill="none" stroke="#222" stroke-width="0.65"/>
<circle cx="525.59" cy="263.25" r="1.15" fill="none" stroke="#222" stroke-width="0.65"/>
<circle cx="531.28" cy="260.32" r="1.15" fill="none" stroke="#222" stroke-width="0.65"/>
<circle cx="526.80" cy="262.20" r="1.15" fill="none" stroke="#222" stroke-width="0.65"/>
<circle cx="520.76" cy="267.47" r="1.15" fill="none" stroke="#222" stroke-width="0.65"/>
<circle cx="527.95" cy="264.44" r="1.15" fill="none" stroke="#222" stroke-width="0.65"/>
<circle cx="532.07" cy="258.96" r="1.15" fill="none" stroke="#222" stroke-width="0.65"/>
<circle cx="527.86" cy="265.24" r="1.15" fill="none" stroke="#222" stroke-width="0.65"/>
<circle cx="532.06" cy="260.23" r="1.15" fill="none" stroke="#222" stroke-width="0.65"/>
<circle cx="532.11" cy="264.27" r="1.15" fill="none" stroke="#222" stroke-width="0.65"/>
<circle cx="536.10" cy="266.42" r="1.15" fill="none" stroke="#222" stroke-width="0.65"/>
<circle cx="527.84" cy="263.03" r="1.15" fill="none" stroke="#222" stroke-width="0.65"/>
<circle cx="525.71" cy="261.80" r="1.15" fill="none" stroke="#222" stroke-width="0.65"/>
<circle cx="526.92" cy="258.67" r="1.15" fill="none" stroke="#222" stroke-width="0.65"/>
<circle cx="527.84" cy="265.67" r="1.15" fill="none" stroke="#222" stroke-width="0.65"/>
<circle cx="533.32" cy="262.30" r="1.15" fill="none" stroke="#222" stroke-width="0.65"/>
<circle cx="535.33" cy="261.00" r="1.15" fill="none" stroke="#222" stroke-width="0.65"/>
<circle cx="526.34" cy="258.78" r="1.15" fill="none" stroke="#222" stroke-width="0.65"/>
<circle cx="523.48" cy="262.65" r="1.15" fill="none" stroke="#222" stroke-width="0.65"/>
<circle cx="536.34" cy="264.45" r="1.15" fill="none" stroke="#222" stroke-width="0.65"/>
<circle cx="522.44" cy="266.91" r="1.15" fill="none" stroke="#222" stroke-width="0.65"/>
<circle cx="530.53" cy="263.16" r="1.15" fill="none" stroke="#222" stroke-width="0.65"/>
<circle cx="528.04" cy="263.38" r="1.15" fill="none" stroke="#222" stroke-width="0.65"/>
<circle cx="524.25" cy="259.60" r="1.15" fill="none" stroke="#222" stroke-width="0.65"/>
<circle cx="528.26" cy="268.17" r="1.15" fill="none" stroke="#222" stroke-width="0.65"/>
<circle cx="535.59" cy="262.13" r="1.15" fill="none" stroke="#222" stroke-width="0.65"/>
<circle cx="523.97" cy="264.38" r="1.15" fill="none" stroke="#222" stroke-width="0.65"/>
<circle cx="533.06" cy="264.49" r="1.15" fill="none" stroke="#222" stroke-width="0.65"/>
<line x1="570.50" y1="268.63" x2="629.00" y2="268.63" stroke="#555" stroke-width="0.8" stroke-dasharray="1.9 1.45"/>
<circle cx="613.38" cy="247.68" r="1.15" fill="none" stroke="#222" stroke-width="0.65"/>
<circle cx="608.86" cy="253.82" r="1.15" fill="none" stroke="#222" stroke-width="0.65"/>
<circle cx="599.82" cy="254.90" r="1.15" fill="none" stroke="#222" stroke-width="0.65"/>
<circle cx="603.44" cy="257.98" r="1.15" fill="none" stroke="#222" stroke-width="0.65"/>
<circle cx="602.17" cy="259.24" r="1.15" fill="none" stroke="#222" stroke-width="0.65"/>
<circle cx="607.95" cy="257.07" r="1.15" fill="none" stroke="#222" stroke-width="0.65"/>
<circle cx="610.67" cy="258.88" r="1.15" fill="none" stroke="#222" stroke-width="0.65"/>
<circle cx="611.57" cy="260.69" r="1.15" fill="none" stroke="#222" stroke-width="0.65"/>
<circle cx="610.12" cy="262.50" r="1.15" fill="none" stroke="#222" stroke-width="0.65"/>
<circle cx="617.35" cy="261.05" r="1.15" fill="none" stroke="#222" stroke-width="0.65"/>
<circle cx="615.54" cy="265.75" r="1.15" fill="none" stroke="#222" stroke-width="0.65"/>
<circle cx="596.21" cy="269.36" r="1.15" fill="none" stroke="#222" stroke-width="0.65"/>
<circle cx="598.01" cy="270.63" r="1.15" fill="none" stroke="#222" stroke-width="0.65"/>
<circle cx="598.92" cy="270.09" r="1.15" fill="none" stroke="#222" stroke-width="0.65"/>
<circle cx="575.42" cy="267.92" r="1.15" fill="none" stroke="#222" stroke-width="0.65"/>
<circle cx="577.23" cy="267.56" r="1.15" fill="none" stroke="#222" stroke-width="0.65"/>
<circle cx="593.50" cy="257.07" r="1.15" fill="none" stroke="#222" stroke-width="0.65"/>
<circle cx="592.59" cy="257.98" r="1.15" fill="none" stroke="#222" stroke-width="0.65"/>
<circle cx="583.71" cy="265.72" r="1.15" fill="none" stroke="#222" stroke-width="0.65"/>
<circle cx="586.51" cy="264.70" r="1.15" fill="none" stroke="#222" stroke-width="0.65"/>
<circle cx="583.97" cy="262.88" r="1.15" fill="none" stroke="#222" stroke-width="0.65"/>
<circle cx="588.55" cy="264.16" r="1.15" fill="none" stroke="#222" stroke-width="0.65"/>
<circle cx="579.70" cy="266.81" r="1.15" fill="none" stroke="#222" stroke-width="0.65"/>
<circle cx="593.81" cy="260.13" r="1.15" fill="none" stroke="#222" stroke-width="0.65"/>
<circle cx="594.24" cy="262.02" r="1.15" fill="none" stroke="#222" stroke-width="0.65"/>
<circle cx="581.82" cy="268.44" r="1.15" fill="none" stroke="#222" stroke-width="0.65"/>
<circle cx="575.54" cy="268.05" r="1.15" fill="none" stroke="#222" stroke-width="0.65"/>
<circle cx="593.75" cy="262.68" r="1.15" fill="none" stroke="#222" stroke-width="0.65"/>
<circle cx="580.68" cy="265.55" r="1.15" fill="none" stroke="#222" stroke-width="0.65"/>
<circle cx="588.06" cy="260.39" r="1.15" fill="none" stroke="#222" stroke-width="0.65"/>
<circle cx="592.60" cy="262.05" r="1.15" fill="none" stroke="#222" stroke-width="0.65"/>
<circle cx="584.80" cy="265.49" r="1.15" fill="none" stroke="#222" stroke-width="0.65"/>
<circle cx="593.44" cy="261.31" r="1.15" fill="none" stroke="#222" stroke-width="0.65"/>
<circle cx="592.28" cy="263.60" r="1.15" fill="none" stroke="#222" stroke-width="0.65"/>
<circle cx="584.38" cy="265.12" r="1.15" fill="none" stroke="#222" stroke-width="0.65"/>
<circle cx="584.54" cy="266.34" r="1.15" fill="none" stroke="#222" stroke-width="0.65"/>
<circle cx="585.06" cy="265.28" r="1.15" fill="none" stroke="#222" stroke-width="0.65"/>
<circle cx="588.73" cy="263.05" r="1.15" fill="none" stroke="#222" stroke-width="0.65"/>
<circle cx="599.92" cy="257.84" r="1.15" fill="none" stroke="#222" stroke-width="0.65"/>
<circle cx="598.28" cy="259.91" r="1.15" fill="none" stroke="#222" stroke-width="0.65"/>
<circle cx="597.04" cy="259.00" r="1.15" fill="none" stroke="#222" stroke-width="0.65"/>
<circle cx="594.74" cy="261.38" r="1.15" fill="none" stroke="#222" stroke-width="0.65"/>
<circle cx="583.48" cy="265.68" r="1.15" fill="none" stroke="#222" stroke-width="0.65"/>
<circle cx="586.78" cy="263.76" r="1.15" fill="none" stroke="#222" stroke-width="0.65"/>
<circle cx="596.59" cy="258.39" r="1.15" fill="none" stroke="#222" stroke-width="0.65"/>
<circle cx="584.14" cy="264.04" r="1.15" fill="none" stroke="#222" stroke-width="0.65"/>
<circle cx="588.12" cy="264.05" r="1.15" fill="none" stroke="#222" stroke-width="0.65"/>
<circle cx="600.40" cy="258.20" r="1.15" fill="none" stroke="#222" stroke-width="0.65"/>
<circle cx="590.61" cy="261.03" r="1.15" fill="none" stroke="#222" stroke-width="0.65"/>
<circle cx="592.58" cy="263.23" r="1.15" fill="none" stroke="#222" stroke-width="0.65"/>
<circle cx="594.90" cy="262.52" r="1.15" fill="none" stroke="#222" stroke-width="0.65"/>
<circle cx="592.77" cy="258.95" r="1.15" fill="none" stroke="#222" stroke-width="0.65"/>
<circle cx="585.85" cy="265.09" r="1.15" fill="none" stroke="#222" stroke-width="0.65"/>
<circle cx="590.22" cy="261.09" r="1.15" fill="none" stroke="#222" stroke-width="0.65"/>
<circle cx="581.92" cy="267.39" r="1.15" fill="none" stroke="#222" stroke-width="0.65"/>
<circle cx="579.02" cy="269.37" r="1.15" fill="none" stroke="#222" stroke-width="0.65"/>
<circle cx="588.02" cy="263.70" r="1.15" fill="none" stroke="#222" stroke-width="0.65"/>
<circle cx="577.93" cy="266.88" r="1.15" fill="none" stroke="#222" stroke-width="0.65"/>
<circle cx="591.80" cy="259.42" r="1.15" fill="none" stroke="#222" stroke-width="0.65"/>
<circle cx="579.07" cy="267.31" r="1.15" fill="none" stroke="#222" stroke-width="0.65"/>
<circle cx="591.52" cy="262.78" r="1.15" fill="none" stroke="#222" stroke-width="0.65"/>
<circle cx="584.97" cy="264.32" r="1.15" fill="none" stroke="#222" stroke-width="0.65"/>
<circle cx="585.73" cy="263.44" r="1.15" fill="none" stroke="#222" stroke-width="0.65"/>
<circle cx="589.58" cy="262.80" r="1.15" fill="none" stroke="#222" stroke-width="0.65"/>
<circle cx="583.40" cy="265.69" r="1.15" fill="none" stroke="#222" stroke-width="0.65"/>
<circle cx="587.58" cy="263.35" r="1.15" fill="none" stroke="#222" stroke-width="0.65"/>
<circle cx="594.60" cy="257.81" r="1.15" fill="none" stroke="#222" stroke-width="0.65"/>
<circle cx="588.92" cy="261.30" r="1.15" fill="none" stroke="#222" stroke-width="0.65"/>
<circle cx="586.28" cy="266.23" r="1.15" fill="none" stroke="#222" stroke-width="0.65"/>
<circle cx="579.99" cy="266.69" r="1.15" fill="none" stroke="#222" stroke-width="0.65"/>
<circle cx="584.04" cy="266.42" r="1.15" fill="none" stroke="#222" stroke-width="0.65"/>
<circle cx="579.87" cy="264.43" r="1.15" fill="none" stroke="#222" stroke-width="0.65"/>
<circle cx="591.16" cy="261.35" r="1.15" fill="none" stroke="#222" stroke-width="0.65"/>
<line x1="31.50" y1="-0.50" x2="31.50" y2="299.10" stroke="#909090" stroke-width="1.6"/>
<line x1="91.34" y1="-0.50" x2="91.34" y2="299.10" stroke="#909090" stroke-width="1.6"/>
<line x1="151.18" y1="-0.50" x2="151.18" y2="299.10" stroke="#909090" stroke-width="1.6"/>
<line x1="211.02" y1="-0.50" x2="211.02" y2="299.10" stroke="#909090" stroke-width="1.6"/>
<line x1="270.86" y1="-0.50" x2="270.86" y2="299.10" stroke="#909090" stroke-width="1.6"/>
<line x1="330.70" y1="-0.50" x2="330.70" y2="299.10" stroke="#909090" stroke-width="1.6"/>
<line x1="30.70" y1="0.30" x2="331.50" y2="0.30" stroke="#909090" stroke-width="1.6"/>
<line x1="30.70" y1="59.90" x2="331.50" y2="59.90" stroke="#909090" stroke-width="1.6"/>
<line x1="30.70" y1="119.50" x2="331.50" y2="119.50" stroke="#909090" stroke-width="1.6"/>
<line x1="30.70" y1="179.10" x2="331.50" y2="179.10" stroke="#909090" stroke-width="1.6"/>
<line x1="30.70" y1="238.70" x2="331.50" y2="238.70" stroke="#909090" stroke-width="1.6"/>
<line x1="30.70" y1="298.30" x2="331.50" y2="298.30" stroke="#909090" stroke-width="1.6"/>
<line x1="392.30" y1="0.50" x2="392.30" y2="300.00" stroke="#909090" stroke-width="1.6"/>
<line x1="451.48" y1="0.50" x2="451.48" y2="300.00" stroke="#909090" stroke-width="1.6"/>
<line x1="510.66" y1="0.50" x2="510.66" y2="300.00" stroke="#909090" stroke-width="1.6"/>
<line x1="569.84" y1="0.50" x2="569.84" y2="300.00" stroke="#909090" stroke-width="1.6"/>
<line x1="629.02" y1="0.50" x2="629.02" y2="300.00" stroke="#909090" stroke-width="1.6"/>
<line x1="688.20" y1="0.50" x2="688.20" y2="300.00" stroke="#909090" stroke-width="1.6"/>
<line x1="391.50" y1="1.30" x2="689.00" y2="1.30" stroke="#909090" stroke-width="1.6"/>
<line x1="391.50" y1="60.88" x2="689.00" y2="60.88" stroke="#909090" stroke-width="1.6"/>
<line x1="391.50" y1="120.46" x2="689.00" y2="120.46" stroke="#909090" stroke-width="1.6"/>
<line x1="391.50" y1="180.04" x2="689.00" y2="180.04" stroke="#909090" stroke-width="1.6"/>
<line x1="391.50" y1="239.62" x2="689.00" y2="239.62" stroke="#909090" stroke-width="1.6"/>
<line x1="391.50" y1="299.20" x2="689.00" y2="299.20" stroke="#909090" stroke-width="1.6"/>
<text transform="translate(59.22,32.97) scale(0.860,1)" font-size="10.8" text-anchor="middle" font-weight="normal" fill="#1a1a1a" stroke="#1a1a1a" stroke-width="0.22">Site 1</text>
<text transform="translate(121.26,26.37) scale(0.890,1)" font-size="10.8" text-anchor="middle" font-weight="normal" fill="#1a1a1a" stroke="#1a1a1a" stroke-width="0.22">0.39</text>
<text transform="translate(121.26,39.57) scale(0.890,1)" font-size="10.8" text-anchor="middle" font-weight="normal" fill="#1a1a1a" stroke="#1a1a1a" stroke-width="0.22">(0.20–0.54)</text>
<text transform="translate(181.10,26.37) scale(0.890,1)" font-size="10.8" text-anchor="middle" font-weight="normal" fill="#1a1a1a" stroke="#1a1a1a" stroke-width="0.22">0.35</text>
<text transform="translate(181.10,39.57) scale(0.890,1)" font-size="10.8" text-anchor="middle" font-weight="normal" fill="#1a1a1a" stroke="#1a1a1a" stroke-width="0.22">(0.16–0.51)</text>
<text transform="translate(240.94,26.37) scale(0.890,1)" font-size="10.8" text-anchor="middle" font-weight="normal" fill="#1a1a1a" stroke="#1a1a1a" stroke-width="0.22">0.46</text>
<text transform="translate(240.94,39.57) scale(0.890,1)" font-size="10.8" text-anchor="middle" font-weight="normal" fill="#1a1a1a" stroke="#1a1a1a" stroke-width="0.22">(0.28–0.60)</text>
<text transform="translate(300.78,26.37) scale(0.890,1)" font-size="10.8" text-anchor="middle" font-weight="normal" fill="#1a1a1a" stroke="#1a1a1a" stroke-width="0.22">0.56</text>
<text transform="translate(300.78,39.57) scale(0.890,1)" font-size="10.8" text-anchor="middle" font-weight="normal" fill="#1a1a1a" stroke="#1a1a1a" stroke-width="0.22">(0.40–0.68)</text>
<text transform="translate(121.26,90.57) scale(0.860,1)" font-size="10.8" text-anchor="middle" font-weight="normal" fill="#1a1a1a" stroke="#1a1a1a" stroke-width="0.22">Site 2</text>
<text transform="translate(181.10,84.87) scale(0.890,1)" font-size="10.8" text-anchor="middle" font-weight="normal" fill="#1a1a1a" stroke="#1a1a1a" stroke-width="0.22">0.40</text>
<text transform="translate(181.10,98.07) scale(0.890,1)" font-size="10.8" text-anchor="middle" font-weight="normal" fill="#1a1a1a" stroke="#1a1a1a" stroke-width="0.22">(0.22–0.55)</text>
<text transform="translate(240.94,84.87) scale(0.890,1)" font-size="10.8" text-anchor="middle" font-weight="normal" fill="#1a1a1a" stroke="#1a1a1a" stroke-width="0.22">0.56</text>
<text transform="translate(240.94,98.07) scale(0.890,1)" font-size="10.8" text-anchor="middle" font-weight="normal" fill="#1a1a1a" stroke="#1a1a1a" stroke-width="0.22">(0.41–0.68)</text>
<text transform="translate(300.78,84.87) scale(0.890,1)" font-size="10.8" text-anchor="middle" font-weight="normal" fill="#1a1a1a" stroke="#1a1a1a" stroke-width="0.22">0.64</text>
<text transform="translate(300.78,98.07) scale(0.890,1)" font-size="10.8" text-anchor="middle" font-weight="normal" fill="#1a1a1a" stroke="#1a1a1a" stroke-width="0.22">(0.51–0.75)</text>
<text transform="translate(181.10,150.17) scale(0.860,1)" font-size="10.8" text-anchor="middle" font-weight="normal" fill="#1a1a1a" stroke="#1a1a1a" stroke-width="0.22">Site 3</text>
<text transform="translate(240.94,144.47) scale(0.890,1)" font-size="10.8" text-anchor="middle" font-weight="normal" fill="#1a1a1a" stroke="#1a1a1a" stroke-width="0.22">0.52</text>
<text transform="translate(240.94,157.67) scale(0.890,1)" font-size="10.8" text-anchor="middle" font-weight="normal" fill="#1a1a1a" stroke="#1a1a1a" stroke-width="0.22">(0.35–0.65)</text>
<text transform="translate(300.78,144.47) scale(0.890,1)" font-size="10.8" text-anchor="middle" font-weight="normal" fill="#1a1a1a" stroke="#1a1a1a" stroke-width="0.22">0.60</text>
<text transform="translate(300.78,157.67) scale(0.890,1)" font-size="10.8" text-anchor="middle" font-weight="normal" fill="#1a1a1a" stroke="#1a1a1a" stroke-width="0.22">(0.45–0.71)</text>
<text transform="translate(240.94,209.77) scale(0.860,1)" font-size="10.8" text-anchor="middle" font-weight="normal" fill="#1a1a1a" stroke="#1a1a1a" stroke-width="0.22">Site 4</text>
<text transform="translate(300.78,204.07) scale(0.890,1)" font-size="10.8" text-anchor="middle" font-weight="normal" fill="#1a1a1a" stroke="#1a1a1a" stroke-width="0.22">0.73</text>
<text transform="translate(300.78,217.27) scale(0.890,1)" font-size="10.8" text-anchor="middle" font-weight="normal" fill="#1a1a1a" stroke="#1a1a1a" stroke-width="0.22">(0.62–0.81)</text>
<text transform="translate(300.78,258.97) scale(0.860,1)" font-size="10.8" text-anchor="middle" font-weight="normal" fill="#1a1a1a" stroke="#1a1a1a" stroke-width="0.22">Expert</text>
<text transform="translate(300.78,272.17) scale(0.860,1)" font-size="10.8" text-anchor="middle" font-weight="normal" fill="#1a1a1a" stroke="#1a1a1a" stroke-width="0.22">Reviewed</text>
<text transform="translate(300.78,285.37) scale(0.860,1)" font-size="10.8" text-anchor="middle" font-weight="normal" fill="#1a1a1a" stroke="#1a1a1a" stroke-width="0.22">Somnolyzer</text>
<text transform="translate(418.89,33.06) scale(0.860,1)" font-size="10.8" text-anchor="middle" font-weight="normal" fill="#1a1a1a" stroke="#1a1a1a" stroke-width="0.22">Site 1</text>
<text transform="translate(481.07,26.46) scale(0.855,1)" font-size="10.8" text-anchor="middle" font-weight="normal" fill="#1a1a1a" stroke="#1a1a1a" stroke-width="0.22">2.7</text>
<text transform="translate(481.07,39.66) scale(0.855,1)" font-size="10.8" text-anchor="middle" font-weight="normal" fill="#1a1a1a" stroke="#1a1a1a" stroke-width="0.22">(−20.2–25.6)</text>
<text transform="translate(541.75,26.46) scale(0.855,1)" font-size="10.8" text-anchor="middle" font-weight="normal" fill="#1a1a1a" stroke="#1a1a1a" stroke-width="0.22">−3.09</text>
<text transform="translate(541.75,39.66) scale(0.855,1)" font-size="10.8" text-anchor="middle" font-weight="normal" fill="#1a1a1a" stroke="#1a1a1a" stroke-width="0.22">(−24.9–19.0)</text>
<text transform="translate(600.93,26.46) scale(0.855,1)" font-size="10.8" text-anchor="middle" font-weight="normal" fill="#1a1a1a" stroke="#1a1a1a" stroke-width="0.22">−2.8</text>
<text transform="translate(600.93,39.66) scale(0.855,1)" font-size="10.8" text-anchor="middle" font-weight="normal" fill="#1a1a1a" stroke="#1a1a1a" stroke-width="0.22">(−20.4–14.8)</text>
<text transform="translate(660.11,26.46) scale(0.855,1)" font-size="10.8" text-anchor="middle" font-weight="normal" fill="#1a1a1a" stroke="#1a1a1a" stroke-width="0.22">5.3</text>
<text transform="translate(660.11,39.66) scale(0.855,1)" font-size="10.8" text-anchor="middle" font-weight="normal" fill="#1a1a1a" stroke="#1a1a1a" stroke-width="0.22">(−13.6–24.3)</text>
<text transform="translate(481.07,91.04) scale(0.860,1)" font-size="10.8" text-anchor="middle" font-weight="normal" fill="#1a1a1a" stroke="#1a1a1a" stroke-width="0.22">Site 2</text>
<text transform="translate(541.75,85.44) scale(0.855,1)" font-size="10.8" text-anchor="middle" font-weight="normal" fill="#1a1a1a" stroke="#1a1a1a" stroke-width="0.22">−5.6</text>
<text transform="translate(541.75,98.64) scale(0.855,1)" font-size="10.8" text-anchor="middle" font-weight="normal" fill="#1a1a1a" stroke="#1a1a1a" stroke-width="0.22">(−24.4–13.2)</text>
<text transform="translate(600.93,85.44) scale(0.855,1)" font-size="10.8" text-anchor="middle" font-weight="normal" fill="#1a1a1a" stroke="#1a1a1a" stroke-width="0.22">−5.5</text>
<text transform="translate(600.93,98.64) scale(0.855,1)" font-size="10.8" text-anchor="middle" font-weight="normal" fill="#1a1a1a" stroke="#1a1a1a" stroke-width="0.22">(−20.0–11.1)</text>
<text transform="translate(660.11,85.44) scale(0.855,1)" font-size="10.8" text-anchor="middle" font-weight="normal" fill="#1a1a1a" stroke="#1a1a1a" stroke-width="0.22">2.7</text>
<text transform="translate(660.11,98.64) scale(0.855,1)" font-size="10.8" text-anchor="middle" font-weight="normal" fill="#1a1a1a" stroke="#1a1a1a" stroke-width="0.22">(−14.4–19.8)</text>
<text transform="translate(541.75,150.62) scale(0.860,1)" font-size="10.8" text-anchor="middle" font-weight="normal" fill="#1a1a1a" stroke="#1a1a1a" stroke-width="0.22">Site 3</text>
<text transform="translate(600.93,145.02) scale(0.855,1)" font-size="10.8" text-anchor="middle" font-weight="normal" fill="#1a1a1a" stroke="#1a1a1a" stroke-width="0.22">0.2</text>
<text transform="translate(600.93,158.22) scale(0.855,1)" font-size="10.8" text-anchor="middle" font-weight="normal" fill="#1a1a1a" stroke="#1a1a1a" stroke-width="0.22">(−13.4–13.7)</text>
<text transform="translate(660.11,145.02) scale(0.855,1)" font-size="10.8" text-anchor="middle" font-weight="normal" fill="#1a1a1a" stroke="#1a1a1a" stroke-width="0.22">8.3</text>
<text transform="translate(660.11,158.22) scale(0.855,1)" font-size="10.8" text-anchor="middle" font-weight="normal" fill="#1a1a1a" stroke="#1a1a1a" stroke-width="0.22">(−6.8–23.5)</text>
<text transform="translate(600.93,210.20) scale(0.860,1)" font-size="10.8" text-anchor="middle" font-weight="normal" fill="#1a1a1a" stroke="#1a1a1a" stroke-width="0.22">Site 4</text>
<text transform="translate(660.11,204.60) scale(0.855,1)" font-size="10.8" text-anchor="middle" font-weight="normal" fill="#1a1a1a" stroke="#1a1a1a" stroke-width="0.22">8.2</text>
<text transform="translate(660.11,217.80) scale(0.855,1)" font-size="10.8" text-anchor="middle" font-weight="normal" fill="#1a1a1a" stroke="#1a1a1a" stroke-width="0.22">(−4.5–20.9)</text>
<text transform="translate(660.11,258.58) scale(0.860,1)" font-size="10.8" text-anchor="middle" font-weight="normal" fill="#1a1a1a" stroke="#1a1a1a" stroke-width="0.22">Expert</text>
<text transform="translate(660.11,271.78) scale(0.860,1)" font-size="10.8" text-anchor="middle" font-weight="normal" fill="#1a1a1a" stroke="#1a1a1a" stroke-width="0.22">Reviewed</text>
<text transform="translate(660.11,284.98) scale(0.860,1)" font-size="10.8" text-anchor="middle" font-weight="normal" fill="#1a1a1a" stroke="#1a1a1a" stroke-width="0.22">Somnolyzer</text>
<text transform="translate(181.00,328.50) scale(0.930,1)" font-size="12.2" text-anchor="middle" font-weight="bold" fill="#111">Sleep Stage N1 (%)</text>
<text transform="translate(542.80,328.60) scale(0.941,1)" font-size="12.2" text-anchor="middle" font-weight="bold" fill="#111">Average Sleep Stage N1 (%)</text>
<text transform="translate(9.70,147.85) rotate(-90) scale(0.930,1)" font-size="12.2" text-anchor="middle" font-weight="bold" fill="#111">Sleep Stage N1 (%)</text>
<text transform="translate(368.80,141.85) rotate(-90) scale(0.930,1)" font-size="12.2" text-anchor="middle" font-weight="bold" fill="#111">Sleep Stage N1 (%)</text>
<text transform="translate(370.00,201.20) rotate(-90) scale(1.000,1)" font-size="12.2" text-anchor="middle" font-weight="normal" fill="#111">Δ</text>
</svg>
</body></html>
